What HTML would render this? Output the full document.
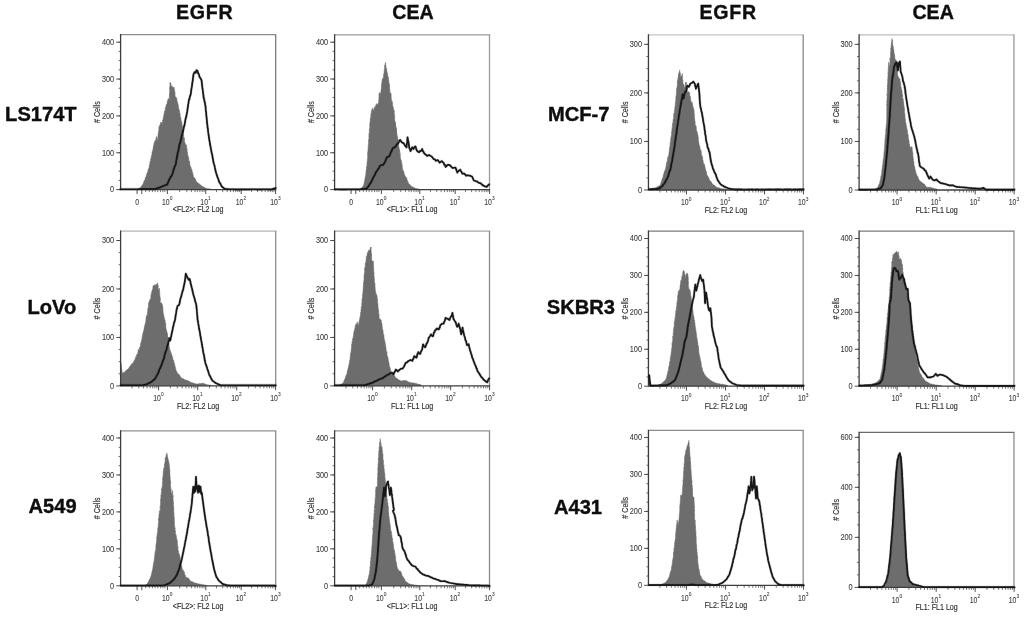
<!DOCTYPE html>
<html lang="en">
<head>
<meta charset="utf-8">
<title>EGFR and CEA expression</title>
<style>
html,body{margin:0;padding:0;background:#fff;}
body{width:1024px;height:617px;overflow:hidden;}
svg{display:block;}
text{font-family:"Liberation Sans",Arial,Helvetica,sans-serif;}
.hd{font-size:19.6px;font-weight:bold;fill:#0d0d0d;stroke:#0d0d0d;stroke-width:0.35px;}
.hw{letter-spacing:0.75px;}
.rw{font-size:20.1px;font-weight:bold;fill:#0a0a0a;stroke:#0a0a0a;stroke-width:0.35px;}
.tk{font-size:8.2px;fill:#3a3a3a;stroke:#3a3a3a;stroke-width:0.08px;}
.sup{font-size:6.2px;fill:#3a3a3a;stroke:#3a3a3a;stroke-width:0.08px;}
.ax{font-size:8.2px;fill:#303030;stroke:#303030;stroke-width:0.16px;}
</style>
</head>
<body>
<svg width="1024" height="617" viewBox="0 0 1024 617">
<defs><filter id="soft" x="-2%" y="-2%" width="104%" height="104%"><feGaussianBlur stdDeviation="0.3"/></filter></defs>
<rect x="0" y="0" width="1024" height="617" fill="#ffffff"/>
<g filter="url(#soft)">
<text x="204.6" y="18.8" text-anchor="middle" class="hd hw">EGFR</text>
<text x="413.0" y="18.8" text-anchor="middle" class="hd">CEA</text>
<text x="728.1" y="18.8" text-anchor="middle" class="hd hw">EGFR</text>
<text x="933.1" y="18.8" text-anchor="middle" class="hd">CEA</text>
<text x="76.6" y="121.0" text-anchor="end" class="rw">LS174T</text>
<text x="76.3" y="314.4" text-anchor="end" class="rw">LoVo</text>
<text x="76.6" y="513.3" text-anchor="end" class="rw">A549</text>
<text x="548.0" y="121.0" text-anchor="start" class="rw">MCF-7</text>
<text x="546.8" y="314.2" text-anchor="start" class="rw">SKBR3</text>
<text x="554.0" y="514.0" text-anchor="start" class="rw">A431</text>
<g>
<path d="M138.9 189.3 L139.6 188.4 L140.2 187.7 L140.9 186.9 L141.5 186.1 L142.2 185.1 L142.8 184.4 L143.2 183.5 L143.5 182.2 L143.9 181.7 L144.3 180.3 L144.6 180.5 L145.0 179.6 L145.3 177.9 L145.7 177.0 L146.0 176.8 L146.4 175.0 L146.7 174.4 L147.0 173.1 L147.3 172.5 L147.5 172.2 L147.8 172.1 L148.1 169.5 L148.3 170.4 L148.6 168.5 L148.9 168.6 L149.1 167.5 L149.4 164.7 L149.7 165.0 L149.9 162.7 L150.0 161.4 L150.2 161.8 L150.4 162.1 L150.6 160.5 L150.8 158.4 L151.0 159.5 L151.1 158.8 L151.3 155.8 L151.5 155.5 L151.7 155.2 L151.9 155.1 L152.1 151.7 L152.2 152.2 L152.4 152.6 L152.6 150.3 L152.8 150.0 L153.0 149.3 L153.2 147.6 L153.4 146.0 L153.6 146.1 L153.8 145.0 L154.0 143.5 L154.2 144.3 L154.4 141.8 L154.6 141.4 L154.9 141.3 L155.3 140.5 L155.7 139.7 L156.1 138.0 L156.5 136.3 L156.8 138.6 L157.2 139.8 L157.5 139.7 L157.6 139.4 L157.7 137.7 L157.9 136.7 L158.0 136.1 L158.1 133.8 L158.3 134.5 L158.4 134.2 L158.5 131.1 L158.7 132.1 L158.8 131.0 L158.9 128.2 L159.0 127.1 L159.2 127.9 L159.3 125.8 L159.4 125.6 L159.8 125.2 L160.1 124.3 L160.5 123.6 L160.8 121.9 L161.2 122.3 L161.6 122.3 L162.0 124.4 L162.1 122.9 L162.3 123.1 L162.5 122.8 L162.6 120.3 L162.8 120.0 L163.0 120.8 L163.1 118.2 L163.3 118.3 L163.4 117.1 L163.6 116.4 L163.8 114.9 L163.9 114.1 L164.2 113.7 L164.5 111.0 L164.8 112.1 L165.0 111.3 L165.3 107.7 L165.6 107.2 L165.9 106.9 L166.2 104.9 L166.6 104.1 L166.9 104.7 L167.2 102.9 L167.4 100.9 L167.6 102.7 L167.8 100.0 L168.0 99.5 L168.2 98.4 L168.7 98.9 L169.2 100.3 L169.3 98.4 L169.3 98.7 L169.3 96.8 L169.4 95.5 L169.4 94.8 L169.5 94.5 L169.5 95.2 L169.6 93.2 L169.6 93.5 L169.7 90.8 L169.7 89.4 L169.8 89.9 L169.8 87.3 L169.9 89.0 L169.9 86.1 L170.0 84.8 L170.0 83.8 L170.1 83.0 L170.1 84.1 L170.2 82.3 L170.4 83.0 L170.6 82.9 L170.8 83.2 L171.0 84.4 L171.2 86.5 L172.1 85.8 L172.6 87.1 L173.1 88.0 L174.1 87.0 L174.2 87.2 L174.3 89.2 L174.4 89.4 L174.5 91.3 L174.6 90.5 L174.7 94.1 L174.8 92.0 L175.0 94.9 L175.1 95.3 L175.5 97.4 L176.0 97.1 L176.4 99.6 L176.7 97.8 L177.0 100.6 L177.2 101.9 L177.4 102.1 L177.6 101.9 L177.8 103.5 L178.0 104.6 L178.2 104.7 L178.4 105.4 L178.6 108.5 L178.8 108.4 L179.0 108.9 L179.1 110.4 L179.3 111.3 L179.5 110.6 L179.7 113.0 L179.9 113.8 L180.0 113.2 L180.2 114.7 L180.4 117.4 L180.6 117.4 L180.7 117.1 L180.9 118.8 L181.1 119.7 L181.2 121.4 L181.4 122.8 L181.5 121.2 L181.7 122.0 L181.8 124.1 L182.0 123.7 L182.1 125.0 L182.3 125.8 L182.4 126.6 L182.6 129.2 L182.7 128.4 L182.9 130.7 L183.0 133.0 L183.2 131.3 L183.3 134.2 L183.5 134.5 L183.6 134.1 L183.8 137.5 L183.9 137.7 L184.1 137.4 L184.2 140.0 L184.4 138.4 L184.5 141.6 L184.7 142.5 L184.8 142.0 L185.5 144.7 L186.2 144.6 L186.3 146.6 L186.5 145.4 L186.6 147.8 L186.7 148.8 L186.8 148.3 L187.0 148.2 L187.1 149.0 L187.2 151.5 L187.4 152.5 L187.5 152.1 L187.6 154.6 L187.8 154.6 L188.0 155.9 L188.2 156.9 L188.4 156.8 L188.7 157.2 L188.9 160.9 L189.1 161.6 L189.3 161.7 L189.6 160.8 L189.8 163.3 L190.0 165.6 L190.2 165.8 L190.5 166.5 L190.7 166.4 L191.0 167.9 L191.2 167.9 L191.5 170.7 L191.8 169.2 L192.0 170.6 L192.3 173.0 L192.6 172.2 L192.8 173.5 L193.1 174.4 L193.3 176.3 L193.6 176.7 L194.1 178.0 L194.6 177.7 L195.1 178.5 L195.6 179.6 L196.1 180.9 L196.5 181.5 L197.3 182.6 L198.0 183.1 L198.7 183.3 L199.5 184.3 L200.3 184.7 L201.0 185.3 L201.8 186.0 L202.6 186.4 L203.4 186.9 L204.4 187.2 L205.3 187.9 L206.3 188.2 L207.3 188.7 L208.3 188.8 L209.2 188.9 L210.2 189.1 L211.2 189.3 L211.2 189.3 L138.9 189.3 Z" fill="#6d6d6d" stroke="#6d6d6d" stroke-width="0.5"/>
<path d="M120.60 34.70 H276.30" fill="none" stroke="#8c8c8c" stroke-width="1.3"/>
<path d="M275.70 34.70 V189.60" fill="none" stroke="#7c7c7c" stroke-width="1.3"/>
<path d="M120.60 34.10 V189.60 H276.30" fill="none" stroke="#3c3c3c" stroke-width="1.3"/>
<line x1="116.20" y1="42.20" x2="120.60" y2="42.20" stroke="#3c3c3c" stroke-width="0.9"/>
<text transform="translate(114.20 44.95) scale(0.900 1)" text-anchor="end" class="tk">400</text>
<line x1="116.20" y1="79.05" x2="120.60" y2="79.05" stroke="#3c3c3c" stroke-width="0.9"/>
<text transform="translate(114.20 81.80) scale(0.900 1)" text-anchor="end" class="tk">300</text>
<line x1="116.20" y1="115.90" x2="120.60" y2="115.90" stroke="#3c3c3c" stroke-width="0.9"/>
<text transform="translate(114.20 118.65) scale(0.900 1)" text-anchor="end" class="tk">200</text>
<line x1="116.20" y1="152.75" x2="120.60" y2="152.75" stroke="#3c3c3c" stroke-width="0.9"/>
<text transform="translate(114.20 155.50) scale(0.900 1)" text-anchor="end" class="tk">100</text>
<line x1="116.20" y1="189.60" x2="120.60" y2="189.60" stroke="#3c3c3c" stroke-width="0.9"/>
<text transform="translate(114.20 192.35) scale(0.900 1)" text-anchor="end" class="tk">0</text>
<line x1="118.60" y1="180.39" x2="120.60" y2="180.39" stroke="#444" stroke-width="0.8"/>
<line x1="118.60" y1="171.17" x2="120.60" y2="171.17" stroke="#444" stroke-width="0.8"/>
<line x1="118.60" y1="161.96" x2="120.60" y2="161.96" stroke="#444" stroke-width="0.8"/>
<line x1="118.60" y1="152.75" x2="120.60" y2="152.75" stroke="#444" stroke-width="0.8"/>
<line x1="118.60" y1="143.54" x2="120.60" y2="143.54" stroke="#444" stroke-width="0.8"/>
<line x1="118.60" y1="134.32" x2="120.60" y2="134.32" stroke="#444" stroke-width="0.8"/>
<line x1="118.60" y1="125.11" x2="120.60" y2="125.11" stroke="#444" stroke-width="0.8"/>
<line x1="118.60" y1="115.90" x2="120.60" y2="115.90" stroke="#444" stroke-width="0.8"/>
<line x1="118.60" y1="106.69" x2="120.60" y2="106.69" stroke="#444" stroke-width="0.8"/>
<line x1="118.60" y1="97.47" x2="120.60" y2="97.47" stroke="#444" stroke-width="0.8"/>
<line x1="118.60" y1="88.26" x2="120.60" y2="88.26" stroke="#444" stroke-width="0.8"/>
<line x1="118.60" y1="79.05" x2="120.60" y2="79.05" stroke="#444" stroke-width="0.8"/>
<line x1="118.60" y1="69.84" x2="120.60" y2="69.84" stroke="#444" stroke-width="0.8"/>
<line x1="118.60" y1="60.62" x2="120.60" y2="60.62" stroke="#444" stroke-width="0.8"/>
<line x1="118.60" y1="51.41" x2="120.60" y2="51.41" stroke="#444" stroke-width="0.8"/>
<line x1="118.60" y1="42.20" x2="120.60" y2="42.20" stroke="#444" stroke-width="0.8"/>
<line x1="145.70" y1="189.60" x2="145.70" y2="192.10" stroke="#4a4a4a" stroke-width="0.75"/>
<line x1="149.30" y1="189.60" x2="149.30" y2="192.10" stroke="#4a4a4a" stroke-width="0.75"/>
<line x1="152.40" y1="189.60" x2="152.40" y2="192.10" stroke="#4a4a4a" stroke-width="0.75"/>
<line x1="155.10" y1="189.60" x2="155.10" y2="192.10" stroke="#4a4a4a" stroke-width="0.75"/>
<line x1="157.80" y1="189.60" x2="157.80" y2="192.10" stroke="#4a4a4a" stroke-width="0.75"/>
<line x1="160.60" y1="189.60" x2="160.60" y2="192.10" stroke="#4a4a4a" stroke-width="0.75"/>
<line x1="162.90" y1="189.60" x2="162.90" y2="192.10" stroke="#4a4a4a" stroke-width="0.75"/>
<line x1="164.90" y1="189.60" x2="164.90" y2="192.10" stroke="#4a4a4a" stroke-width="0.75"/>
<line x1="179.70" y1="189.60" x2="179.70" y2="192.10" stroke="#4a4a4a" stroke-width="0.75"/>
<line x1="186.75" y1="189.60" x2="186.75" y2="192.10" stroke="#4a4a4a" stroke-width="0.75"/>
<line x1="191.40" y1="189.60" x2="191.40" y2="192.10" stroke="#4a4a4a" stroke-width="0.75"/>
<line x1="194.95" y1="189.60" x2="194.95" y2="192.10" stroke="#4a4a4a" stroke-width="0.75"/>
<line x1="197.30" y1="189.60" x2="197.30" y2="192.10" stroke="#4a4a4a" stroke-width="0.75"/>
<line x1="199.85" y1="189.60" x2="199.85" y2="192.10" stroke="#4a4a4a" stroke-width="0.75"/>
<line x1="202.10" y1="189.60" x2="202.10" y2="192.10" stroke="#4a4a4a" stroke-width="0.75"/>
<line x1="204.05" y1="189.60" x2="204.05" y2="192.10" stroke="#4a4a4a" stroke-width="0.75"/>
<line x1="216.46" y1="189.60" x2="216.46" y2="192.10" stroke="#4a4a4a" stroke-width="0.75"/>
<line x1="222.69" y1="189.60" x2="222.69" y2="192.10" stroke="#4a4a4a" stroke-width="0.75"/>
<line x1="227.11" y1="189.60" x2="227.11" y2="192.10" stroke="#4a4a4a" stroke-width="0.75"/>
<line x1="230.54" y1="189.60" x2="230.54" y2="192.10" stroke="#4a4a4a" stroke-width="0.75"/>
<line x1="233.35" y1="189.60" x2="233.35" y2="192.10" stroke="#4a4a4a" stroke-width="0.75"/>
<line x1="235.72" y1="189.60" x2="235.72" y2="192.10" stroke="#4a4a4a" stroke-width="0.75"/>
<line x1="237.77" y1="189.60" x2="237.77" y2="192.10" stroke="#4a4a4a" stroke-width="0.75"/>
<line x1="239.58" y1="189.60" x2="239.58" y2="192.10" stroke="#4a4a4a" stroke-width="0.75"/>
<line x1="251.56" y1="189.60" x2="251.56" y2="192.10" stroke="#4a4a4a" stroke-width="0.75"/>
<line x1="257.61" y1="189.60" x2="257.61" y2="192.10" stroke="#4a4a4a" stroke-width="0.75"/>
<line x1="261.91" y1="189.60" x2="261.91" y2="192.10" stroke="#4a4a4a" stroke-width="0.75"/>
<line x1="265.24" y1="189.60" x2="265.24" y2="192.10" stroke="#4a4a4a" stroke-width="0.75"/>
<line x1="267.97" y1="189.60" x2="267.97" y2="192.10" stroke="#4a4a4a" stroke-width="0.75"/>
<line x1="270.27" y1="189.60" x2="270.27" y2="192.10" stroke="#4a4a4a" stroke-width="0.75"/>
<line x1="272.27" y1="189.60" x2="272.27" y2="192.10" stroke="#4a4a4a" stroke-width="0.75"/>
<line x1="274.03" y1="189.60" x2="274.03" y2="192.10" stroke="#4a4a4a" stroke-width="0.75"/>
<line x1="137.10" y1="189.60" x2="137.10" y2="194.00" stroke="#3c3c3c" stroke-width="0.9"/>
<line x1="141.80" y1="189.60" x2="141.80" y2="194.00" stroke="#3c3c3c" stroke-width="0.9"/>
<line x1="167.40" y1="189.60" x2="167.40" y2="194.00" stroke="#3c3c3c" stroke-width="0.9"/>
<line x1="205.80" y1="189.60" x2="205.80" y2="194.00" stroke="#3c3c3c" stroke-width="0.9"/>
<line x1="241.20" y1="189.60" x2="241.20" y2="194.00" stroke="#3c3c3c" stroke-width="0.9"/>
<line x1="275.60" y1="189.60" x2="275.60" y2="194.00" stroke="#3c3c3c" stroke-width="0.9"/>
<text transform="translate(137.10 204.80) scale(0.840 1)" text-anchor="middle" class="tk">0</text>
<text transform="translate(169.60 204.80) scale(0.840 1)" text-anchor="end" class="tk">10</text>
<text transform="translate(169.70 200.10) scale(0.780 1)" text-anchor="start" class="sup">0</text>
<text transform="translate(208.00 204.80) scale(0.840 1)" text-anchor="end" class="tk">10</text>
<text transform="translate(208.10 200.10) scale(0.780 1)" text-anchor="start" class="sup">1</text>
<text transform="translate(243.40 204.80) scale(0.840 1)" text-anchor="end" class="tk">10</text>
<text transform="translate(243.50 200.10) scale(0.780 1)" text-anchor="start" class="sup">2</text>
<text transform="translate(277.80 204.80) scale(0.840 1)" text-anchor="end" class="tk">10</text>
<text transform="translate(277.90 200.10) scale(0.780 1)" text-anchor="start" class="sup">3</text>
<text transform="translate(198.10 212.30) scale(0.870 1)" text-anchor="middle" class="ax">&lt;FL2&gt;: FL2 Log</text>
<text transform="translate(100.20 112.15) rotate(-90) scale(0.87 1)" text-anchor="middle" class="ax"># Cells</text>
<path d="M120.4 189.3 L121.6 189.2 L122.8 189.2 L124.0 189.2 L125.3 189.2 L126.5 189.2 L127.7 189.2 L128.9 189.2 L130.1 189.2 L131.4 189.2 L132.6 189.2 L133.8 189.2 L135.0 189.2 L136.2 189.2 L137.5 189.2 L138.7 189.1 L139.9 189.1 L141.1 189.1 L142.3 189.1 L143.6 189.1 L144.8 189.1 L146.0 189.1 L147.2 189.1 L148.4 189.1 L149.7 189.1 L150.9 189.1 L152.1 189.1 L153.3 189.1 L154.6 189.1 L155.9 188.7 L157.2 188.3 L158.5 187.9 L159.7 187.4 L160.9 186.9 L162.1 186.4 L163.3 185.9 L164.6 185.4 L165.9 185.0 L167.2 184.4 L167.7 183.2 L168.2 182.0 L168.7 180.9 L169.2 179.5 L169.9 178.6 L170.7 176.9 L171.4 176.1 L172.1 174.5 L172.5 173.5 L172.9 172.4 L173.3 170.8 L173.7 169.2 L174.1 168.5 L174.5 166.9 L175.6 164.9 L175.9 163.3 L176.1 162.3 L176.3 160.2 L176.6 159.7 L176.8 158.1 L177.0 157.1 L177.3 155.1 L177.5 154.5 L177.7 152.8 L178.0 151.9 L178.2 151.6 L178.5 150.1 L178.7 148.7 L179.0 147.2 L179.3 145.4 L179.6 144.0 L179.9 143.4 L180.3 142.7 L180.6 141.1 L180.9 139.3 L181.2 138.9 L181.5 136.7 L181.8 135.3 L182.1 134.8 L182.4 133.5 L182.7 131.8 L183.0 131.8 L183.3 129.8 L183.6 128.7 L183.8 127.5 L184.1 125.8 L184.4 125.9 L184.6 124.7 L184.9 122.9 L185.2 120.9 L185.4 119.8 L185.7 118.5 L186.0 117.1 L186.2 117.0 L186.5 115.2 L186.8 113.9 L187.0 112.5 L187.2 111.5 L187.4 110.3 L187.6 109.0 L187.8 107.2 L188.0 106.8 L188.1 104.6 L188.3 103.8 L188.5 102.9 L188.7 101.2 L189.1 99.3 L189.4 99.4 L189.7 97.5 L190.2 95.5 L190.7 94.6 L190.9 92.7 L191.0 92.5 L191.2 90.2 L191.4 89.1 L191.5 88.1 L191.7 87.4 L191.9 86.6 L192.1 84.5 L192.2 84.0 L192.4 82.3 L192.6 81.2 L192.8 80.3 L192.9 78.4 L193.1 77.9 L193.3 76.2 L193.4 74.7 L193.6 74.0 L194.6 72.0 L195.6 72.8 L196.1 72.2 L196.5 70.2 L197.5 71.0 L197.9 72.6 L198.3 73.8 L198.7 73.9 L199.1 75.1 L199.5 76.9 L200.5 78.3 L201.4 79.9 L201.6 80.6 L201.7 81.7 L201.9 83.3 L202.0 85.3 L202.2 85.2 L202.3 87.7 L202.5 88.4 L202.6 89.2 L202.8 90.1 L202.9 91.8 L203.1 93.0 L203.2 93.6 L203.4 95.4 L203.6 97.3 L203.9 98.5 L204.1 99.4 L204.4 100.3 L204.6 102.1 L204.8 102.1 L205.1 104.3 L205.3 105.3 L205.5 106.0 L205.6 107.5 L205.7 108.8 L205.8 110.5 L205.9 111.5 L206.1 112.2 L206.2 114.2 L206.3 115.0 L206.4 116.6 L206.6 117.2 L206.7 118.4 L206.8 119.6 L206.9 120.6 L207.0 122.7 L207.2 123.8 L207.3 124.7 L207.3 124.8 L207.5 126.3 L207.6 127.9 L207.8 128.0 L207.9 129.1 L208.1 131.4 L208.3 132.7 L208.4 133.7 L208.6 134.6 L208.8 136.4 L208.9 137.5 L209.1 137.7 L209.2 139.5 L209.5 141.1 L209.7 141.5 L209.9 143.5 L210.1 144.8 L210.3 145.4 L210.5 146.5 L210.8 147.9 L211.0 149.4 L211.2 150.3 L211.5 152.2 L211.7 152.8 L212.0 153.8 L212.2 154.9 L212.5 157.0 L212.8 158.1 L213.0 159.5 L213.3 161.3 L213.5 162.1 L213.8 163.5 L214.1 164.5 L214.4 165.2 L214.7 166.7 L214.9 167.7 L215.2 169.0 L215.5 170.8 L215.8 171.5 L216.1 172.7 L216.5 174.0 L216.9 175.1 L217.3 176.7 L217.8 177.8 L218.2 178.8 L218.6 180.1 L219.0 181.5 L219.6 182.6 L220.2 183.4 L220.8 184.5 L221.3 185.7 L221.9 186.7 L222.9 187.4 L223.9 188.2 L224.9 188.9 L226.3 189.0 L227.8 189.1 L229.3 189.2 L230.7 189.3 L231.9 189.2 L233.1 189.2 L234.3 189.3 L235.6 189.3 L236.8 189.3 L238.0 189.3 L239.2 189.3 L240.4 189.3 L241.6 189.3 L242.8 189.3 L244.0 189.3 L245.2 189.3 L246.4 189.3 L247.6 189.3 L248.8 189.3 L250.0 189.3 L251.2 189.2 L252.4 189.2 L253.6 189.3 L254.9 189.2 L256.1 189.3 L257.3 189.3 L258.5 189.3 L259.7 189.3 L260.9 189.3 L262.1 189.3 L263.3 189.2 L264.5 189.3 L265.7 189.2 L266.9 189.2 L268.1 189.3 L269.3 189.3 L270.5 189.3 L271.7 189.3 L273.2 188.8 L274.7 188.3 L275.6 187.9" fill="none" stroke="#000" stroke-opacity="0.22" stroke-width="2.7" stroke-linejoin="round" stroke-linecap="round"/>
<path d="M120.4 189.3 L121.6 189.2 L122.8 189.2 L124.0 189.2 L125.3 189.2 L126.5 189.2 L127.7 189.2 L128.9 189.2 L130.1 189.2 L131.4 189.2 L132.6 189.2 L133.8 189.2 L135.0 189.2 L136.2 189.2 L137.5 189.2 L138.7 189.1 L139.9 189.1 L141.1 189.1 L142.3 189.1 L143.6 189.1 L144.8 189.1 L146.0 189.1 L147.2 189.1 L148.4 189.1 L149.7 189.1 L150.9 189.1 L152.1 189.1 L153.3 189.1 L154.6 189.1 L155.9 188.7 L157.2 188.3 L158.5 187.9 L159.7 187.4 L160.9 186.9 L162.1 186.4 L163.3 185.9 L164.6 185.4 L165.9 185.0 L167.2 184.4 L167.7 183.2 L168.2 182.0 L168.7 180.9 L169.2 179.5 L169.9 178.6 L170.7 176.9 L171.4 176.1 L172.1 174.5 L172.5 173.5 L172.9 172.4 L173.3 170.8 L173.7 169.2 L174.1 168.5 L174.5 166.9 L175.6 164.9 L175.9 163.3 L176.1 162.3 L176.3 160.2 L176.6 159.7 L176.8 158.1 L177.0 157.1 L177.3 155.1 L177.5 154.5 L177.7 152.8 L178.0 151.9 L178.2 151.6 L178.5 150.1 L178.7 148.7 L179.0 147.2 L179.3 145.4 L179.6 144.0 L179.9 143.4 L180.3 142.7 L180.6 141.1 L180.9 139.3 L181.2 138.9 L181.5 136.7 L181.8 135.3 L182.1 134.8 L182.4 133.5 L182.7 131.8 L183.0 131.8 L183.3 129.8 L183.6 128.7 L183.8 127.5 L184.1 125.8 L184.4 125.9 L184.6 124.7 L184.9 122.9 L185.2 120.9 L185.4 119.8 L185.7 118.5 L186.0 117.1 L186.2 117.0 L186.5 115.2 L186.8 113.9 L187.0 112.5 L187.2 111.5 L187.4 110.3 L187.6 109.0 L187.8 107.2 L188.0 106.8 L188.1 104.6 L188.3 103.8 L188.5 102.9 L188.7 101.2 L189.1 99.3 L189.4 99.4 L189.7 97.5 L190.2 95.5 L190.7 94.6 L190.9 92.7 L191.0 92.5 L191.2 90.2 L191.4 89.1 L191.5 88.1 L191.7 87.4 L191.9 86.6 L192.1 84.5 L192.2 84.0 L192.4 82.3 L192.6 81.2 L192.8 80.3 L192.9 78.4 L193.1 77.9 L193.3 76.2 L193.4 74.7 L193.6 74.0 L194.6 72.0 L195.6 72.8 L196.1 72.2 L196.5 70.2 L197.5 71.0 L197.9 72.6 L198.3 73.8 L198.7 73.9 L199.1 75.1 L199.5 76.9 L200.5 78.3 L201.4 79.9 L201.6 80.6 L201.7 81.7 L201.9 83.3 L202.0 85.3 L202.2 85.2 L202.3 87.7 L202.5 88.4 L202.6 89.2 L202.8 90.1 L202.9 91.8 L203.1 93.0 L203.2 93.6 L203.4 95.4 L203.6 97.3 L203.9 98.5 L204.1 99.4 L204.4 100.3 L204.6 102.1 L204.8 102.1 L205.1 104.3 L205.3 105.3 L205.5 106.0 L205.6 107.5 L205.7 108.8 L205.8 110.5 L205.9 111.5 L206.1 112.2 L206.2 114.2 L206.3 115.0 L206.4 116.6 L206.6 117.2 L206.7 118.4 L206.8 119.6 L206.9 120.6 L207.0 122.7 L207.2 123.8 L207.3 124.7 L207.3 124.8 L207.5 126.3 L207.6 127.9 L207.8 128.0 L207.9 129.1 L208.1 131.4 L208.3 132.7 L208.4 133.7 L208.6 134.6 L208.8 136.4 L208.9 137.5 L209.1 137.7 L209.2 139.5 L209.5 141.1 L209.7 141.5 L209.9 143.5 L210.1 144.8 L210.3 145.4 L210.5 146.5 L210.8 147.9 L211.0 149.4 L211.2 150.3 L211.5 152.2 L211.7 152.8 L212.0 153.8 L212.2 154.9 L212.5 157.0 L212.8 158.1 L213.0 159.5 L213.3 161.3 L213.5 162.1 L213.8 163.5 L214.1 164.5 L214.4 165.2 L214.7 166.7 L214.9 167.7 L215.2 169.0 L215.5 170.8 L215.8 171.5 L216.1 172.7 L216.5 174.0 L216.9 175.1 L217.3 176.7 L217.8 177.8 L218.2 178.8 L218.6 180.1 L219.0 181.5 L219.6 182.6 L220.2 183.4 L220.8 184.5 L221.3 185.7 L221.9 186.7 L222.9 187.4 L223.9 188.2 L224.9 188.9 L226.3 189.0 L227.8 189.1 L229.3 189.2 L230.7 189.3 L231.9 189.2 L233.1 189.2 L234.3 189.3 L235.6 189.3 L236.8 189.3 L238.0 189.3 L239.2 189.3 L240.4 189.3 L241.6 189.3 L242.8 189.3 L244.0 189.3 L245.2 189.3 L246.4 189.3 L247.6 189.3 L248.8 189.3 L250.0 189.3 L251.2 189.2 L252.4 189.2 L253.6 189.3 L254.9 189.2 L256.1 189.3 L257.3 189.3 L258.5 189.3 L259.7 189.3 L260.9 189.3 L262.1 189.3 L263.3 189.2 L264.5 189.3 L265.7 189.2 L266.9 189.2 L268.1 189.3 L269.3 189.3 L270.5 189.3 L271.7 189.3 L273.2 188.8 L274.7 188.3 L275.6 187.9" fill="none" stroke="#141414" stroke-width="1.65" stroke-linejoin="round" stroke-linecap="round"/>
</g>
<g>
<path d="M360.6 189.3 L361.2 188.4 L361.8 187.8 L362.4 187.0 L363.0 186.1 L363.6 185.4 L363.8 184.3 L364.0 183.4 L364.2 182.5 L364.4 182.0 L364.6 180.6 L364.7 180.6 L364.9 178.6 L365.1 177.9 L365.3 176.8 L365.5 176.7 L365.6 175.4 L365.7 174.7 L365.8 173.4 L365.9 173.1 L366.0 171.7 L366.1 170.3 L366.2 169.9 L366.4 168.6 L366.5 167.2 L366.6 168.2 L366.7 166.9 L366.8 166.0 L366.9 165.7 L367.0 163.3 L367.1 162.3 L367.2 161.5 L367.3 160.5 L367.4 160.4 L367.5 158.5 L367.5 157.9 L367.6 157.3 L367.7 155.7 L367.7 153.8 L367.8 155.0 L367.8 151.9 L367.9 152.8 L367.9 150.5 L368.0 149.2 L368.1 148.8 L368.1 147.5 L368.2 146.8 L368.2 147.6 L368.3 146.8 L368.3 144.8 L368.4 144.8 L368.5 143.3 L368.5 142.4 L368.6 142.7 L368.7 139.9 L368.7 140.8 L368.8 139.3 L368.9 138.3 L368.9 135.2 L369.0 134.5 L369.1 133.4 L369.1 133.5 L369.2 134.5 L369.3 133.3 L369.3 132.3 L369.4 129.1 L369.5 130.0 L369.5 129.3 L369.6 128.5 L369.7 127.5 L369.8 124.5 L369.8 123.6 L369.9 124.7 L370.0 123.6 L370.0 122.2 L370.2 120.7 L370.3 121.2 L370.4 117.8 L370.6 119.4 L370.7 118.2 L370.8 115.5 L371.0 113.6 L371.1 114.2 L371.3 113.6 L371.4 111.9 L371.7 109.7 L372.1 109.4 L372.4 110.2 L372.8 107.8 L373.3 110.5 L373.9 109.9 L374.3 108.2 L374.6 106.9 L375.0 108.7 L375.3 106.6 L375.9 105.0 L376.6 103.6 L377.2 104.4 L377.9 104.5 L378.6 101.8 L378.7 101.7 L378.7 101.5 L378.8 99.2 L378.9 98.6 L378.9 98.4 L379.0 95.6 L379.0 94.7 L379.1 95.0 L379.1 93.7 L379.2 92.6 L379.7 93.0 L380.2 94.9 L380.4 92.8 L380.6 93.1 L380.8 92.8 L381.0 90.3 L381.2 89.2 L381.3 87.7 L381.4 86.3 L381.4 85.5 L381.5 84.5 L381.6 84.2 L381.7 83.3 L381.8 82.6 L381.9 82.3 L382.0 81.4 L382.1 80.0 L382.6 78.4 L383.0 78.4 L383.5 77.0 L383.6 74.7 L383.7 75.1 L383.9 73.4 L384.0 73.6 L384.1 72.8 L384.2 70.2 L384.4 69.9 L384.5 69.1 L384.6 67.5 L384.8 65.7 L384.9 64.7 L385.0 66.8 L385.2 65.0 L385.3 63.0 L385.5 62.4 L385.6 62.5 L385.7 64.9 L385.9 66.6 L386.0 67.0 L386.1 67.0 L386.3 69.7 L386.4 69.5 L386.6 68.7 L386.8 70.8 L387.0 71.9 L387.2 72.3 L387.4 74.1 L387.6 73.8 L387.8 76.7 L388.0 78.1 L388.2 76.5 L388.4 79.0 L388.6 79.1 L388.8 81.3 L389.0 82.4 L389.2 84.3 L389.4 84.0 L389.4 84.2 L389.5 86.4 L389.6 85.5 L389.6 88.3 L389.7 88.4 L389.7 88.9 L389.8 89.7 L389.9 90.6 L389.9 92.8 L390.9 93.1 L391.0 93.6 L391.1 94.5 L391.2 95.3 L391.2 98.2 L391.3 98.5 L391.6 99.9 L391.8 101.6 L392.0 101.2 L392.3 101.9 L392.5 102.3 L392.6 104.3 L392.8 105.9 L393.0 107.5 L393.1 107.2 L393.3 107.3 L393.5 109.2 L394.2 110.5 L394.3 110.6 L394.3 113.4 L394.4 114.3 L394.5 114.3 L394.5 114.9 L394.6 114.8 L394.6 115.7 L394.7 116.5 L394.7 119.3 L394.8 120.6 L394.8 121.3 L394.9 122.2 L395.1 124.4 L395.2 123.5 L395.3 123.6 L395.4 124.3 L395.6 126.0 L395.7 127.8 L395.8 129.1 L396.0 129.0 L396.1 129.8 L396.3 132.3 L396.5 132.2 L396.6 133.7 L396.8 134.2 L396.9 136.6 L397.0 137.8 L397.1 138.3 L397.3 139.8 L397.4 138.9 L397.5 138.9 L397.6 140.7 L397.8 142.7 L397.6 141.3 L397.5 139.6 L397.4 138.5 L397.3 137.7 L397.1 137.7 L397.0 138.3 L396.9 137.3 L396.8 136.0 L396.7 135.1 L396.5 132.4 L396.4 133.4 L396.3 130.7 L396.2 130.8 L396.0 128.3 L395.9 130.2 L395.8 126.9 L395.7 127.4 L395.6 126.8 L395.4 125.8 L395.3 125.0 L395.2 123.2 L395.1 123.6 L394.9 123.2 L394.8 121.0 L395.0 123.3 L395.1 123.8 L395.2 122.2 L395.3 125.1 L395.5 124.1 L395.6 126.9 L395.7 126.9 L395.9 129.3 L396.0 127.6 L396.1 131.4 L396.3 129.5 L396.4 130.4 L396.5 131.1 L396.6 132.5 L396.8 135.0 L396.9 136.5 L397.1 137.7 L397.3 136.2 L397.4 138.7 L397.6 140.0 L397.8 140.7 L397.9 140.1 L398.1 143.2 L398.2 143.4 L398.4 144.1 L398.6 143.7 L398.7 145.2 L398.9 147.0 L399.0 147.2 L399.1 148.0 L399.3 150.3 L399.4 149.6 L399.5 151.9 L399.6 150.2 L399.8 152.7 L399.9 154.2 L400.0 152.9 L400.2 156.0 L400.3 155.6 L400.4 157.6 L400.6 158.5 L400.7 158.6 L400.9 161.3 L401.0 159.9 L401.2 160.5 L401.4 162.3 L401.6 162.0 L401.8 163.0 L401.9 166.0 L402.1 164.9 L402.3 167.1 L402.5 168.9 L402.6 168.7 L403.0 170.5 L403.3 171.5 L403.6 170.9 L403.9 171.7 L404.3 174.2 L404.6 174.8 L405.2 176.2 L405.9 176.9 L406.5 177.5 L406.9 179.1 L407.2 179.8 L407.5 180.8 L407.8 181.9 L408.2 182.0 L408.5 183.4 L409.2 184.2 L410.0 184.6 L410.7 185.5 L411.4 186.3 L412.4 186.8 L413.4 187.3 L414.4 187.7 L415.3 188.3 L416.3 188.6 L417.3 188.8 L418.3 189.0 L419.2 189.3 L419.2 189.3 L360.6 189.3 Z" fill="#6d6d6d" stroke="#6d6d6d" stroke-width="0.5"/>
<path d="M334.60 34.80 H490.10" fill="none" stroke="#9a9a9a" stroke-width="1.3"/>
<path d="M489.50 34.80 V189.60" fill="none" stroke="#9a9a9a" stroke-width="1.3"/>
<path d="M334.60 34.20 V189.60 H490.10" fill="none" stroke="#3c3c3c" stroke-width="1.3"/>
<line x1="330.20" y1="42.20" x2="334.60" y2="42.20" stroke="#3c3c3c" stroke-width="0.9"/>
<text transform="translate(328.20 44.95) scale(0.900 1)" text-anchor="end" class="tk">400</text>
<line x1="330.20" y1="79.05" x2="334.60" y2="79.05" stroke="#3c3c3c" stroke-width="0.9"/>
<text transform="translate(328.20 81.80) scale(0.900 1)" text-anchor="end" class="tk">300</text>
<line x1="330.20" y1="115.90" x2="334.60" y2="115.90" stroke="#3c3c3c" stroke-width="0.9"/>
<text transform="translate(328.20 118.65) scale(0.900 1)" text-anchor="end" class="tk">200</text>
<line x1="330.20" y1="152.75" x2="334.60" y2="152.75" stroke="#3c3c3c" stroke-width="0.9"/>
<text transform="translate(328.20 155.50) scale(0.900 1)" text-anchor="end" class="tk">100</text>
<line x1="330.20" y1="189.60" x2="334.60" y2="189.60" stroke="#3c3c3c" stroke-width="0.9"/>
<text transform="translate(328.20 192.35) scale(0.900 1)" text-anchor="end" class="tk">0</text>
<line x1="332.60" y1="180.39" x2="334.60" y2="180.39" stroke="#444" stroke-width="0.8"/>
<line x1="332.60" y1="171.17" x2="334.60" y2="171.17" stroke="#444" stroke-width="0.8"/>
<line x1="332.60" y1="161.96" x2="334.60" y2="161.96" stroke="#444" stroke-width="0.8"/>
<line x1="332.60" y1="152.75" x2="334.60" y2="152.75" stroke="#444" stroke-width="0.8"/>
<line x1="332.60" y1="143.54" x2="334.60" y2="143.54" stroke="#444" stroke-width="0.8"/>
<line x1="332.60" y1="134.32" x2="334.60" y2="134.32" stroke="#444" stroke-width="0.8"/>
<line x1="332.60" y1="125.11" x2="334.60" y2="125.11" stroke="#444" stroke-width="0.8"/>
<line x1="332.60" y1="115.90" x2="334.60" y2="115.90" stroke="#444" stroke-width="0.8"/>
<line x1="332.60" y1="106.69" x2="334.60" y2="106.69" stroke="#444" stroke-width="0.8"/>
<line x1="332.60" y1="97.47" x2="334.60" y2="97.47" stroke="#444" stroke-width="0.8"/>
<line x1="332.60" y1="88.26" x2="334.60" y2="88.26" stroke="#444" stroke-width="0.8"/>
<line x1="332.60" y1="79.05" x2="334.60" y2="79.05" stroke="#444" stroke-width="0.8"/>
<line x1="332.60" y1="69.84" x2="334.60" y2="69.84" stroke="#444" stroke-width="0.8"/>
<line x1="332.60" y1="60.62" x2="334.60" y2="60.62" stroke="#444" stroke-width="0.8"/>
<line x1="332.60" y1="51.41" x2="334.60" y2="51.41" stroke="#444" stroke-width="0.8"/>
<line x1="332.60" y1="42.20" x2="334.60" y2="42.20" stroke="#444" stroke-width="0.8"/>
<line x1="359.70" y1="189.60" x2="359.70" y2="192.10" stroke="#4a4a4a" stroke-width="0.75"/>
<line x1="363.30" y1="189.60" x2="363.30" y2="192.10" stroke="#4a4a4a" stroke-width="0.75"/>
<line x1="366.40" y1="189.60" x2="366.40" y2="192.10" stroke="#4a4a4a" stroke-width="0.75"/>
<line x1="369.10" y1="189.60" x2="369.10" y2="192.10" stroke="#4a4a4a" stroke-width="0.75"/>
<line x1="371.80" y1="189.60" x2="371.80" y2="192.10" stroke="#4a4a4a" stroke-width="0.75"/>
<line x1="374.60" y1="189.60" x2="374.60" y2="192.10" stroke="#4a4a4a" stroke-width="0.75"/>
<line x1="376.90" y1="189.60" x2="376.90" y2="192.10" stroke="#4a4a4a" stroke-width="0.75"/>
<line x1="378.90" y1="189.60" x2="378.90" y2="192.10" stroke="#4a4a4a" stroke-width="0.75"/>
<line x1="393.70" y1="189.60" x2="393.70" y2="192.10" stroke="#4a4a4a" stroke-width="0.75"/>
<line x1="400.75" y1="189.60" x2="400.75" y2="192.10" stroke="#4a4a4a" stroke-width="0.75"/>
<line x1="405.40" y1="189.60" x2="405.40" y2="192.10" stroke="#4a4a4a" stroke-width="0.75"/>
<line x1="408.95" y1="189.60" x2="408.95" y2="192.10" stroke="#4a4a4a" stroke-width="0.75"/>
<line x1="411.30" y1="189.60" x2="411.30" y2="192.10" stroke="#4a4a4a" stroke-width="0.75"/>
<line x1="413.85" y1="189.60" x2="413.85" y2="192.10" stroke="#4a4a4a" stroke-width="0.75"/>
<line x1="416.10" y1="189.60" x2="416.10" y2="192.10" stroke="#4a4a4a" stroke-width="0.75"/>
<line x1="418.05" y1="189.60" x2="418.05" y2="192.10" stroke="#4a4a4a" stroke-width="0.75"/>
<line x1="430.46" y1="189.60" x2="430.46" y2="192.10" stroke="#4a4a4a" stroke-width="0.75"/>
<line x1="436.69" y1="189.60" x2="436.69" y2="192.10" stroke="#4a4a4a" stroke-width="0.75"/>
<line x1="441.11" y1="189.60" x2="441.11" y2="192.10" stroke="#4a4a4a" stroke-width="0.75"/>
<line x1="444.54" y1="189.60" x2="444.54" y2="192.10" stroke="#4a4a4a" stroke-width="0.75"/>
<line x1="447.35" y1="189.60" x2="447.35" y2="192.10" stroke="#4a4a4a" stroke-width="0.75"/>
<line x1="449.72" y1="189.60" x2="449.72" y2="192.10" stroke="#4a4a4a" stroke-width="0.75"/>
<line x1="451.77" y1="189.60" x2="451.77" y2="192.10" stroke="#4a4a4a" stroke-width="0.75"/>
<line x1="453.58" y1="189.60" x2="453.58" y2="192.10" stroke="#4a4a4a" stroke-width="0.75"/>
<line x1="465.56" y1="189.60" x2="465.56" y2="192.10" stroke="#4a4a4a" stroke-width="0.75"/>
<line x1="471.61" y1="189.60" x2="471.61" y2="192.10" stroke="#4a4a4a" stroke-width="0.75"/>
<line x1="475.91" y1="189.60" x2="475.91" y2="192.10" stroke="#4a4a4a" stroke-width="0.75"/>
<line x1="479.24" y1="189.60" x2="479.24" y2="192.10" stroke="#4a4a4a" stroke-width="0.75"/>
<line x1="481.97" y1="189.60" x2="481.97" y2="192.10" stroke="#4a4a4a" stroke-width="0.75"/>
<line x1="484.27" y1="189.60" x2="484.27" y2="192.10" stroke="#4a4a4a" stroke-width="0.75"/>
<line x1="486.27" y1="189.60" x2="486.27" y2="192.10" stroke="#4a4a4a" stroke-width="0.75"/>
<line x1="488.03" y1="189.60" x2="488.03" y2="192.10" stroke="#4a4a4a" stroke-width="0.75"/>
<line x1="351.10" y1="189.60" x2="351.10" y2="194.00" stroke="#3c3c3c" stroke-width="0.9"/>
<line x1="355.80" y1="189.60" x2="355.80" y2="194.00" stroke="#3c3c3c" stroke-width="0.9"/>
<line x1="381.40" y1="189.60" x2="381.40" y2="194.00" stroke="#3c3c3c" stroke-width="0.9"/>
<line x1="419.80" y1="189.60" x2="419.80" y2="194.00" stroke="#3c3c3c" stroke-width="0.9"/>
<line x1="455.20" y1="189.60" x2="455.20" y2="194.00" stroke="#3c3c3c" stroke-width="0.9"/>
<line x1="489.60" y1="189.60" x2="489.60" y2="194.00" stroke="#3c3c3c" stroke-width="0.9"/>
<text transform="translate(351.10 204.80) scale(0.840 1)" text-anchor="middle" class="tk">0</text>
<text transform="translate(383.60 204.80) scale(0.840 1)" text-anchor="end" class="tk">10</text>
<text transform="translate(383.70 200.10) scale(0.780 1)" text-anchor="start" class="sup">0</text>
<text transform="translate(422.00 204.80) scale(0.840 1)" text-anchor="end" class="tk">10</text>
<text transform="translate(422.10 200.10) scale(0.780 1)" text-anchor="start" class="sup">1</text>
<text transform="translate(457.40 204.80) scale(0.840 1)" text-anchor="end" class="tk">10</text>
<text transform="translate(457.50 200.10) scale(0.780 1)" text-anchor="start" class="sup">2</text>
<text transform="translate(491.80 204.80) scale(0.840 1)" text-anchor="end" class="tk">10</text>
<text transform="translate(491.90 200.10) scale(0.780 1)" text-anchor="start" class="sup">3</text>
<text transform="translate(412.10 212.30) scale(0.870 1)" text-anchor="middle" class="ax">&lt;FL1&gt;: FL1 Log</text>
<text transform="translate(314.20 112.20) rotate(-90) scale(0.87 1)" text-anchor="middle" class="ax"># Cells</text>
<path d="M334.9 189.3 L336.1 189.3 L337.4 189.2 L338.6 189.3 L339.9 189.3 L341.1 189.3 L342.4 189.3 L343.6 189.3 L344.9 189.3 L346.2 189.3 L347.4 189.3 L348.7 189.2 L349.9 189.3 L351.2 189.3 L352.4 189.3 L353.7 189.2 L354.9 189.3 L356.2 189.2 L357.4 189.3 L358.7 189.3 L360.0 189.2 L361.3 189.1 L362.6 189.0 L363.9 188.9 L365.2 188.7 L366.5 188.7 L367.5 187.4 L368.5 186.3 L369.2 185.1 L369.9 183.9 L370.7 182.8 L371.4 181.5 L371.9 180.4 L372.5 179.1 L373.1 177.8 L373.6 177.0 L374.2 175.9 L374.7 175.1 L375.3 173.7 L376.0 172.1 L376.8 171.1 L377.5 170.2 L378.2 168.7 L379.0 168.3 L379.7 166.2 L380.4 165.7 L381.2 165.0 L383.1 165.0 L384.1 163.4 L385.1 161.8 L385.5 160.8 L386.0 159.2 L386.5 158.5 L387.0 157.0 L389.0 156.5 L389.5 155.6 L389.9 154.8 L390.4 153.3 L390.9 152.2 L391.6 150.9 L392.2 149.6 L392.9 148.0 L394.8 147.2 L395.8 146.3 L396.8 144.3 L397.8 143.7 L398.7 142.6 L399.4 140.5 L400.1 139.9 L400.9 141.1 L401.7 142.2 L403.6 143.2 L404.6 144.8 L405.6 146.3 L406.5 147.4 L406.7 145.8 L406.8 145.2 L406.9 143.5 L407.0 143.0 L407.2 141.8 L407.3 139.5 L407.4 139.2 L407.5 137.3 L407.8 138.5 L408.0 140.5 L408.3 141.1 L408.5 142.2 L408.7 143.1 L409.0 146.0 L409.2 147.3 L409.5 148.4 L410.0 149.5 L410.5 151.1 L411.1 150.1 L411.8 147.9 L412.4 147.3 L413.4 149.1 L414.4 147.3 L415.3 146.4 L415.8 147.1 L416.3 149.4 L416.8 150.2 L417.3 151.2 L419.2 152.2 L420.2 150.8 L421.2 150.8 L422.2 149.0 L422.8 151.1 L423.5 151.9 L424.1 153.2 L425.1 154.2 L426.1 154.9 L427.1 155.9 L429.0 155.0 L431.0 156.1 L431.9 156.8 L432.9 158.1 L433.9 159.2 L434.9 159.3 L435.8 160.8 L437.8 160.1 L438.8 161.5 L439.7 162.7 L440.7 161.9 L441.7 161.0 L442.7 162.2 L443.7 162.9 L444.3 164.8 L445.0 164.8 L445.6 166.9 L446.6 166.1 L447.6 164.8 L449.0 164.8 L450.5 165.7 L451.5 167.0 L452.4 167.8 L453.9 167.8 L455.4 167.6 L455.9 168.5 L456.4 170.2 L456.8 171.0 L457.3 172.6 L458.3 171.2 L459.3 170.4 L460.3 169.7 L460.9 171.3 L461.6 171.9 L462.2 173.6 L464.2 173.6 L465.1 174.4 L466.1 175.6 L467.6 175.2 L469.0 175.5 L470.5 175.9 L472.0 176.6 L472.6 177.7 L473.3 179.3 L473.9 180.5 L475.4 181.0 L476.9 181.4 L478.8 182.8 L480.8 183.4 L481.7 184.3 L482.7 185.3 L484.7 186.3 L486.6 186.9 L488.0 185.4 L489.2 184.4" fill="none" stroke="#000" stroke-opacity="0.22" stroke-width="2.7" stroke-linejoin="round" stroke-linecap="round"/>
<path d="M334.9 189.3 L336.1 189.3 L337.4 189.2 L338.6 189.3 L339.9 189.3 L341.1 189.3 L342.4 189.3 L343.6 189.3 L344.9 189.3 L346.2 189.3 L347.4 189.3 L348.7 189.2 L349.9 189.3 L351.2 189.3 L352.4 189.3 L353.7 189.2 L354.9 189.3 L356.2 189.2 L357.4 189.3 L358.7 189.3 L360.0 189.2 L361.3 189.1 L362.6 189.0 L363.9 188.9 L365.2 188.7 L366.5 188.7 L367.5 187.4 L368.5 186.3 L369.2 185.1 L369.9 183.9 L370.7 182.8 L371.4 181.5 L371.9 180.4 L372.5 179.1 L373.1 177.8 L373.6 177.0 L374.2 175.9 L374.7 175.1 L375.3 173.7 L376.0 172.1 L376.8 171.1 L377.5 170.2 L378.2 168.7 L379.0 168.3 L379.7 166.2 L380.4 165.7 L381.2 165.0 L383.1 165.0 L384.1 163.4 L385.1 161.8 L385.5 160.8 L386.0 159.2 L386.5 158.5 L387.0 157.0 L389.0 156.5 L389.5 155.6 L389.9 154.8 L390.4 153.3 L390.9 152.2 L391.6 150.9 L392.2 149.6 L392.9 148.0 L394.8 147.2 L395.8 146.3 L396.8 144.3 L397.8 143.7 L398.7 142.6 L399.4 140.5 L400.1 139.9 L400.9 141.1 L401.7 142.2 L403.6 143.2 L404.6 144.8 L405.6 146.3 L406.5 147.4 L406.7 145.8 L406.8 145.2 L406.9 143.5 L407.0 143.0 L407.2 141.8 L407.3 139.5 L407.4 139.2 L407.5 137.3 L407.8 138.5 L408.0 140.5 L408.3 141.1 L408.5 142.2 L408.7 143.1 L409.0 146.0 L409.2 147.3 L409.5 148.4 L410.0 149.5 L410.5 151.1 L411.1 150.1 L411.8 147.9 L412.4 147.3 L413.4 149.1 L414.4 147.3 L415.3 146.4 L415.8 147.1 L416.3 149.4 L416.8 150.2 L417.3 151.2 L419.2 152.2 L420.2 150.8 L421.2 150.8 L422.2 149.0 L422.8 151.1 L423.5 151.9 L424.1 153.2 L425.1 154.2 L426.1 154.9 L427.1 155.9 L429.0 155.0 L431.0 156.1 L431.9 156.8 L432.9 158.1 L433.9 159.2 L434.9 159.3 L435.8 160.8 L437.8 160.1 L438.8 161.5 L439.7 162.7 L440.7 161.9 L441.7 161.0 L442.7 162.2 L443.7 162.9 L444.3 164.8 L445.0 164.8 L445.6 166.9 L446.6 166.1 L447.6 164.8 L449.0 164.8 L450.5 165.7 L451.5 167.0 L452.4 167.8 L453.9 167.8 L455.4 167.6 L455.9 168.5 L456.4 170.2 L456.8 171.0 L457.3 172.6 L458.3 171.2 L459.3 170.4 L460.3 169.7 L460.9 171.3 L461.6 171.9 L462.2 173.6 L464.2 173.6 L465.1 174.4 L466.1 175.6 L467.6 175.2 L469.0 175.5 L470.5 175.9 L472.0 176.6 L472.6 177.7 L473.3 179.3 L473.9 180.5 L475.4 181.0 L476.9 181.4 L478.8 182.8 L480.8 183.4 L481.7 184.3 L482.7 185.3 L484.7 186.3 L486.6 186.9 L488.0 185.4 L489.2 184.4" fill="none" stroke="#141414" stroke-width="1.65" stroke-linejoin="round" stroke-linecap="round"/>
</g>
<g>
<path d="M120.8 385.6 L120.8 384.7 L120.8 383.7 L120.8 383.0 L120.8 382.0 L120.8 381.0 L120.8 380.2 L120.8 379.3 L120.8 377.9 L120.8 377.4 L120.8 376.6 L120.8 375.6 L120.9 375.2 L120.9 374.1 L120.9 372.6 L120.9 371.4 L120.9 370.3 L120.9 370.7 L120.9 369.6 L120.9 368.5 L120.9 367.2 L120.9 366.4 L120.9 364.8 L120.9 364.7 L121.0 362.7 L121.0 362.9 L121.1 364.0 L121.2 365.0 L121.3 364.8 L121.4 365.3 L121.5 366.8 L121.6 368.6 L121.8 369.1 L121.9 370.4 L122.0 370.7 L122.1 371.5 L122.2 373.3 L122.3 373.4 L123.1 372.4 L123.9 372.5 L124.7 372.0 L125.5 371.0 L126.2 370.6 L126.9 369.6 L127.5 369.3 L128.2 369.0 L128.8 368.1 L129.5 366.9 L130.1 365.7 L130.8 366.1 L131.4 363.9 L132.1 363.6 L132.7 363.5 L133.4 362.2 L134.0 360.7 L134.4 360.7 L134.8 359.4 L135.1 359.6 L135.5 357.8 L135.9 356.6 L136.2 357.2 L136.6 354.9 L137.0 353.9 L137.3 354.5 L137.7 353.7 L138.1 350.4 L138.4 349.2 L138.8 350.9 L139.2 350.1 L139.5 347.6 L139.9 346.9 L140.1 346.8 L140.4 346.6 L140.6 343.3 L140.9 343.1 L141.1 342.8 L141.4 340.4 L141.6 340.0 L141.9 339.0 L142.1 338.4 L142.2 336.7 L142.4 335.4 L142.6 335.5 L142.8 333.8 L143.0 332.8 L143.2 332.1 L143.4 332.0 L143.6 330.8 L143.8 330.8 L144.0 329.4 L144.2 327.9 L144.3 326.9 L144.5 326.3 L144.7 326.9 L144.9 324.3 L145.1 324.2 L145.2 324.4 L145.4 323.6 L145.6 321.5 L145.8 321.1 L145.9 320.3 L146.1 318.1 L146.3 316.8 L146.5 316.2 L146.7 317.3 L146.8 315.1 L147.0 315.6 L147.2 315.2 L147.4 314.1 L147.5 311.8 L147.7 310.5 L147.8 309.3 L147.9 308.2 L148.0 308.6 L148.2 307.8 L148.3 307.5 L148.4 305.8 L148.5 305.7 L148.6 303.6 L148.7 302.2 L149.2 302.3 L149.7 299.6 L150.2 300.2 L150.6 298.5 L150.8 298.5 L151.0 295.0 L151.2 294.4 L151.3 295.9 L151.5 292.3 L151.7 292.3 L151.9 291.8 L152.0 290.5 L152.2 289.9 L152.6 290.0 L152.9 287.1 L153.2 285.4 L153.6 286.0 L154.9 284.6 L155.4 284.8 L155.9 286.3 L156.3 284.1 L156.7 284.9 L157.1 283.0 L157.5 282.8 L157.6 285.0 L157.8 284.6 L157.9 287.1 L158.0 285.2 L158.2 288.4 L158.3 289.4 L158.5 290.0 L159.4 288.1 L159.5 289.5 L159.6 290.6 L159.6 291.6 L159.7 292.1 L159.7 292.4 L159.8 295.3 L159.9 296.2 L159.9 296.5 L160.0 298.3 L160.0 297.9 L160.1 297.3 L160.2 300.2 L160.2 299.2 L160.3 302.2 L160.4 302.8 L160.4 302.9 L161.1 302.7 L161.7 303.1 L162.4 304.8 L162.5 307.7 L162.6 306.2 L162.7 309.3 L162.8 307.9 L162.9 309.5 L163.0 310.9 L163.1 311.5 L163.2 314.5 L163.3 313.7 L163.5 314.8 L163.7 314.8 L163.9 315.3 L164.1 318.1 L164.3 317.8 L164.5 319.2 L164.7 320.7 L164.9 319.7 L165.1 320.4 L165.3 322.9 L165.4 325.3 L165.6 323.1 L165.8 325.5 L165.9 328.2 L166.1 328.7 L166.2 330.2 L166.4 329.7 L166.5 332.1 L166.7 331.1 L166.8 332.4 L167.0 334.6 L167.1 334.1 L167.2 335.2 L167.4 336.2 L167.5 337.0 L167.7 339.4 L167.8 339.8 L167.7 337.5 L167.5 336.8 L167.4 337.4 L167.2 336.2 L167.1 335.5 L167.0 334.1 L166.8 333.8 L166.7 331.8 L166.8 332.9 L167.0 332.8 L167.2 333.1 L167.4 336.6 L167.5 337.5 L167.7 338.6 L167.9 337.6 L168.1 340.1 L168.2 340.7 L168.4 340.3 L168.6 340.6 L168.8 341.9 L168.9 343.0 L169.1 345.3 L169.3 346.7 L169.5 347.5 L169.6 348.0 L169.8 349.8 L170.0 350.7 L170.2 350.0 L170.5 352.4 L170.7 352.7 L171.0 352.2 L171.3 354.3 L171.6 353.9 L171.9 355.6 L172.1 357.2 L172.5 356.3 L172.8 359.0 L173.1 359.6 L173.4 360.1 L173.8 360.5 L174.1 362.8 L174.3 363.3 L174.6 363.6 L174.8 365.4 L175.1 367.1 L175.3 366.7 L175.5 369.2 L175.8 368.7 L176.0 370.6 L176.6 371.1 L177.2 372.8 L177.8 373.6 L178.4 374.1 L179.0 374.4 L179.6 375.0 L180.1 376.4 L180.7 376.8 L181.3 377.8 L181.9 378.5 L182.9 378.5 L183.8 379.1 L184.8 379.9 L185.8 379.8 L186.8 380.4 L187.6 380.5 L188.4 380.8 L189.2 381.5 L190.0 381.8 L190.8 382.3 L191.7 382.7 L192.6 382.8 L193.6 383.2 L194.6 383.4 L195.6 383.7 L196.5 383.9 L197.5 383.9 L198.5 383.8 L199.5 383.6 L200.5 383.6 L201.4 383.5 L202.4 383.3 L203.4 383.3 L204.4 383.7 L205.3 384.1 L206.3 384.4 L207.3 384.8 L208.3 384.9 L209.2 385.0 L210.2 385.1 L211.2 385.2 L211.2 385.6 L120.8 385.6 Z" fill="#6d6d6d" stroke="#6d6d6d" stroke-width="0.5"/>
<path d="M120.60 231.10 H276.30" fill="none" stroke="#b4b4b4" stroke-width="1.3"/>
<path d="M275.70 231.10 V385.90" fill="none" stroke="#8c8c8c" stroke-width="1.3"/>
<path d="M120.60 230.50 V385.90 H276.30" fill="none" stroke="#3c3c3c" stroke-width="1.3"/>
<line x1="116.20" y1="240.50" x2="120.60" y2="240.50" stroke="#3c3c3c" stroke-width="0.9"/>
<text transform="translate(114.20 243.25) scale(0.900 1)" text-anchor="end" class="tk">300</text>
<line x1="116.20" y1="288.97" x2="120.60" y2="288.97" stroke="#3c3c3c" stroke-width="0.9"/>
<text transform="translate(114.20 291.72) scale(0.900 1)" text-anchor="end" class="tk">200</text>
<line x1="116.20" y1="337.43" x2="120.60" y2="337.43" stroke="#3c3c3c" stroke-width="0.9"/>
<text transform="translate(114.20 340.18) scale(0.900 1)" text-anchor="end" class="tk">100</text>
<line x1="116.20" y1="385.90" x2="120.60" y2="385.90" stroke="#3c3c3c" stroke-width="0.9"/>
<text transform="translate(114.20 388.65) scale(0.900 1)" text-anchor="end" class="tk">0</text>
<line x1="118.60" y1="373.78" x2="120.60" y2="373.78" stroke="#444" stroke-width="0.8"/>
<line x1="118.60" y1="361.67" x2="120.60" y2="361.67" stroke="#444" stroke-width="0.8"/>
<line x1="118.60" y1="349.55" x2="120.60" y2="349.55" stroke="#444" stroke-width="0.8"/>
<line x1="118.60" y1="337.43" x2="120.60" y2="337.43" stroke="#444" stroke-width="0.8"/>
<line x1="118.60" y1="325.32" x2="120.60" y2="325.32" stroke="#444" stroke-width="0.8"/>
<line x1="118.60" y1="313.20" x2="120.60" y2="313.20" stroke="#444" stroke-width="0.8"/>
<line x1="118.60" y1="301.08" x2="120.60" y2="301.08" stroke="#444" stroke-width="0.8"/>
<line x1="118.60" y1="288.97" x2="120.60" y2="288.97" stroke="#444" stroke-width="0.8"/>
<line x1="118.60" y1="276.85" x2="120.60" y2="276.85" stroke="#444" stroke-width="0.8"/>
<line x1="118.60" y1="264.73" x2="120.60" y2="264.73" stroke="#444" stroke-width="0.8"/>
<line x1="118.60" y1="252.62" x2="120.60" y2="252.62" stroke="#444" stroke-width="0.8"/>
<line x1="118.60" y1="240.50" x2="120.60" y2="240.50" stroke="#444" stroke-width="0.8"/>
<line x1="132.04" y1="385.90" x2="132.04" y2="388.40" stroke="#4a4a4a" stroke-width="0.75"/>
<line x1="138.73" y1="385.90" x2="138.73" y2="388.40" stroke="#4a4a4a" stroke-width="0.75"/>
<line x1="143.48" y1="385.90" x2="143.48" y2="388.40" stroke="#4a4a4a" stroke-width="0.75"/>
<line x1="147.16" y1="385.90" x2="147.16" y2="388.40" stroke="#4a4a4a" stroke-width="0.75"/>
<line x1="150.17" y1="385.90" x2="150.17" y2="388.40" stroke="#4a4a4a" stroke-width="0.75"/>
<line x1="152.71" y1="385.90" x2="152.71" y2="388.40" stroke="#4a4a4a" stroke-width="0.75"/>
<line x1="154.92" y1="385.90" x2="154.92" y2="388.40" stroke="#4a4a4a" stroke-width="0.75"/>
<line x1="156.86" y1="385.90" x2="156.86" y2="388.40" stroke="#4a4a4a" stroke-width="0.75"/>
<line x1="170.37" y1="385.90" x2="170.37" y2="388.40" stroke="#4a4a4a" stroke-width="0.75"/>
<line x1="177.26" y1="385.90" x2="177.26" y2="388.40" stroke="#4a4a4a" stroke-width="0.75"/>
<line x1="182.14" y1="385.90" x2="182.14" y2="388.40" stroke="#4a4a4a" stroke-width="0.75"/>
<line x1="185.93" y1="385.90" x2="185.93" y2="388.40" stroke="#4a4a4a" stroke-width="0.75"/>
<line x1="189.03" y1="385.90" x2="189.03" y2="388.40" stroke="#4a4a4a" stroke-width="0.75"/>
<line x1="191.64" y1="385.90" x2="191.64" y2="388.40" stroke="#4a4a4a" stroke-width="0.75"/>
<line x1="193.91" y1="385.90" x2="193.91" y2="388.40" stroke="#4a4a4a" stroke-width="0.75"/>
<line x1="195.91" y1="385.90" x2="195.91" y2="388.40" stroke="#4a4a4a" stroke-width="0.75"/>
<line x1="209.44" y1="385.90" x2="209.44" y2="388.40" stroke="#4a4a4a" stroke-width="0.75"/>
<line x1="216.31" y1="385.90" x2="216.31" y2="388.40" stroke="#4a4a4a" stroke-width="0.75"/>
<line x1="221.18" y1="385.90" x2="221.18" y2="388.40" stroke="#4a4a4a" stroke-width="0.75"/>
<line x1="224.96" y1="385.90" x2="224.96" y2="388.40" stroke="#4a4a4a" stroke-width="0.75"/>
<line x1="228.05" y1="385.90" x2="228.05" y2="388.40" stroke="#4a4a4a" stroke-width="0.75"/>
<line x1="230.66" y1="385.90" x2="230.66" y2="388.40" stroke="#4a4a4a" stroke-width="0.75"/>
<line x1="232.92" y1="385.90" x2="232.92" y2="388.40" stroke="#4a4a4a" stroke-width="0.75"/>
<line x1="234.92" y1="385.90" x2="234.92" y2="388.40" stroke="#4a4a4a" stroke-width="0.75"/>
<line x1="248.41" y1="385.90" x2="248.41" y2="388.40" stroke="#4a4a4a" stroke-width="0.75"/>
<line x1="255.26" y1="385.90" x2="255.26" y2="388.40" stroke="#4a4a4a" stroke-width="0.75"/>
<line x1="260.12" y1="385.90" x2="260.12" y2="388.40" stroke="#4a4a4a" stroke-width="0.75"/>
<line x1="263.89" y1="385.90" x2="263.89" y2="388.40" stroke="#4a4a4a" stroke-width="0.75"/>
<line x1="266.97" y1="385.90" x2="266.97" y2="388.40" stroke="#4a4a4a" stroke-width="0.75"/>
<line x1="269.57" y1="385.90" x2="269.57" y2="388.40" stroke="#4a4a4a" stroke-width="0.75"/>
<line x1="271.83" y1="385.90" x2="271.83" y2="388.40" stroke="#4a4a4a" stroke-width="0.75"/>
<line x1="273.82" y1="385.90" x2="273.82" y2="388.40" stroke="#4a4a4a" stroke-width="0.75"/>
<line x1="158.60" y1="385.90" x2="158.60" y2="390.30" stroke="#3c3c3c" stroke-width="0.9"/>
<line x1="197.70" y1="385.90" x2="197.70" y2="390.30" stroke="#3c3c3c" stroke-width="0.9"/>
<line x1="236.70" y1="385.90" x2="236.70" y2="390.30" stroke="#3c3c3c" stroke-width="0.9"/>
<line x1="275.60" y1="385.90" x2="275.60" y2="390.30" stroke="#3c3c3c" stroke-width="0.9"/>
<text transform="translate(160.80 401.10) scale(0.840 1)" text-anchor="end" class="tk">10</text>
<text transform="translate(160.90 396.40) scale(0.780 1)" text-anchor="start" class="sup">0</text>
<text transform="translate(199.90 401.10) scale(0.840 1)" text-anchor="end" class="tk">10</text>
<text transform="translate(200.00 396.40) scale(0.780 1)" text-anchor="start" class="sup">1</text>
<text transform="translate(238.90 401.10) scale(0.840 1)" text-anchor="end" class="tk">10</text>
<text transform="translate(239.00 396.40) scale(0.780 1)" text-anchor="start" class="sup">2</text>
<text transform="translate(277.80 401.10) scale(0.840 1)" text-anchor="end" class="tk">10</text>
<text transform="translate(277.90 396.40) scale(0.780 1)" text-anchor="start" class="sup">3</text>
<text transform="translate(198.10 408.60) scale(0.870 1)" text-anchor="middle" class="ax">FL2: FL2 Log</text>
<text transform="translate(100.20 308.50) rotate(-90) scale(0.87 1)" text-anchor="middle" class="ax"># Cells</text>
<path d="M120.8 385.2 L122.0 385.2 L123.2 385.2 L124.4 385.2 L125.7 385.2 L126.9 385.2 L128.1 385.2 L129.3 385.2 L130.6 385.2 L131.8 385.2 L133.0 385.2 L134.3 385.2 L135.5 385.2 L136.7 385.2 L137.9 385.2 L139.2 385.2 L140.4 385.2 L141.6 385.2 L142.8 385.2 L144.1 384.9 L145.4 384.6 L146.7 384.2 L148.0 383.6 L149.3 382.9 L150.6 382.3 L151.6 381.6 L152.6 380.8 L153.6 380.0 L154.6 379.4 L155.3 378.3 L156.0 377.1 L156.8 375.4 L157.5 374.4 L158.0 373.1 L158.5 372.5 L158.9 370.8 L159.4 369.6 L159.9 368.5 L160.4 367.7 L160.9 366.0 L161.4 365.6 L161.9 363.5 L162.4 362.6 L162.9 360.7 L163.3 359.8 L163.7 359.1 L164.1 358.1 L164.4 355.8 L164.8 354.7 L165.2 353.1 L165.5 352.1 L165.9 351.1 L166.3 350.1 L166.7 348.8 L167.1 347.1 L167.4 345.5 L167.8 344.7 L168.2 343.2 L168.5 341.8 L168.7 341.5 L169.0 339.7 L169.2 338.1 L170.2 340.5 L170.5 339.7 L170.8 337.5 L171.2 336.6 L171.4 334.6 L171.6 334.5 L171.9 332.3 L172.1 332.0 L172.4 330.5 L172.6 329.7 L172.9 327.6 L173.1 326.7 L173.5 325.9 L173.9 323.4 L174.3 322.1 L174.7 321.2 L175.1 319.6 L175.3 317.9 L175.5 316.6 L175.6 315.8 L175.8 315.0 L176.0 313.5 L176.2 312.4 L176.4 310.8 L176.7 309.2 L177.0 308.7 L177.3 306.9 L177.6 305.9 L179.0 305.0 L179.3 304.1 L179.6 303.2 L179.9 301.2 L180.3 299.3 L180.6 298.2 L180.9 297.4 L181.3 296.4 L181.7 294.2 L182.1 293.2 L182.5 291.2 L182.9 290.5 L183.2 289.6 L183.4 288.0 L183.7 287.1 L184.0 285.1 L184.3 284.5 L184.5 282.9 L184.8 281.8 L185.0 279.8 L185.2 279.1 L185.3 278.0 L185.5 276.1 L185.6 275.3 L185.8 273.7 L186.5 275.3 L187.2 277.0 L188.0 278.5 L188.7 279.8 L189.7 278.9 L190.0 280.3 L190.3 281.3 L190.5 282.4 L190.8 284.3 L191.1 285.2 L191.4 286.3 L191.7 287.5 L192.0 288.4 L192.3 289.8 L192.6 291.6 L193.0 292.8 L193.3 294.5 L193.6 295.4 L194.0 296.6 L194.4 298.2 L194.8 299.1 L195.2 301.5 L195.6 302.3 L195.9 303.3 L196.2 304.8 L196.5 306.3 L196.5 307.3 L196.7 308.7 L196.8 310.2 L196.9 311.4 L197.0 312.1 L197.1 313.5 L197.2 314.9 L197.3 315.6 L197.4 317.6 L197.5 318.8 L197.7 320.5 L198.0 321.2 L198.2 323.4 L198.4 324.4 L198.6 325.4 L198.8 326.3 L199.0 328.5 L199.3 329.5 L199.5 330.6 L199.7 331.3 L199.9 332.5 L200.1 333.7 L200.3 335.9 L200.6 336.4 L200.8 338.0 L201.0 339.2 L201.2 340.5 L201.4 341.2 L201.6 342.2 L201.9 344.5 L202.1 344.7 L202.3 347.2 L202.5 347.6 L202.7 348.4 L202.9 350.1 L203.2 352.1 L203.4 353.0 L203.6 353.7 L203.9 354.9 L204.1 356.0 L204.4 358.0 L204.6 358.9 L204.8 360.6 L205.1 361.0 L205.3 362.7 L205.7 364.0 L206.1 364.9 L206.5 366.5 L206.9 367.2 L207.3 368.7 L207.7 369.9 L208.1 370.9 L208.5 372.3 L208.8 373.2 L209.2 374.6 L209.8 375.8 L210.4 376.7 L211.0 378.2 L211.6 379.2 L212.2 380.4 L213.1 381.1 L214.1 381.9 L215.1 382.6 L216.1 383.3 L217.3 383.8 L218.5 384.3 L219.7 384.7 L221.0 385.2 L222.2 385.2 L223.4 385.2 L224.6 385.2 L225.8 385.2 L227.0 385.2 L228.3 385.2 L229.5 385.2 L230.7 385.2 L231.9 385.2 L233.1 385.2 L234.3 385.2 L235.5 385.2 L236.8 385.2 L238.0 385.2 L239.2 385.2 L240.4 385.2 L241.6 385.2 L242.8 385.2 L244.0 385.2 L245.3 385.2 L246.5 385.2 L247.7 385.2 L248.9 385.2 L250.1 385.2 L251.3 385.2 L252.6 385.2 L253.8 385.2 L255.0 385.2 L256.2 385.2 L257.4 385.2 L258.6 385.2 L259.8 385.2 L261.1 385.2 L262.3 385.2 L263.5 385.2 L264.7 385.2 L265.9 385.2 L267.1 385.2 L268.4 385.2 L269.6 385.2 L270.8 385.2 L272.0 385.2 L273.2 385.2 L274.4 385.2 L275.6 385.2" fill="none" stroke="#000" stroke-opacity="0.22" stroke-width="2.7" stroke-linejoin="round" stroke-linecap="round"/>
<path d="M120.8 385.2 L122.0 385.2 L123.2 385.2 L124.4 385.2 L125.7 385.2 L126.9 385.2 L128.1 385.2 L129.3 385.2 L130.6 385.2 L131.8 385.2 L133.0 385.2 L134.3 385.2 L135.5 385.2 L136.7 385.2 L137.9 385.2 L139.2 385.2 L140.4 385.2 L141.6 385.2 L142.8 385.2 L144.1 384.9 L145.4 384.6 L146.7 384.2 L148.0 383.6 L149.3 382.9 L150.6 382.3 L151.6 381.6 L152.6 380.8 L153.6 380.0 L154.6 379.4 L155.3 378.3 L156.0 377.1 L156.8 375.4 L157.5 374.4 L158.0 373.1 L158.5 372.5 L158.9 370.8 L159.4 369.6 L159.9 368.5 L160.4 367.7 L160.9 366.0 L161.4 365.6 L161.9 363.5 L162.4 362.6 L162.9 360.7 L163.3 359.8 L163.7 359.1 L164.1 358.1 L164.4 355.8 L164.8 354.7 L165.2 353.1 L165.5 352.1 L165.9 351.1 L166.3 350.1 L166.7 348.8 L167.1 347.1 L167.4 345.5 L167.8 344.7 L168.2 343.2 L168.5 341.8 L168.7 341.5 L169.0 339.7 L169.2 338.1 L170.2 340.5 L170.5 339.7 L170.8 337.5 L171.2 336.6 L171.4 334.6 L171.6 334.5 L171.9 332.3 L172.1 332.0 L172.4 330.5 L172.6 329.7 L172.9 327.6 L173.1 326.7 L173.5 325.9 L173.9 323.4 L174.3 322.1 L174.7 321.2 L175.1 319.6 L175.3 317.9 L175.5 316.6 L175.6 315.8 L175.8 315.0 L176.0 313.5 L176.2 312.4 L176.4 310.8 L176.7 309.2 L177.0 308.7 L177.3 306.9 L177.6 305.9 L179.0 305.0 L179.3 304.1 L179.6 303.2 L179.9 301.2 L180.3 299.3 L180.6 298.2 L180.9 297.4 L181.3 296.4 L181.7 294.2 L182.1 293.2 L182.5 291.2 L182.9 290.5 L183.2 289.6 L183.4 288.0 L183.7 287.1 L184.0 285.1 L184.3 284.5 L184.5 282.9 L184.8 281.8 L185.0 279.8 L185.2 279.1 L185.3 278.0 L185.5 276.1 L185.6 275.3 L185.8 273.7 L186.5 275.3 L187.2 277.0 L188.0 278.5 L188.7 279.8 L189.7 278.9 L190.0 280.3 L190.3 281.3 L190.5 282.4 L190.8 284.3 L191.1 285.2 L191.4 286.3 L191.7 287.5 L192.0 288.4 L192.3 289.8 L192.6 291.6 L193.0 292.8 L193.3 294.5 L193.6 295.4 L194.0 296.6 L194.4 298.2 L194.8 299.1 L195.2 301.5 L195.6 302.3 L195.9 303.3 L196.2 304.8 L196.5 306.3 L196.5 307.3 L196.7 308.7 L196.8 310.2 L196.9 311.4 L197.0 312.1 L197.1 313.5 L197.2 314.9 L197.3 315.6 L197.4 317.6 L197.5 318.8 L197.7 320.5 L198.0 321.2 L198.2 323.4 L198.4 324.4 L198.6 325.4 L198.8 326.3 L199.0 328.5 L199.3 329.5 L199.5 330.6 L199.7 331.3 L199.9 332.5 L200.1 333.7 L200.3 335.9 L200.6 336.4 L200.8 338.0 L201.0 339.2 L201.2 340.5 L201.4 341.2 L201.6 342.2 L201.9 344.5 L202.1 344.7 L202.3 347.2 L202.5 347.6 L202.7 348.4 L202.9 350.1 L203.2 352.1 L203.4 353.0 L203.6 353.7 L203.9 354.9 L204.1 356.0 L204.4 358.0 L204.6 358.9 L204.8 360.6 L205.1 361.0 L205.3 362.7 L205.7 364.0 L206.1 364.9 L206.5 366.5 L206.9 367.2 L207.3 368.7 L207.7 369.9 L208.1 370.9 L208.5 372.3 L208.8 373.2 L209.2 374.6 L209.8 375.8 L210.4 376.7 L211.0 378.2 L211.6 379.2 L212.2 380.4 L213.1 381.1 L214.1 381.9 L215.1 382.6 L216.1 383.3 L217.3 383.8 L218.5 384.3 L219.7 384.7 L221.0 385.2 L222.2 385.2 L223.4 385.2 L224.6 385.2 L225.8 385.2 L227.0 385.2 L228.3 385.2 L229.5 385.2 L230.7 385.2 L231.9 385.2 L233.1 385.2 L234.3 385.2 L235.5 385.2 L236.8 385.2 L238.0 385.2 L239.2 385.2 L240.4 385.2 L241.6 385.2 L242.8 385.2 L244.0 385.2 L245.3 385.2 L246.5 385.2 L247.7 385.2 L248.9 385.2 L250.1 385.2 L251.3 385.2 L252.6 385.2 L253.8 385.2 L255.0 385.2 L256.2 385.2 L257.4 385.2 L258.6 385.2 L259.8 385.2 L261.1 385.2 L262.3 385.2 L263.5 385.2 L264.7 385.2 L265.9 385.2 L267.1 385.2 L268.4 385.2 L269.6 385.2 L270.8 385.2 L272.0 385.2 L273.2 385.2 L274.4 385.2 L275.6 385.2" fill="none" stroke="#141414" stroke-width="1.65" stroke-linejoin="round" stroke-linecap="round"/>
</g>
<g>
<path d="M339.2 385.2 L340.1 384.7 L341.1 384.3 L342.1 383.8 L343.1 383.2 L343.4 382.2 L343.8 381.6 L344.1 380.4 L344.5 379.6 L344.8 379.2 L345.2 378.3 L345.6 376.6 L345.9 375.7 L346.3 374.9 L346.6 374.9 L347.0 373.3 L347.2 372.1 L347.4 371.0 L347.6 370.1 L347.8 369.9 L348.0 368.3 L348.1 367.8 L348.3 367.7 L348.5 366.8 L348.7 365.1 L348.9 365.2 L349.1 363.7 L349.3 363.5 L349.5 360.9 L349.7 360.3 L349.9 359.9 L350.0 360.3 L350.1 358.4 L350.2 357.0 L350.4 355.4 L350.5 354.5 L350.6 353.4 L350.7 355.0 L350.8 353.7 L350.9 352.8 L351.1 350.7 L351.2 350.4 L351.3 348.2 L351.4 347.8 L351.5 345.8 L351.6 345.8 L351.7 344.3 L351.9 343.8 L352.0 344.7 L352.2 341.1 L352.3 342.5 L352.5 341.2 L352.6 338.4 L352.8 338.8 L352.9 339.5 L353.1 338.6 L353.2 336.3 L353.4 336.1 L353.5 335.0 L353.7 332.7 L353.8 332.5 L354.1 331.8 L354.3 330.2 L354.5 330.6 L354.8 328.4 L355.0 328.4 L355.3 325.2 L355.5 325.5 L355.8 324.2 L356.2 324.2 L356.7 323.9 L357.1 321.8 L357.4 322.9 L357.7 324.1 L358.0 323.8 L358.3 325.5 L358.5 324.9 L358.7 324.2 L358.9 322.3 L359.1 321.7 L359.3 320.2 L359.5 320.0 L359.7 319.0 L359.8 317.3 L360.0 317.5 L360.2 317.0 L360.4 315.0 L360.5 315.5 L360.7 312.4 L360.9 313.3 L361.0 310.7 L361.1 309.7 L361.2 310.2 L361.3 306.8 L361.4 307.7 L361.5 307.6 L361.6 306.9 L361.7 305.2 L361.8 303.2 L361.9 302.2 L362.0 302.3 L362.1 299.6 L362.2 298.5 L362.3 300.3 L362.4 298.6 L362.5 296.2 L362.6 296.3 L362.7 294.8 L362.7 295.7 L362.8 293.0 L362.9 293.5 L362.9 292.6 L363.0 290.3 L363.1 289.2 L363.2 289.2 L363.2 287.9 L363.3 287.6 L363.4 285.8 L363.4 286.4 L363.5 284.3 L363.6 282.5 L363.6 283.6 L363.7 283.1 L363.8 281.5 L363.9 280.2 L363.9 280.3 L364.0 279.6 L364.1 275.8 L364.1 276.4 L364.2 274.0 L364.3 274.1 L364.3 272.9 L364.4 272.7 L364.5 272.5 L364.6 271.3 L364.7 269.3 L364.8 267.6 L364.9 269.8 L365.0 268.2 L365.2 266.6 L365.3 264.2 L365.4 263.1 L365.5 265.0 L365.7 262.8 L365.8 263.0 L365.9 261.8 L366.0 260.8 L366.1 260.1 L366.3 257.4 L366.4 256.4 L366.5 256.3 L366.8 256.2 L367.0 255.3 L367.2 254.2 L367.5 252.5 L368.1 251.7 L368.8 250.1 L369.4 250.6 L369.8 250.0 L370.1 248.6 L370.5 248.3 L370.8 247.0 L370.9 248.9 L370.9 247.1 L371.0 248.6 L371.1 250.6 L371.1 251.7 L371.2 251.3 L371.3 254.3 L371.3 253.7 L371.4 255.6 L371.5 254.2 L371.5 255.9 L371.6 256.0 L371.6 259.3 L371.7 259.4 L371.8 260.7 L372.6 261.1 L373.3 261.0 L373.4 261.7 L373.4 262.6 L373.5 263.0 L373.5 263.6 L373.5 266.2 L373.6 266.1 L373.6 267.4 L373.7 269.2 L373.7 268.7 L373.7 270.1 L373.8 270.7 L373.8 271.6 L373.9 273.6 L373.9 272.7 L373.9 274.8 L374.0 274.6 L374.1 277.3 L374.2 277.0 L374.3 280.0 L374.4 279.4 L374.4 280.9 L374.5 281.4 L374.6 283.2 L374.7 283.8 L374.8 284.5 L374.9 283.5 L375.0 284.7 L375.0 287.6 L375.1 287.4 L375.2 290.1 L375.3 289.7 L375.5 291.4 L375.7 292.1 L375.9 293.7 L376.1 293.6 L376.3 295.3 L376.5 294.6 L376.7 294.9 L376.9 295.3 L377.1 296.7 L377.2 298.7 L377.3 299.8 L377.4 298.8 L377.5 299.7 L377.6 302.1 L377.7 303.3 L377.8 303.7 L377.9 303.6 L378.0 305.4 L378.1 308.3 L378.2 308.3 L378.3 310.1 L378.4 309.3 L378.5 311.6 L378.6 311.0 L378.7 312.3 L378.8 315.4 L378.9 314.0 L379.0 315.2 L379.1 316.0 L379.2 318.2 L379.9 319.1 L380.5 319.4 L381.2 320.1 L381.3 320.7 L381.5 323.1 L381.6 323.6 L381.8 323.1 L382.0 323.8 L382.1 325.7 L382.3 326.4 L382.4 328.4 L382.6 328.9 L382.7 330.0 L382.9 330.5 L383.0 330.3 L383.2 332.8 L383.3 334.4 L383.5 334.2 L383.6 335.4 L383.8 334.7 L383.9 335.3 L384.1 337.3 L384.2 338.7 L384.4 340.1 L384.6 340.2 L384.7 341.4 L384.9 340.9 L385.1 342.8 L385.2 342.9 L385.4 344.4 L385.5 345.1 L385.7 345.7 L385.9 347.2 L386.0 348.1 L386.2 350.5 L386.4 351.8 L386.5 352.9 L386.7 352.9 L386.9 351.5 L387.0 353.7 L387.2 356.5 L387.4 356.4 L387.5 357.8 L387.7 356.6 L387.9 357.6 L388.1 358.0 L388.3 360.3 L388.4 360.7 L388.6 361.9 L388.8 361.8 L389.0 363.3 L389.2 364.4 L389.5 366.8 L389.7 367.0 L389.9 367.8 L390.2 367.7 L390.4 369.5 L390.7 370.3 L390.9 371.6 L391.5 372.2 L392.1 373.6 L392.7 373.6 L393.3 375.0 L393.9 375.3 L394.6 375.8 L395.3 377.3 L396.0 378.0 L396.8 378.3 L397.6 378.6 L398.3 379.8 L399.1 380.0 L399.9 380.1 L400.7 381.0 L401.7 380.9 L402.6 380.6 L403.6 380.6 L404.6 380.4 L405.6 380.4 L406.5 380.8 L407.5 381.3 L408.5 381.9 L409.5 382.3 L410.5 382.6 L411.4 382.7 L412.4 382.9 L413.4 382.8 L414.4 383.2 L415.3 383.3 L416.3 383.4 L417.3 383.9 L418.3 384.1 L419.2 384.3 L420.2 384.5 L421.2 384.8 L421.2 385.6 L339.2 385.6 Z" fill="#6d6d6d" stroke="#6d6d6d" stroke-width="0.5"/>
<path d="M334.60 231.10 H490.10" fill="none" stroke="#a8a8a8" stroke-width="1.3"/>
<path d="M489.50 231.10 V385.90" fill="none" stroke="#8c8c8c" stroke-width="1.3"/>
<path d="M334.60 230.50 V385.90 H490.10" fill="none" stroke="#3c3c3c" stroke-width="1.3"/>
<line x1="330.20" y1="240.50" x2="334.60" y2="240.50" stroke="#3c3c3c" stroke-width="0.9"/>
<text transform="translate(328.20 243.25) scale(0.900 1)" text-anchor="end" class="tk">300</text>
<line x1="330.20" y1="288.97" x2="334.60" y2="288.97" stroke="#3c3c3c" stroke-width="0.9"/>
<text transform="translate(328.20 291.72) scale(0.900 1)" text-anchor="end" class="tk">200</text>
<line x1="330.20" y1="337.43" x2="334.60" y2="337.43" stroke="#3c3c3c" stroke-width="0.9"/>
<text transform="translate(328.20 340.18) scale(0.900 1)" text-anchor="end" class="tk">100</text>
<line x1="330.20" y1="385.90" x2="334.60" y2="385.90" stroke="#3c3c3c" stroke-width="0.9"/>
<text transform="translate(328.20 388.65) scale(0.900 1)" text-anchor="end" class="tk">0</text>
<line x1="332.60" y1="373.78" x2="334.60" y2="373.78" stroke="#444" stroke-width="0.8"/>
<line x1="332.60" y1="361.67" x2="334.60" y2="361.67" stroke="#444" stroke-width="0.8"/>
<line x1="332.60" y1="349.55" x2="334.60" y2="349.55" stroke="#444" stroke-width="0.8"/>
<line x1="332.60" y1="337.43" x2="334.60" y2="337.43" stroke="#444" stroke-width="0.8"/>
<line x1="332.60" y1="325.32" x2="334.60" y2="325.32" stroke="#444" stroke-width="0.8"/>
<line x1="332.60" y1="313.20" x2="334.60" y2="313.20" stroke="#444" stroke-width="0.8"/>
<line x1="332.60" y1="301.08" x2="334.60" y2="301.08" stroke="#444" stroke-width="0.8"/>
<line x1="332.60" y1="288.97" x2="334.60" y2="288.97" stroke="#444" stroke-width="0.8"/>
<line x1="332.60" y1="276.85" x2="334.60" y2="276.85" stroke="#444" stroke-width="0.8"/>
<line x1="332.60" y1="264.73" x2="334.60" y2="264.73" stroke="#444" stroke-width="0.8"/>
<line x1="332.60" y1="252.62" x2="334.60" y2="252.62" stroke="#444" stroke-width="0.8"/>
<line x1="332.60" y1="240.50" x2="334.60" y2="240.50" stroke="#444" stroke-width="0.8"/>
<line x1="346.04" y1="385.90" x2="346.04" y2="388.40" stroke="#4a4a4a" stroke-width="0.75"/>
<line x1="352.73" y1="385.90" x2="352.73" y2="388.40" stroke="#4a4a4a" stroke-width="0.75"/>
<line x1="357.48" y1="385.90" x2="357.48" y2="388.40" stroke="#4a4a4a" stroke-width="0.75"/>
<line x1="361.16" y1="385.90" x2="361.16" y2="388.40" stroke="#4a4a4a" stroke-width="0.75"/>
<line x1="364.17" y1="385.90" x2="364.17" y2="388.40" stroke="#4a4a4a" stroke-width="0.75"/>
<line x1="366.71" y1="385.90" x2="366.71" y2="388.40" stroke="#4a4a4a" stroke-width="0.75"/>
<line x1="368.92" y1="385.90" x2="368.92" y2="388.40" stroke="#4a4a4a" stroke-width="0.75"/>
<line x1="370.86" y1="385.90" x2="370.86" y2="388.40" stroke="#4a4a4a" stroke-width="0.75"/>
<line x1="384.37" y1="385.90" x2="384.37" y2="388.40" stroke="#4a4a4a" stroke-width="0.75"/>
<line x1="391.26" y1="385.90" x2="391.26" y2="388.40" stroke="#4a4a4a" stroke-width="0.75"/>
<line x1="396.14" y1="385.90" x2="396.14" y2="388.40" stroke="#4a4a4a" stroke-width="0.75"/>
<line x1="399.93" y1="385.90" x2="399.93" y2="388.40" stroke="#4a4a4a" stroke-width="0.75"/>
<line x1="403.03" y1="385.90" x2="403.03" y2="388.40" stroke="#4a4a4a" stroke-width="0.75"/>
<line x1="405.64" y1="385.90" x2="405.64" y2="388.40" stroke="#4a4a4a" stroke-width="0.75"/>
<line x1="407.91" y1="385.90" x2="407.91" y2="388.40" stroke="#4a4a4a" stroke-width="0.75"/>
<line x1="409.91" y1="385.90" x2="409.91" y2="388.40" stroke="#4a4a4a" stroke-width="0.75"/>
<line x1="423.44" y1="385.90" x2="423.44" y2="388.40" stroke="#4a4a4a" stroke-width="0.75"/>
<line x1="430.31" y1="385.90" x2="430.31" y2="388.40" stroke="#4a4a4a" stroke-width="0.75"/>
<line x1="435.18" y1="385.90" x2="435.18" y2="388.40" stroke="#4a4a4a" stroke-width="0.75"/>
<line x1="438.96" y1="385.90" x2="438.96" y2="388.40" stroke="#4a4a4a" stroke-width="0.75"/>
<line x1="442.05" y1="385.90" x2="442.05" y2="388.40" stroke="#4a4a4a" stroke-width="0.75"/>
<line x1="444.66" y1="385.90" x2="444.66" y2="388.40" stroke="#4a4a4a" stroke-width="0.75"/>
<line x1="446.92" y1="385.90" x2="446.92" y2="388.40" stroke="#4a4a4a" stroke-width="0.75"/>
<line x1="448.92" y1="385.90" x2="448.92" y2="388.40" stroke="#4a4a4a" stroke-width="0.75"/>
<line x1="462.41" y1="385.90" x2="462.41" y2="388.40" stroke="#4a4a4a" stroke-width="0.75"/>
<line x1="469.26" y1="385.90" x2="469.26" y2="388.40" stroke="#4a4a4a" stroke-width="0.75"/>
<line x1="474.12" y1="385.90" x2="474.12" y2="388.40" stroke="#4a4a4a" stroke-width="0.75"/>
<line x1="477.89" y1="385.90" x2="477.89" y2="388.40" stroke="#4a4a4a" stroke-width="0.75"/>
<line x1="480.97" y1="385.90" x2="480.97" y2="388.40" stroke="#4a4a4a" stroke-width="0.75"/>
<line x1="483.57" y1="385.90" x2="483.57" y2="388.40" stroke="#4a4a4a" stroke-width="0.75"/>
<line x1="485.83" y1="385.90" x2="485.83" y2="388.40" stroke="#4a4a4a" stroke-width="0.75"/>
<line x1="487.82" y1="385.90" x2="487.82" y2="388.40" stroke="#4a4a4a" stroke-width="0.75"/>
<line x1="372.60" y1="385.90" x2="372.60" y2="390.30" stroke="#3c3c3c" stroke-width="0.9"/>
<line x1="411.70" y1="385.90" x2="411.70" y2="390.30" stroke="#3c3c3c" stroke-width="0.9"/>
<line x1="450.70" y1="385.90" x2="450.70" y2="390.30" stroke="#3c3c3c" stroke-width="0.9"/>
<line x1="489.60" y1="385.90" x2="489.60" y2="390.30" stroke="#3c3c3c" stroke-width="0.9"/>
<text transform="translate(374.80 401.10) scale(0.840 1)" text-anchor="end" class="tk">10</text>
<text transform="translate(374.90 396.40) scale(0.780 1)" text-anchor="start" class="sup">0</text>
<text transform="translate(413.90 401.10) scale(0.840 1)" text-anchor="end" class="tk">10</text>
<text transform="translate(414.00 396.40) scale(0.780 1)" text-anchor="start" class="sup">1</text>
<text transform="translate(452.90 401.10) scale(0.840 1)" text-anchor="end" class="tk">10</text>
<text transform="translate(453.00 396.40) scale(0.780 1)" text-anchor="start" class="sup">2</text>
<text transform="translate(491.80 401.10) scale(0.840 1)" text-anchor="end" class="tk">10</text>
<text transform="translate(491.90 396.40) scale(0.780 1)" text-anchor="start" class="sup">3</text>
<text transform="translate(412.10 408.60) scale(0.870 1)" text-anchor="middle" class="ax">FL1: FL1 Log</text>
<text transform="translate(314.20 308.50) rotate(-90) scale(0.87 1)" text-anchor="middle" class="ax"># Cells</text>
<path d="M334.9 385.2 L336.1 385.2 L337.3 385.2 L338.6 385.2 L339.8 385.2 L341.1 385.2 L342.3 385.2 L343.5 385.2 L344.8 385.2 L346.0 385.2 L347.2 385.2 L348.5 385.2 L349.7 385.2 L350.9 385.2 L352.2 385.2 L353.4 385.2 L354.7 385.2 L355.9 385.2 L357.1 385.2 L358.4 385.2 L359.6 385.2 L360.8 385.2 L362.1 385.2 L363.3 385.2 L364.6 385.2 L366.0 384.7 L367.5 384.2 L368.7 383.9 L369.9 383.5 L371.1 383.1 L372.4 382.7 L373.6 382.2 L374.8 381.4 L376.0 381.0 L377.2 380.4 L378.5 379.8 L379.7 379.3 L380.9 378.8 L382.1 378.4 L383.4 377.7 L384.7 376.6 L386.0 375.9 L387.3 374.8 L388.6 374.5 L389.9 373.4 L391.9 372.6 L392.7 373.2 L393.5 374.4 L394.0 373.1 L394.6 371.9 L395.2 371.1 L395.8 369.6 L396.8 370.2 L397.8 371.5 L398.7 370.5 L399.7 369.8 L400.7 368.7 L402.6 368.6 L403.2 367.8 L403.8 366.8 L404.4 365.6 L405.0 364.5 L405.6 362.9 L407.0 362.4 L408.5 360.9 L410.5 359.9 L412.4 360.8 L412.9 359.4 L413.4 358.8 L413.9 357.0 L414.4 356.1 L415.3 356.8 L416.3 357.7 L416.7 357.2 L417.1 355.5 L417.5 353.7 L417.9 353.6 L418.3 352.1 L419.2 353.5 L420.2 354.0 L420.7 352.3 L421.2 351.1 L421.7 350.4 L422.2 349.2 L422.4 348.0 L422.7 346.3 L422.9 344.9 L423.1 344.4 L424.1 346.4 L425.1 347.3 L425.8 345.9 L426.4 343.9 L427.1 343.1 L427.4 342.1 L427.8 341.4 L428.2 340.0 L428.6 338.0 L429.0 337.6 L430.0 336.1 L431.0 334.4 L431.9 335.8 L432.9 336.4 L433.3 335.3 L433.7 333.4 L434.1 332.3 L434.5 332.3 L434.9 330.5 L435.8 330.0 L436.8 328.5 L438.8 329.5 L439.3 327.8 L439.7 327.7 L440.2 325.6 L440.7 324.8 L442.2 323.7 L443.7 323.6 L444.0 322.0 L444.4 321.6 L444.8 320.8 L445.2 319.2 L445.6 317.9 L447.6 318.7 L449.5 320.0 L450.2 318.0 L450.8 316.8 L451.5 315.9 L452.0 314.6 L452.4 312.9 L452.7 314.6 L452.9 315.4 L453.2 316.7 L453.4 318.8 L454.4 320.4 L455.4 321.9 L455.9 322.9 L456.4 324.8 L456.8 325.8 L457.3 326.8 L458.0 325.5 L458.7 323.7 L459.0 325.1 L459.3 326.3 L459.6 326.9 L459.9 327.9 L460.3 329.5 L460.5 330.8 L460.7 331.4 L461.0 333.0 L461.2 334.3 L461.5 333.7 L461.8 331.6 L462.1 330.4 L462.3 328.5 L462.6 327.6 L462.9 329.7 L463.2 331.0 L463.5 332.6 L463.8 333.3 L464.1 335.2 L464.5 336.3 L464.8 337.0 L465.1 338.3 L465.5 340.3 L465.9 340.8 L466.3 342.1 L466.7 344.0 L467.1 345.2 L468.7 344.2 L468.9 345.3 L469.2 346.9 L469.5 348.0 L469.7 348.8 L470.0 350.3 L470.4 351.1 L470.8 352.5 L471.2 354.0 L471.6 354.8 L472.0 356.9 L472.5 358.1 L473.0 359.0 L473.4 360.5 L473.9 361.8 L474.4 363.1 L474.9 364.3 L475.4 365.3 L475.9 366.6 L476.4 368.3 L476.9 368.7 L477.3 370.7 L477.8 371.5 L478.8 372.8 L479.8 374.5 L480.8 376.2 L481.7 377.4 L482.7 378.4 L483.7 379.8 L484.7 380.5 L485.6 381.3 L487.2 382.3 L487.9 380.7 L488.6 379.0 L489.2 378.4" fill="none" stroke="#000" stroke-opacity="0.22" stroke-width="2.7" stroke-linejoin="round" stroke-linecap="round"/>
<path d="M334.9 385.2 L336.1 385.2 L337.3 385.2 L338.6 385.2 L339.8 385.2 L341.1 385.2 L342.3 385.2 L343.5 385.2 L344.8 385.2 L346.0 385.2 L347.2 385.2 L348.5 385.2 L349.7 385.2 L350.9 385.2 L352.2 385.2 L353.4 385.2 L354.7 385.2 L355.9 385.2 L357.1 385.2 L358.4 385.2 L359.6 385.2 L360.8 385.2 L362.1 385.2 L363.3 385.2 L364.6 385.2 L366.0 384.7 L367.5 384.2 L368.7 383.9 L369.9 383.5 L371.1 383.1 L372.4 382.7 L373.6 382.2 L374.8 381.4 L376.0 381.0 L377.2 380.4 L378.5 379.8 L379.7 379.3 L380.9 378.8 L382.1 378.4 L383.4 377.7 L384.7 376.6 L386.0 375.9 L387.3 374.8 L388.6 374.5 L389.9 373.4 L391.9 372.6 L392.7 373.2 L393.5 374.4 L394.0 373.1 L394.6 371.9 L395.2 371.1 L395.8 369.6 L396.8 370.2 L397.8 371.5 L398.7 370.5 L399.7 369.8 L400.7 368.7 L402.6 368.6 L403.2 367.8 L403.8 366.8 L404.4 365.6 L405.0 364.5 L405.6 362.9 L407.0 362.4 L408.5 360.9 L410.5 359.9 L412.4 360.8 L412.9 359.4 L413.4 358.8 L413.9 357.0 L414.4 356.1 L415.3 356.8 L416.3 357.7 L416.7 357.2 L417.1 355.5 L417.5 353.7 L417.9 353.6 L418.3 352.1 L419.2 353.5 L420.2 354.0 L420.7 352.3 L421.2 351.1 L421.7 350.4 L422.2 349.2 L422.4 348.0 L422.7 346.3 L422.9 344.9 L423.1 344.4 L424.1 346.4 L425.1 347.3 L425.8 345.9 L426.4 343.9 L427.1 343.1 L427.4 342.1 L427.8 341.4 L428.2 340.0 L428.6 338.0 L429.0 337.6 L430.0 336.1 L431.0 334.4 L431.9 335.8 L432.9 336.4 L433.3 335.3 L433.7 333.4 L434.1 332.3 L434.5 332.3 L434.9 330.5 L435.8 330.0 L436.8 328.5 L438.8 329.5 L439.3 327.8 L439.7 327.7 L440.2 325.6 L440.7 324.8 L442.2 323.7 L443.7 323.6 L444.0 322.0 L444.4 321.6 L444.8 320.8 L445.2 319.2 L445.6 317.9 L447.6 318.7 L449.5 320.0 L450.2 318.0 L450.8 316.8 L451.5 315.9 L452.0 314.6 L452.4 312.9 L452.7 314.6 L452.9 315.4 L453.2 316.7 L453.4 318.8 L454.4 320.4 L455.4 321.9 L455.9 322.9 L456.4 324.8 L456.8 325.8 L457.3 326.8 L458.0 325.5 L458.7 323.7 L459.0 325.1 L459.3 326.3 L459.6 326.9 L459.9 327.9 L460.3 329.5 L460.5 330.8 L460.7 331.4 L461.0 333.0 L461.2 334.3 L461.5 333.7 L461.8 331.6 L462.1 330.4 L462.3 328.5 L462.6 327.6 L462.9 329.7 L463.2 331.0 L463.5 332.6 L463.8 333.3 L464.1 335.2 L464.5 336.3 L464.8 337.0 L465.1 338.3 L465.5 340.3 L465.9 340.8 L466.3 342.1 L466.7 344.0 L467.1 345.2 L468.7 344.2 L468.9 345.3 L469.2 346.9 L469.5 348.0 L469.7 348.8 L470.0 350.3 L470.4 351.1 L470.8 352.5 L471.2 354.0 L471.6 354.8 L472.0 356.9 L472.5 358.1 L473.0 359.0 L473.4 360.5 L473.9 361.8 L474.4 363.1 L474.9 364.3 L475.4 365.3 L475.9 366.6 L476.4 368.3 L476.9 368.7 L477.3 370.7 L477.8 371.5 L478.8 372.8 L479.8 374.5 L480.8 376.2 L481.7 377.4 L482.7 378.4 L483.7 379.8 L484.7 380.5 L485.6 381.3 L487.2 382.3 L487.9 380.7 L488.6 379.0 L489.2 378.4" fill="none" stroke="#141414" stroke-width="1.65" stroke-linejoin="round" stroke-linecap="round"/>
</g>
<g>
<path d="M144.8 585.5 L145.5 585.0 L146.3 584.4 L147.0 583.7 L147.7 583.1 L148.1 582.3 L148.6 581.6 L149.0 580.3 L149.4 579.5 L149.8 579.2 L150.2 577.7 L150.6 577.3 L150.9 576.0 L151.1 575.5 L151.4 574.8 L151.6 573.4 L151.9 572.2 L152.1 571.0 L152.4 570.6 L152.6 569.5 L152.8 568.3 L152.9 567.5 L153.1 566.8 L153.2 565.2 L153.4 564.1 L153.5 564.2 L153.7 562.0 L153.8 562.5 L154.0 562.2 L154.1 561.5 L154.3 558.7 L154.4 558.3 L154.6 558.1 L154.7 556.3 L154.8 557.4 L154.9 554.0 L155.0 555.1 L155.1 551.6 L155.2 552.7 L155.4 552.2 L155.5 550.5 L155.6 549.8 L155.7 549.8 L155.8 549.2 L155.9 545.6 L156.0 545.8 L156.2 543.4 L156.3 543.5 L156.4 541.9 L156.5 541.7 L156.6 541.6 L156.7 538.9 L156.8 538.2 L156.9 536.8 L157.0 538.5 L157.1 535.7 L157.1 534.3 L157.2 535.1 L157.3 534.5 L157.4 533.3 L157.5 532.1 L157.6 531.2 L157.7 530.8 L157.8 528.6 L157.9 529.4 L158.0 528.0 L158.1 526.8 L158.1 526.8 L158.2 525.7 L158.3 523.8 L158.4 522.8 L158.5 522.6 L158.6 521.2 L158.6 518.5 L158.7 520.4 L158.8 517.2 L158.9 517.2 L159.0 516.2 L159.0 514.1 L159.1 514.7 L159.2 513.9 L159.3 513.7 L159.4 512.1 L159.4 510.6 L160.0 512.0 L160.1 512.5 L160.1 510.6 L160.2 510.3 L160.2 506.7 L160.3 508.0 L160.3 505.6 L160.4 504.5 L160.4 504.1 L160.5 502.7 L160.5 501.5 L160.6 501.0 L160.6 500.1 L160.7 499.3 L160.8 500.1 L160.8 497.9 L160.9 496.4 L161.0 495.0 L161.1 495.6 L161.2 493.8 L161.3 493.8 L161.4 492.0 L161.5 490.9 L161.6 490.9 L161.7 488.7 L161.8 490.4 L161.9 488.4 L162.1 487.0 L162.2 486.6 L162.3 486.9 L162.4 484.6 L162.4 483.4 L162.5 481.9 L162.6 481.5 L162.6 481.9 L162.7 480.4 L162.8 478.4 L162.9 479.5 L162.9 476.2 L163.0 476.0 L163.1 476.4 L163.1 476.0 L163.2 473.6 L163.3 471.3 L163.3 472.0 L163.5 470.7 L163.7 468.4 L163.9 468.5 L164.1 469.2 L164.3 466.6 L164.4 465.0 L164.6 464.0 L164.7 465.0 L164.8 462.5 L164.9 462.7 L165.1 461.7 L165.2 458.6 L165.3 459.2 L165.5 457.0 L165.8 458.2 L166.0 456.2 L166.2 454.9 L166.4 455.3 L166.7 453.7 L166.9 452.9 L167.1 454.0 L167.4 455.7 L167.6 456.7 L167.8 458.2 L168.2 459.0 L168.5 461.7 L168.8 461.3 L168.9 463.6 L169.0 463.5 L169.1 463.2 L169.2 465.3 L169.3 465.0 L169.4 467.3 L169.5 466.9 L169.6 470.4 L169.7 469.3 L169.8 471.3 L169.8 471.0 L169.9 471.8 L169.9 472.9 L170.0 475.6 L170.0 476.6 L170.1 477.2 L170.1 477.6 L170.2 477.2 L170.2 478.4 L170.2 478.6 L170.3 482.4 L170.3 480.8 L170.4 483.6 L170.4 482.2 L170.5 484.0 L170.5 486.0 L170.6 486.3 L170.7 486.2 L170.8 489.8 L170.9 488.8 L171.0 488.9 L171.1 492.1 L171.2 494.0 L171.3 493.5 L171.3 493.9 L171.6 493.1 L171.9 492.8 L172.2 490.6 L172.5 490.4 L172.6 492.2 L172.6 492.8 L172.7 494.3 L172.8 495.6 L172.8 495.1 L172.9 497.6 L173.0 495.7 L173.0 497.9 L173.1 499.4 L173.1 501.1 L173.2 500.5 L173.3 501.4 L173.3 503.7 L173.4 503.3 L173.4 502.9 L173.5 505.1 L173.6 505.5 L173.6 507.6 L173.7 508.3 L173.7 507.5 L173.8 509.3 L173.8 512.1 L173.9 512.7 L173.9 513.5 L174.0 513.2 L174.0 515.9 L174.1 516.5 L174.1 517.3 L174.2 517.4 L174.2 518.6 L174.2 517.9 L174.3 518.5 L174.3 519.4 L174.4 520.4 L174.4 522.8 L174.5 524.1 L174.6 524.9 L174.7 526.5 L174.8 527.4 L174.9 528.9 L175.0 527.8 L175.1 529.4 L175.2 531.8 L175.3 530.8 L175.4 533.0 L175.5 533.0 L175.6 533.9 L175.9 534.3 L176.1 535.8 L176.3 535.7 L176.6 539.4 L176.8 538.7 L177.0 539.9 L177.1 542.1 L177.2 540.5 L177.3 543.9 L177.4 543.9 L177.5 543.7 L177.6 545.7 L177.7 548.5 L177.8 546.5 L177.9 548.2 L178.0 549.6 L178.2 551.2 L178.5 550.9 L178.7 553.9 L179.0 553.4 L179.2 556.2 L179.5 554.5 L179.7 555.9 L179.9 557.2 L180.1 557.1 L180.3 558.5 L180.5 560.6 L180.7 561.4 L180.8 562.8 L181.0 562.3 L181.2 564.2 L181.4 566.1 L181.5 565.2 L181.7 565.9 L181.9 567.2 L182.4 569.5 L182.9 569.7 L183.4 570.4 L183.8 571.4 L184.2 571.6 L184.5 572.9 L184.8 574.6 L185.2 574.9 L185.5 576.3 L185.8 577.4 L186.8 577.2 L187.8 577.9 L188.7 578.3 L189.4 579.4 L190.0 580.4 L190.7 581.2 L191.7 581.6 L192.6 581.8 L193.6 582.3 L194.6 582.9 L195.6 583.1 L196.5 583.3 L197.5 583.5 L198.5 583.9 L199.5 584.0 L200.5 584.2 L201.4 584.4 L202.4 584.6 L203.4 584.7 L204.4 584.9 L205.3 585.0 L206.3 585.3 L207.3 585.6 L207.3 585.5 L144.8 585.5 Z" fill="#6d6d6d" stroke="#6d6d6d" stroke-width="0.5"/>
<path d="M120.60 430.90 H276.30" fill="none" stroke="#909090" stroke-width="1.3"/>
<path d="M275.70 430.90 V585.80" fill="none" stroke="#8c8c8c" stroke-width="1.3"/>
<path d="M120.60 430.30 V585.80 H276.30" fill="none" stroke="#3c3c3c" stroke-width="1.3"/>
<line x1="116.20" y1="438.00" x2="120.60" y2="438.00" stroke="#3c3c3c" stroke-width="0.9"/>
<text transform="translate(114.20 440.75) scale(0.900 1)" text-anchor="end" class="tk">400</text>
<line x1="116.20" y1="474.95" x2="120.60" y2="474.95" stroke="#3c3c3c" stroke-width="0.9"/>
<text transform="translate(114.20 477.70) scale(0.900 1)" text-anchor="end" class="tk">300</text>
<line x1="116.20" y1="511.90" x2="120.60" y2="511.90" stroke="#3c3c3c" stroke-width="0.9"/>
<text transform="translate(114.20 514.65) scale(0.900 1)" text-anchor="end" class="tk">200</text>
<line x1="116.20" y1="548.85" x2="120.60" y2="548.85" stroke="#3c3c3c" stroke-width="0.9"/>
<text transform="translate(114.20 551.60) scale(0.900 1)" text-anchor="end" class="tk">100</text>
<line x1="116.20" y1="585.80" x2="120.60" y2="585.80" stroke="#3c3c3c" stroke-width="0.9"/>
<text transform="translate(114.20 588.55) scale(0.900 1)" text-anchor="end" class="tk">0</text>
<line x1="118.60" y1="576.56" x2="120.60" y2="576.56" stroke="#444" stroke-width="0.8"/>
<line x1="118.60" y1="567.33" x2="120.60" y2="567.33" stroke="#444" stroke-width="0.8"/>
<line x1="118.60" y1="558.09" x2="120.60" y2="558.09" stroke="#444" stroke-width="0.8"/>
<line x1="118.60" y1="548.85" x2="120.60" y2="548.85" stroke="#444" stroke-width="0.8"/>
<line x1="118.60" y1="539.61" x2="120.60" y2="539.61" stroke="#444" stroke-width="0.8"/>
<line x1="118.60" y1="530.38" x2="120.60" y2="530.38" stroke="#444" stroke-width="0.8"/>
<line x1="118.60" y1="521.14" x2="120.60" y2="521.14" stroke="#444" stroke-width="0.8"/>
<line x1="118.60" y1="511.90" x2="120.60" y2="511.90" stroke="#444" stroke-width="0.8"/>
<line x1="118.60" y1="502.66" x2="120.60" y2="502.66" stroke="#444" stroke-width="0.8"/>
<line x1="118.60" y1="493.43" x2="120.60" y2="493.43" stroke="#444" stroke-width="0.8"/>
<line x1="118.60" y1="484.19" x2="120.60" y2="484.19" stroke="#444" stroke-width="0.8"/>
<line x1="118.60" y1="474.95" x2="120.60" y2="474.95" stroke="#444" stroke-width="0.8"/>
<line x1="118.60" y1="465.71" x2="120.60" y2="465.71" stroke="#444" stroke-width="0.8"/>
<line x1="118.60" y1="456.48" x2="120.60" y2="456.48" stroke="#444" stroke-width="0.8"/>
<line x1="118.60" y1="447.24" x2="120.60" y2="447.24" stroke="#444" stroke-width="0.8"/>
<line x1="118.60" y1="438.00" x2="120.60" y2="438.00" stroke="#444" stroke-width="0.8"/>
<line x1="145.70" y1="585.80" x2="145.70" y2="588.30" stroke="#4a4a4a" stroke-width="0.75"/>
<line x1="149.30" y1="585.80" x2="149.30" y2="588.30" stroke="#4a4a4a" stroke-width="0.75"/>
<line x1="152.40" y1="585.80" x2="152.40" y2="588.30" stroke="#4a4a4a" stroke-width="0.75"/>
<line x1="155.10" y1="585.80" x2="155.10" y2="588.30" stroke="#4a4a4a" stroke-width="0.75"/>
<line x1="157.80" y1="585.80" x2="157.80" y2="588.30" stroke="#4a4a4a" stroke-width="0.75"/>
<line x1="160.60" y1="585.80" x2="160.60" y2="588.30" stroke="#4a4a4a" stroke-width="0.75"/>
<line x1="162.90" y1="585.80" x2="162.90" y2="588.30" stroke="#4a4a4a" stroke-width="0.75"/>
<line x1="164.90" y1="585.80" x2="164.90" y2="588.30" stroke="#4a4a4a" stroke-width="0.75"/>
<line x1="179.70" y1="585.80" x2="179.70" y2="588.30" stroke="#4a4a4a" stroke-width="0.75"/>
<line x1="186.75" y1="585.80" x2="186.75" y2="588.30" stroke="#4a4a4a" stroke-width="0.75"/>
<line x1="191.40" y1="585.80" x2="191.40" y2="588.30" stroke="#4a4a4a" stroke-width="0.75"/>
<line x1="194.95" y1="585.80" x2="194.95" y2="588.30" stroke="#4a4a4a" stroke-width="0.75"/>
<line x1="197.30" y1="585.80" x2="197.30" y2="588.30" stroke="#4a4a4a" stroke-width="0.75"/>
<line x1="199.85" y1="585.80" x2="199.85" y2="588.30" stroke="#4a4a4a" stroke-width="0.75"/>
<line x1="202.10" y1="585.80" x2="202.10" y2="588.30" stroke="#4a4a4a" stroke-width="0.75"/>
<line x1="204.05" y1="585.80" x2="204.05" y2="588.30" stroke="#4a4a4a" stroke-width="0.75"/>
<line x1="216.46" y1="585.80" x2="216.46" y2="588.30" stroke="#4a4a4a" stroke-width="0.75"/>
<line x1="222.69" y1="585.80" x2="222.69" y2="588.30" stroke="#4a4a4a" stroke-width="0.75"/>
<line x1="227.11" y1="585.80" x2="227.11" y2="588.30" stroke="#4a4a4a" stroke-width="0.75"/>
<line x1="230.54" y1="585.80" x2="230.54" y2="588.30" stroke="#4a4a4a" stroke-width="0.75"/>
<line x1="233.35" y1="585.80" x2="233.35" y2="588.30" stroke="#4a4a4a" stroke-width="0.75"/>
<line x1="235.72" y1="585.80" x2="235.72" y2="588.30" stroke="#4a4a4a" stroke-width="0.75"/>
<line x1="237.77" y1="585.80" x2="237.77" y2="588.30" stroke="#4a4a4a" stroke-width="0.75"/>
<line x1="239.58" y1="585.80" x2="239.58" y2="588.30" stroke="#4a4a4a" stroke-width="0.75"/>
<line x1="251.56" y1="585.80" x2="251.56" y2="588.30" stroke="#4a4a4a" stroke-width="0.75"/>
<line x1="257.61" y1="585.80" x2="257.61" y2="588.30" stroke="#4a4a4a" stroke-width="0.75"/>
<line x1="261.91" y1="585.80" x2="261.91" y2="588.30" stroke="#4a4a4a" stroke-width="0.75"/>
<line x1="265.24" y1="585.80" x2="265.24" y2="588.30" stroke="#4a4a4a" stroke-width="0.75"/>
<line x1="267.97" y1="585.80" x2="267.97" y2="588.30" stroke="#4a4a4a" stroke-width="0.75"/>
<line x1="270.27" y1="585.80" x2="270.27" y2="588.30" stroke="#4a4a4a" stroke-width="0.75"/>
<line x1="272.27" y1="585.80" x2="272.27" y2="588.30" stroke="#4a4a4a" stroke-width="0.75"/>
<line x1="274.03" y1="585.80" x2="274.03" y2="588.30" stroke="#4a4a4a" stroke-width="0.75"/>
<line x1="137.10" y1="585.80" x2="137.10" y2="590.20" stroke="#3c3c3c" stroke-width="0.9"/>
<line x1="141.80" y1="585.80" x2="141.80" y2="590.20" stroke="#3c3c3c" stroke-width="0.9"/>
<line x1="167.40" y1="585.80" x2="167.40" y2="590.20" stroke="#3c3c3c" stroke-width="0.9"/>
<line x1="205.80" y1="585.80" x2="205.80" y2="590.20" stroke="#3c3c3c" stroke-width="0.9"/>
<line x1="241.20" y1="585.80" x2="241.20" y2="590.20" stroke="#3c3c3c" stroke-width="0.9"/>
<line x1="275.60" y1="585.80" x2="275.60" y2="590.20" stroke="#3c3c3c" stroke-width="0.9"/>
<text transform="translate(137.10 601.00) scale(0.840 1)" text-anchor="middle" class="tk">0</text>
<text transform="translate(169.60 601.00) scale(0.840 1)" text-anchor="end" class="tk">10</text>
<text transform="translate(169.70 596.30) scale(0.780 1)" text-anchor="start" class="sup">0</text>
<text transform="translate(208.00 601.00) scale(0.840 1)" text-anchor="end" class="tk">10</text>
<text transform="translate(208.10 596.30) scale(0.780 1)" text-anchor="start" class="sup">1</text>
<text transform="translate(243.40 601.00) scale(0.840 1)" text-anchor="end" class="tk">10</text>
<text transform="translate(243.50 596.30) scale(0.780 1)" text-anchor="start" class="sup">2</text>
<text transform="translate(277.80 601.00) scale(0.840 1)" text-anchor="end" class="tk">10</text>
<text transform="translate(277.90 596.30) scale(0.780 1)" text-anchor="start" class="sup">3</text>
<text transform="translate(198.10 608.50) scale(0.870 1)" text-anchor="middle" class="ax">&lt;FL2&gt;: FL2 Log</text>
<text transform="translate(100.20 508.35) rotate(-90) scale(0.87 1)" text-anchor="middle" class="ax"># Cells</text>
<path d="M120.8 585.5 L122.0 585.5 L123.2 585.5 L124.4 585.5 L125.7 585.5 L126.9 585.5 L128.1 585.5 L129.3 585.5 L130.6 585.5 L131.8 585.5 L133.0 585.5 L134.2 585.5 L135.4 585.5 L136.7 585.5 L137.9 585.5 L139.1 585.5 L140.3 585.5 L141.6 585.5 L142.8 585.5 L144.0 585.5 L145.2 585.5 L146.5 585.5 L147.7 585.5 L148.9 585.5 L150.1 585.5 L151.4 585.5 L152.6 585.5 L153.8 585.5 L155.0 585.5 L156.2 585.5 L157.5 585.5 L158.7 585.5 L159.9 585.5 L161.1 585.5 L162.4 585.5 L163.7 585.3 L165.0 585.0 L166.3 584.6 L167.6 584.0 L168.9 583.4 L170.2 582.7 L171.2 581.9 L172.1 581.0 L173.1 580.0 L174.1 579.2 L174.8 578.0 L175.5 577.0 L176.3 575.8 L177.0 574.3 L177.5 573.3 L178.0 571.8 L178.5 570.6 L179.0 569.5 L179.4 568.4 L179.7 567.0 L180.1 565.0 L180.5 563.4 L180.9 562.8 L181.2 561.4 L181.5 560.2 L181.8 559.1 L182.0 558.2 L182.3 556.6 L182.6 555.2 L182.9 553.8 L183.1 552.8 L183.4 551.7 L183.6 550.2 L183.8 549.6 L184.1 547.5 L184.3 547.0 L184.6 545.9 L184.8 544.1 L185.1 542.7 L185.3 541.6 L185.6 540.2 L185.8 539.6 L186.0 538.3 L186.3 536.3 L186.5 535.3 L186.8 534.4 L187.0 532.5 L187.2 532.0 L187.4 530.4 L187.6 528.6 L187.9 527.6 L188.1 527.0 L188.3 524.6 L188.5 523.8 L188.7 522.7 L188.9 520.9 L189.2 520.3 L189.4 518.5 L189.6 517.9 L189.8 516.6 L190.0 515.1 L190.3 513.0 L190.5 512.7 L190.7 510.8 L190.9 509.9 L191.1 508.4 L191.3 507.0 L191.5 505.3 L191.7 504.2 L191.8 503.5 L191.9 502.0 L192.0 500.6 L192.2 498.4 L192.3 497.1 L192.4 496.4 L192.5 494.7 L192.6 493.6 L192.8 492.1 L192.9 491.5 L193.0 488.8 L193.1 488.8 L193.2 486.9 L193.4 488.8 L193.6 490.0 L193.8 491.5 L194.0 492.8 L194.2 491.9 L194.3 490.8 L194.5 488.9 L194.6 488.1 L194.8 486.6 L194.9 488.1 L195.1 489.1 L195.2 490.6 L195.4 491.5 L195.4 490.3 L195.5 489.7 L195.5 487.5 L195.6 487.0 L195.6 485.4 L195.7 484.2 L195.7 482.6 L195.8 482.1 L195.8 480.0 L195.9 479.1 L195.9 477.5 L196.0 476.8 L196.0 477.4 L196.1 479.3 L196.2 480.4 L196.3 481.1 L196.3 482.3 L196.4 483.9 L196.5 485.9 L196.6 486.5 L196.7 487.8 L196.7 488.8 L197.0 487.9 L197.3 486.0 L197.5 488.2 L197.6 489.0 L197.8 490.0 L198.0 492.0 L198.1 492.7 L198.3 491.2 L198.4 490.4 L198.6 489.1 L198.7 486.9 L198.9 485.6 L199.1 487.5 L199.3 488.7 L199.5 490.7 L199.7 491.8 L199.9 491.1 L200.1 489.3 L200.3 488.5 L200.5 486.7 L200.6 487.4 L200.7 489.7 L200.8 489.6 L201.0 491.6 L201.1 492.4 L201.2 494.0 L201.8 492.8 L202.0 494.3 L202.2 495.9 L202.3 496.7 L202.5 498.2 L202.7 500.1 L202.8 500.7 L203.0 502.1 L203.2 503.4 L203.3 504.6 L203.5 505.9 L203.7 507.1 L203.8 508.1 L204.0 509.4 L204.2 511.3 L204.4 512.0 L204.4 512.9 L204.6 513.5 L204.8 515.5 L205.0 516.2 L205.2 517.6 L205.4 519.5 L205.7 520.9 L205.9 522.1 L206.1 523.0 L206.3 524.4 L206.5 526.3 L206.7 527.3 L207.0 527.8 L207.2 530.3 L207.4 530.4 L207.6 531.7 L207.8 533.5 L208.0 535.5 L208.3 536.1 L208.5 537.1 L208.7 539.0 L208.8 540.3 L209.0 542.0 L209.2 542.5 L209.4 543.7 L209.6 545.2 L209.8 545.8 L210.0 547.3 L210.2 549.0 L210.4 549.7 L210.7 551.8 L210.9 552.3 L211.1 553.3 L211.3 554.6 L211.5 555.7 L211.7 557.2 L212.0 558.7 L212.2 559.9 L212.4 560.7 L212.7 562.0 L212.9 563.6 L213.1 564.3 L213.4 565.5 L213.6 567.2 L213.9 567.8 L214.1 569.5 L214.5 570.5 L214.9 572.0 L215.3 573.5 L215.7 574.7 L216.1 576.2 L216.8 577.6 L217.5 578.5 L218.3 579.7 L219.0 580.8 L220.0 581.6 L221.0 582.4 L221.9 583.3 L222.9 584.1 L224.1 584.4 L225.4 584.7 L226.6 585.1 L227.8 585.4 L229.0 585.4 L230.2 585.5 L231.5 585.5 L232.7 585.5 L233.9 585.5 L235.2 585.5 L236.4 585.5 L237.6 585.5 L238.8 585.5 L240.1 585.5 L241.3 585.5 L242.5 585.5 L243.7 585.5 L245.0 585.5 L246.2 585.5 L247.4 585.5 L248.7 585.5 L249.9 585.5 L251.1 585.5 L252.3 585.5 L253.6 585.5 L254.8 585.5 L256.0 585.5 L257.2 585.5 L258.5 585.5 L259.7 585.5 L260.9 585.5 L262.2 585.5 L263.4 585.5 L264.6 585.5 L265.8 585.5 L267.1 585.5 L268.3 585.5 L269.5 585.5 L270.7 585.5 L272.0 585.5 L273.2 585.5 L274.4 585.5 L275.6 586.0" fill="none" stroke="#000" stroke-opacity="0.22" stroke-width="2.7" stroke-linejoin="round" stroke-linecap="round"/>
<path d="M120.8 585.5 L122.0 585.5 L123.2 585.5 L124.4 585.5 L125.7 585.5 L126.9 585.5 L128.1 585.5 L129.3 585.5 L130.6 585.5 L131.8 585.5 L133.0 585.5 L134.2 585.5 L135.4 585.5 L136.7 585.5 L137.9 585.5 L139.1 585.5 L140.3 585.5 L141.6 585.5 L142.8 585.5 L144.0 585.5 L145.2 585.5 L146.5 585.5 L147.7 585.5 L148.9 585.5 L150.1 585.5 L151.4 585.5 L152.6 585.5 L153.8 585.5 L155.0 585.5 L156.2 585.5 L157.5 585.5 L158.7 585.5 L159.9 585.5 L161.1 585.5 L162.4 585.5 L163.7 585.3 L165.0 585.0 L166.3 584.6 L167.6 584.0 L168.9 583.4 L170.2 582.7 L171.2 581.9 L172.1 581.0 L173.1 580.0 L174.1 579.2 L174.8 578.0 L175.5 577.0 L176.3 575.8 L177.0 574.3 L177.5 573.3 L178.0 571.8 L178.5 570.6 L179.0 569.5 L179.4 568.4 L179.7 567.0 L180.1 565.0 L180.5 563.4 L180.9 562.8 L181.2 561.4 L181.5 560.2 L181.8 559.1 L182.0 558.2 L182.3 556.6 L182.6 555.2 L182.9 553.8 L183.1 552.8 L183.4 551.7 L183.6 550.2 L183.8 549.6 L184.1 547.5 L184.3 547.0 L184.6 545.9 L184.8 544.1 L185.1 542.7 L185.3 541.6 L185.6 540.2 L185.8 539.6 L186.0 538.3 L186.3 536.3 L186.5 535.3 L186.8 534.4 L187.0 532.5 L187.2 532.0 L187.4 530.4 L187.6 528.6 L187.9 527.6 L188.1 527.0 L188.3 524.6 L188.5 523.8 L188.7 522.7 L188.9 520.9 L189.2 520.3 L189.4 518.5 L189.6 517.9 L189.8 516.6 L190.0 515.1 L190.3 513.0 L190.5 512.7 L190.7 510.8 L190.9 509.9 L191.1 508.4 L191.3 507.0 L191.5 505.3 L191.7 504.2 L191.8 503.5 L191.9 502.0 L192.0 500.6 L192.2 498.4 L192.3 497.1 L192.4 496.4 L192.5 494.7 L192.6 493.6 L192.8 492.1 L192.9 491.5 L193.0 488.8 L193.1 488.8 L193.2 486.9 L193.4 488.8 L193.6 490.0 L193.8 491.5 L194.0 492.8 L194.2 491.9 L194.3 490.8 L194.5 488.9 L194.6 488.1 L194.8 486.6 L194.9 488.1 L195.1 489.1 L195.2 490.6 L195.4 491.5 L195.4 490.3 L195.5 489.7 L195.5 487.5 L195.6 487.0 L195.6 485.4 L195.7 484.2 L195.7 482.6 L195.8 482.1 L195.8 480.0 L195.9 479.1 L195.9 477.5 L196.0 476.8 L196.0 477.4 L196.1 479.3 L196.2 480.4 L196.3 481.1 L196.3 482.3 L196.4 483.9 L196.5 485.9 L196.6 486.5 L196.7 487.8 L196.7 488.8 L197.0 487.9 L197.3 486.0 L197.5 488.2 L197.6 489.0 L197.8 490.0 L198.0 492.0 L198.1 492.7 L198.3 491.2 L198.4 490.4 L198.6 489.1 L198.7 486.9 L198.9 485.6 L199.1 487.5 L199.3 488.7 L199.5 490.7 L199.7 491.8 L199.9 491.1 L200.1 489.3 L200.3 488.5 L200.5 486.7 L200.6 487.4 L200.7 489.7 L200.8 489.6 L201.0 491.6 L201.1 492.4 L201.2 494.0 L201.8 492.8 L202.0 494.3 L202.2 495.9 L202.3 496.7 L202.5 498.2 L202.7 500.1 L202.8 500.7 L203.0 502.1 L203.2 503.4 L203.3 504.6 L203.5 505.9 L203.7 507.1 L203.8 508.1 L204.0 509.4 L204.2 511.3 L204.4 512.0 L204.4 512.9 L204.6 513.5 L204.8 515.5 L205.0 516.2 L205.2 517.6 L205.4 519.5 L205.7 520.9 L205.9 522.1 L206.1 523.0 L206.3 524.4 L206.5 526.3 L206.7 527.3 L207.0 527.8 L207.2 530.3 L207.4 530.4 L207.6 531.7 L207.8 533.5 L208.0 535.5 L208.3 536.1 L208.5 537.1 L208.7 539.0 L208.8 540.3 L209.0 542.0 L209.2 542.5 L209.4 543.7 L209.6 545.2 L209.8 545.8 L210.0 547.3 L210.2 549.0 L210.4 549.7 L210.7 551.8 L210.9 552.3 L211.1 553.3 L211.3 554.6 L211.5 555.7 L211.7 557.2 L212.0 558.7 L212.2 559.9 L212.4 560.7 L212.7 562.0 L212.9 563.6 L213.1 564.3 L213.4 565.5 L213.6 567.2 L213.9 567.8 L214.1 569.5 L214.5 570.5 L214.9 572.0 L215.3 573.5 L215.7 574.7 L216.1 576.2 L216.8 577.6 L217.5 578.5 L218.3 579.7 L219.0 580.8 L220.0 581.6 L221.0 582.4 L221.9 583.3 L222.9 584.1 L224.1 584.4 L225.4 584.7 L226.6 585.1 L227.8 585.4 L229.0 585.4 L230.2 585.5 L231.5 585.5 L232.7 585.5 L233.9 585.5 L235.2 585.5 L236.4 585.5 L237.6 585.5 L238.8 585.5 L240.1 585.5 L241.3 585.5 L242.5 585.5 L243.7 585.5 L245.0 585.5 L246.2 585.5 L247.4 585.5 L248.7 585.5 L249.9 585.5 L251.1 585.5 L252.3 585.5 L253.6 585.5 L254.8 585.5 L256.0 585.5 L257.2 585.5 L258.5 585.5 L259.7 585.5 L260.9 585.5 L262.2 585.5 L263.4 585.5 L264.6 585.5 L265.8 585.5 L267.1 585.5 L268.3 585.5 L269.5 585.5 L270.7 585.5 L272.0 585.5 L273.2 585.5 L274.4 585.5 L275.6 586.0" fill="none" stroke="#141414" stroke-width="1.65" stroke-linejoin="round" stroke-linecap="round"/>
</g>
<g>
<path d="M365.5 585.5 L365.9 584.7 L366.3 583.9 L366.7 583.1 L367.1 581.9 L367.5 581.2 L367.7 580.0 L368.0 578.9 L368.2 578.1 L368.5 577.5 L368.7 575.8 L368.9 575.5 L369.2 574.1 L369.4 573.2 L369.5 572.3 L369.6 571.3 L369.7 570.5 L369.8 570.5 L369.9 569.7 L370.0 567.2 L370.1 568.1 L370.2 566.3 L370.3 566.3 L370.3 565.1 L370.4 563.4 L370.5 561.6 L370.6 562.8 L370.7 562.2 L370.8 559.8 L370.9 557.5 L371.0 558.8 L371.0 557.7 L371.1 557.1 L371.2 556.5 L371.2 555.6 L371.3 553.9 L371.4 551.9 L371.5 551.4 L371.5 550.4 L371.6 550.3 L371.7 548.9 L371.8 548.6 L371.8 546.7 L371.9 546.0 L372.0 546.3 L372.1 544.8 L372.1 544.3 L372.2 542.6 L372.3 539.8 L372.4 540.0 L372.4 538.5 L372.5 537.6 L372.5 536.2 L372.6 535.3 L372.7 535.6 L372.7 535.6 L372.8 535.0 L372.8 534.4 L372.9 532.3 L373.0 529.6 L373.0 529.2 L373.1 527.9 L373.1 529.6 L373.2 526.9 L373.3 527.3 L373.3 525.5 L373.4 525.1 L373.4 525.0 L373.5 523.5 L373.6 520.7 L373.6 521.6 L373.7 519.8 L373.7 520.9 L373.8 517.7 L373.9 516.8 L373.9 517.1 L374.0 515.5 L374.1 513.5 L374.1 514.9 L374.2 514.3 L374.3 512.1 L374.3 510.1 L374.4 511.4 L374.5 508.8 L374.5 507.6 L374.6 506.0 L374.7 507.8 L374.7 504.8 L374.8 503.5 L374.9 503.4 L375.0 503.5 L375.0 503.5 L375.1 500.1 L375.2 500.5 L375.2 498.5 L375.3 498.6 L375.3 497.3 L375.4 496.9 L375.5 496.4 L375.5 494.5 L375.6 493.3 L375.6 490.8 L375.7 490.4 L375.7 491.1 L375.8 490.3 L375.8 488.8 L375.9 487.1 L377.2 486.8 L377.3 486.8 L377.3 485.9 L377.4 484.7 L377.4 483.5 L377.4 481.6 L377.5 480.7 L377.5 479.3 L377.5 479.8 L377.6 477.9 L377.6 478.5 L377.7 475.8 L377.7 475.0 L377.7 473.5 L377.8 473.2 L377.8 473.9 L377.8 473.2 L377.9 472.6 L377.9 468.8 L378.0 470.0 L378.0 468.7 L378.0 467.1 L378.1 468.1 L378.1 466.4 L378.1 464.3 L378.2 465.1 L378.2 463.1 L378.3 462.1 L378.3 461.2 L378.4 460.3 L378.5 457.9 L378.5 459.5 L378.6 457.0 L378.6 456.5 L378.7 454.7 L378.7 455.1 L378.8 452.6 L378.9 451.5 L378.9 451.2 L379.0 452.4 L379.0 450.8 L379.1 450.0 L379.1 447.1 L379.2 447.4 L379.3 447.3 L379.4 446.3 L379.5 444.4 L379.6 442.2 L379.7 442.2 L379.9 443.1 L380.0 441.9 L380.1 440.0 L380.2 438.6 L380.3 440.0 L380.5 440.9 L380.6 441.5 L380.7 443.7 L380.9 443.8 L381.0 443.3 L381.2 445.8 L381.6 447.2 L382.1 447.1 L382.2 448.5 L382.3 450.8 L382.4 450.7 L382.4 451.7 L382.5 451.9 L382.6 452.7 L382.7 455.4 L382.7 454.0 L382.8 455.5 L382.9 455.2 L383.0 457.5 L383.0 458.8 L383.1 459.4 L383.2 461.7 L383.3 460.4 L383.4 461.2 L383.5 462.7 L383.6 463.6 L383.7 466.4 L383.8 465.1 L383.9 466.9 L384.0 469.6 L384.1 468.9 L384.2 469.8 L384.3 470.7 L384.4 471.3 L384.5 472.3 L384.6 474.9 L384.7 473.3 L384.8 474.4 L385.0 477.8 L385.1 478.0 L385.2 478.5 L385.3 479.7 L385.4 480.6 L385.5 480.9 L385.6 482.4 L385.7 483.2 L385.8 484.9 L385.9 485.1 L386.0 486.6 L386.1 486.0 L386.2 489.9 L386.3 487.7 L386.3 490.1 L386.4 490.7 L386.5 490.8 L386.6 494.4 L386.6 493.6 L386.7 493.7 L386.8 495.0 L386.9 495.5 L386.9 497.5 L387.0 498.8 L387.1 500.7 L387.3 499.4 L387.4 501.9 L387.5 502.4 L387.6 504.0 L387.7 503.0 L387.9 503.7 L388.0 505.7 L388.1 508.4 L388.2 506.6 L388.3 507.5 L388.3 509.8 L388.4 509.5 L388.5 510.8 L388.6 514.3 L388.7 512.8 L388.8 515.6 L388.9 516.8 L389.0 516.6 L389.1 517.4 L389.2 517.6 L389.4 518.9 L389.5 520.4 L389.6 521.5 L389.7 522.3 L389.9 522.6 L390.0 525.2 L390.1 524.8 L390.3 525.4 L390.4 526.6 L390.5 528.7 L390.7 528.9 L390.8 530.2 L390.9 530.7 L391.1 530.8 L391.2 532.9 L391.4 531.8 L391.5 533.9 L391.7 534.7 L391.8 535.4 L392.0 535.6 L392.1 538.5 L392.3 538.0 L392.4 539.0 L392.6 539.0 L392.7 542.3 L392.9 542.4 L393.0 542.0 L393.2 543.5 L393.3 544.1 L393.5 544.7 L393.6 547.6 L393.8 547.8 L393.9 549.7 L394.1 549.9 L394.2 549.6 L394.4 552.0 L394.5 550.7 L394.7 553.2 L394.8 553.8 L395.0 553.3 L395.1 554.9 L395.3 556.6 L395.4 556.2 L395.6 557.0 L395.7 559.6 L395.9 561.6 L396.0 561.3 L396.2 563.4 L396.3 562.8 L396.5 562.6 L396.6 563.7 L396.8 565.5 L397.2 567.4 L397.6 568.2 L398.0 569.5 L398.3 569.6 L398.7 570.5 L399.7 571.0 L400.7 571.2 L401.1 572.4 L401.5 573.0 L401.9 574.7 L402.2 575.7 L402.6 576.2 L403.1 576.7 L403.6 577.7 L404.1 578.3 L404.6 579.3 L405.1 580.6 L405.6 581.2 L406.4 581.7 L407.1 582.5 L407.9 582.8 L408.7 583.6 L409.5 584.1 L410.5 584.2 L411.4 584.4 L412.4 584.5 L413.4 584.7 L414.4 584.9 L415.3 585.0 L416.3 585.2 L417.3 585.3 L418.3 585.5 L419.2 585.6 L419.2 585.5 L365.5 585.5 Z" fill="#6d6d6d" stroke="#6d6d6d" stroke-width="0.5"/>
<path d="M334.60 430.90 H490.10" fill="none" stroke="#909090" stroke-width="1.3"/>
<path d="M489.50 430.90 V585.80" fill="none" stroke="#8c8c8c" stroke-width="1.3"/>
<path d="M334.60 430.30 V585.80 H490.10" fill="none" stroke="#3c3c3c" stroke-width="1.3"/>
<line x1="330.20" y1="438.00" x2="334.60" y2="438.00" stroke="#3c3c3c" stroke-width="0.9"/>
<text transform="translate(328.20 440.75) scale(0.900 1)" text-anchor="end" class="tk">400</text>
<line x1="330.20" y1="474.95" x2="334.60" y2="474.95" stroke="#3c3c3c" stroke-width="0.9"/>
<text transform="translate(328.20 477.70) scale(0.900 1)" text-anchor="end" class="tk">300</text>
<line x1="330.20" y1="511.90" x2="334.60" y2="511.90" stroke="#3c3c3c" stroke-width="0.9"/>
<text transform="translate(328.20 514.65) scale(0.900 1)" text-anchor="end" class="tk">200</text>
<line x1="330.20" y1="548.85" x2="334.60" y2="548.85" stroke="#3c3c3c" stroke-width="0.9"/>
<text transform="translate(328.20 551.60) scale(0.900 1)" text-anchor="end" class="tk">100</text>
<line x1="330.20" y1="585.80" x2="334.60" y2="585.80" stroke="#3c3c3c" stroke-width="0.9"/>
<text transform="translate(328.20 588.55) scale(0.900 1)" text-anchor="end" class="tk">0</text>
<line x1="332.60" y1="576.56" x2="334.60" y2="576.56" stroke="#444" stroke-width="0.8"/>
<line x1="332.60" y1="567.33" x2="334.60" y2="567.33" stroke="#444" stroke-width="0.8"/>
<line x1="332.60" y1="558.09" x2="334.60" y2="558.09" stroke="#444" stroke-width="0.8"/>
<line x1="332.60" y1="548.85" x2="334.60" y2="548.85" stroke="#444" stroke-width="0.8"/>
<line x1="332.60" y1="539.61" x2="334.60" y2="539.61" stroke="#444" stroke-width="0.8"/>
<line x1="332.60" y1="530.38" x2="334.60" y2="530.38" stroke="#444" stroke-width="0.8"/>
<line x1="332.60" y1="521.14" x2="334.60" y2="521.14" stroke="#444" stroke-width="0.8"/>
<line x1="332.60" y1="511.90" x2="334.60" y2="511.90" stroke="#444" stroke-width="0.8"/>
<line x1="332.60" y1="502.66" x2="334.60" y2="502.66" stroke="#444" stroke-width="0.8"/>
<line x1="332.60" y1="493.43" x2="334.60" y2="493.43" stroke="#444" stroke-width="0.8"/>
<line x1="332.60" y1="484.19" x2="334.60" y2="484.19" stroke="#444" stroke-width="0.8"/>
<line x1="332.60" y1="474.95" x2="334.60" y2="474.95" stroke="#444" stroke-width="0.8"/>
<line x1="332.60" y1="465.71" x2="334.60" y2="465.71" stroke="#444" stroke-width="0.8"/>
<line x1="332.60" y1="456.48" x2="334.60" y2="456.48" stroke="#444" stroke-width="0.8"/>
<line x1="332.60" y1="447.24" x2="334.60" y2="447.24" stroke="#444" stroke-width="0.8"/>
<line x1="332.60" y1="438.00" x2="334.60" y2="438.00" stroke="#444" stroke-width="0.8"/>
<line x1="359.70" y1="585.80" x2="359.70" y2="588.30" stroke="#4a4a4a" stroke-width="0.75"/>
<line x1="363.30" y1="585.80" x2="363.30" y2="588.30" stroke="#4a4a4a" stroke-width="0.75"/>
<line x1="366.40" y1="585.80" x2="366.40" y2="588.30" stroke="#4a4a4a" stroke-width="0.75"/>
<line x1="369.10" y1="585.80" x2="369.10" y2="588.30" stroke="#4a4a4a" stroke-width="0.75"/>
<line x1="371.80" y1="585.80" x2="371.80" y2="588.30" stroke="#4a4a4a" stroke-width="0.75"/>
<line x1="374.60" y1="585.80" x2="374.60" y2="588.30" stroke="#4a4a4a" stroke-width="0.75"/>
<line x1="376.90" y1="585.80" x2="376.90" y2="588.30" stroke="#4a4a4a" stroke-width="0.75"/>
<line x1="378.90" y1="585.80" x2="378.90" y2="588.30" stroke="#4a4a4a" stroke-width="0.75"/>
<line x1="393.70" y1="585.80" x2="393.70" y2="588.30" stroke="#4a4a4a" stroke-width="0.75"/>
<line x1="400.75" y1="585.80" x2="400.75" y2="588.30" stroke="#4a4a4a" stroke-width="0.75"/>
<line x1="405.40" y1="585.80" x2="405.40" y2="588.30" stroke="#4a4a4a" stroke-width="0.75"/>
<line x1="408.95" y1="585.80" x2="408.95" y2="588.30" stroke="#4a4a4a" stroke-width="0.75"/>
<line x1="411.30" y1="585.80" x2="411.30" y2="588.30" stroke="#4a4a4a" stroke-width="0.75"/>
<line x1="413.85" y1="585.80" x2="413.85" y2="588.30" stroke="#4a4a4a" stroke-width="0.75"/>
<line x1="416.10" y1="585.80" x2="416.10" y2="588.30" stroke="#4a4a4a" stroke-width="0.75"/>
<line x1="418.05" y1="585.80" x2="418.05" y2="588.30" stroke="#4a4a4a" stroke-width="0.75"/>
<line x1="430.46" y1="585.80" x2="430.46" y2="588.30" stroke="#4a4a4a" stroke-width="0.75"/>
<line x1="436.69" y1="585.80" x2="436.69" y2="588.30" stroke="#4a4a4a" stroke-width="0.75"/>
<line x1="441.11" y1="585.80" x2="441.11" y2="588.30" stroke="#4a4a4a" stroke-width="0.75"/>
<line x1="444.54" y1="585.80" x2="444.54" y2="588.30" stroke="#4a4a4a" stroke-width="0.75"/>
<line x1="447.35" y1="585.80" x2="447.35" y2="588.30" stroke="#4a4a4a" stroke-width="0.75"/>
<line x1="449.72" y1="585.80" x2="449.72" y2="588.30" stroke="#4a4a4a" stroke-width="0.75"/>
<line x1="451.77" y1="585.80" x2="451.77" y2="588.30" stroke="#4a4a4a" stroke-width="0.75"/>
<line x1="453.58" y1="585.80" x2="453.58" y2="588.30" stroke="#4a4a4a" stroke-width="0.75"/>
<line x1="465.56" y1="585.80" x2="465.56" y2="588.30" stroke="#4a4a4a" stroke-width="0.75"/>
<line x1="471.61" y1="585.80" x2="471.61" y2="588.30" stroke="#4a4a4a" stroke-width="0.75"/>
<line x1="475.91" y1="585.80" x2="475.91" y2="588.30" stroke="#4a4a4a" stroke-width="0.75"/>
<line x1="479.24" y1="585.80" x2="479.24" y2="588.30" stroke="#4a4a4a" stroke-width="0.75"/>
<line x1="481.97" y1="585.80" x2="481.97" y2="588.30" stroke="#4a4a4a" stroke-width="0.75"/>
<line x1="484.27" y1="585.80" x2="484.27" y2="588.30" stroke="#4a4a4a" stroke-width="0.75"/>
<line x1="486.27" y1="585.80" x2="486.27" y2="588.30" stroke="#4a4a4a" stroke-width="0.75"/>
<line x1="488.03" y1="585.80" x2="488.03" y2="588.30" stroke="#4a4a4a" stroke-width="0.75"/>
<line x1="351.10" y1="585.80" x2="351.10" y2="590.20" stroke="#3c3c3c" stroke-width="0.9"/>
<line x1="355.80" y1="585.80" x2="355.80" y2="590.20" stroke="#3c3c3c" stroke-width="0.9"/>
<line x1="381.40" y1="585.80" x2="381.40" y2="590.20" stroke="#3c3c3c" stroke-width="0.9"/>
<line x1="419.80" y1="585.80" x2="419.80" y2="590.20" stroke="#3c3c3c" stroke-width="0.9"/>
<line x1="455.20" y1="585.80" x2="455.20" y2="590.20" stroke="#3c3c3c" stroke-width="0.9"/>
<line x1="489.60" y1="585.80" x2="489.60" y2="590.20" stroke="#3c3c3c" stroke-width="0.9"/>
<text transform="translate(351.10 601.00) scale(0.840 1)" text-anchor="middle" class="tk">0</text>
<text transform="translate(383.60 601.00) scale(0.840 1)" text-anchor="end" class="tk">10</text>
<text transform="translate(383.70 596.30) scale(0.780 1)" text-anchor="start" class="sup">0</text>
<text transform="translate(422.00 601.00) scale(0.840 1)" text-anchor="end" class="tk">10</text>
<text transform="translate(422.10 596.30) scale(0.780 1)" text-anchor="start" class="sup">1</text>
<text transform="translate(457.40 601.00) scale(0.840 1)" text-anchor="end" class="tk">10</text>
<text transform="translate(457.50 596.30) scale(0.780 1)" text-anchor="start" class="sup">2</text>
<text transform="translate(491.80 601.00) scale(0.840 1)" text-anchor="end" class="tk">10</text>
<text transform="translate(491.90 596.30) scale(0.780 1)" text-anchor="start" class="sup">3</text>
<text transform="translate(412.10 608.50) scale(0.870 1)" text-anchor="middle" class="ax">&lt;FL1&gt;: FL1 Log</text>
<text transform="translate(314.20 508.35) rotate(-90) scale(0.87 1)" text-anchor="middle" class="ax"># Cells</text>
<path d="M334.9 585.5 L336.1 585.5 L337.3 585.5 L338.6 585.5 L339.8 585.5 L341.0 585.5 L342.3 585.5 L343.5 585.5 L344.7 585.5 L346.0 585.5 L347.2 585.5 L348.4 585.5 L349.7 585.5 L350.9 585.5 L352.2 585.5 L353.4 585.5 L354.6 585.5 L355.9 585.5 L357.1 585.5 L358.3 585.5 L359.6 585.5 L360.8 585.5 L362.0 585.5 L363.3 585.5 L364.5 585.5 L365.7 585.5 L367.0 585.5 L368.2 585.5 L369.4 585.5 L370.9 584.9 L372.4 584.1 L372.9 582.8 L373.3 581.6 L373.8 580.5 L374.3 579.2 L374.6 578.1 L374.8 576.5 L375.1 575.0 L375.4 574.3 L375.6 572.5 L375.9 571.4 L376.0 569.8 L376.2 568.8 L376.3 567.7 L376.5 566.7 L376.6 564.7 L376.8 563.5 L376.9 562.7 L377.1 561.0 L377.2 559.5 L377.3 558.2 L377.4 556.8 L377.5 556.3 L377.6 554.9 L377.7 552.9 L377.8 552.2 L377.9 551.3 L378.0 550.2 L378.0 548.8 L378.1 547.3 L378.2 546.0 L378.3 545.4 L378.4 543.4 L378.5 541.9 L378.6 540.7 L378.7 539.6 L378.8 538.4 L378.8 537.0 L378.9 535.9 L379.0 535.3 L379.1 533.1 L379.2 532.2 L379.3 530.7 L379.4 529.4 L379.5 529.4 L379.6 528.0 L379.7 526.8 L379.8 524.4 L379.9 524.1 L380.0 523.0 L380.1 521.1 L380.3 520.0 L380.4 519.1 L380.5 517.7 L380.6 516.6 L380.7 515.4 L380.9 514.5 L381.1 513.2 L381.3 512.0 L381.4 510.6 L381.6 508.4 L381.8 507.7 L382.0 505.9 L382.1 505.0 L382.3 503.5 L382.4 503.1 L382.5 501.2 L382.7 500.0 L382.8 498.5 L383.0 497.6 L383.1 496.4 L383.2 494.5 L383.4 494.4 L383.5 492.6 L383.7 490.9 L383.8 490.5 L383.9 488.2 L384.1 487.6 L384.2 488.6 L384.4 490.7 L384.5 490.7 L384.6 493.1 L384.8 494.0 L384.9 495.4 L385.1 496.3 L385.2 494.9 L385.3 494.0 L385.4 492.4 L385.5 492.0 L385.7 490.3 L385.8 489.4 L385.9 488.1 L386.0 486.4 L386.5 485.3 L387.0 483.5 L387.5 482.3 L388.0 481.5 L388.2 483.7 L388.4 484.4 L388.6 485.6 L388.8 487.4 L389.0 488.4 L389.2 489.3 L389.4 490.6 L389.6 492.1 L389.7 493.7 L389.9 495.2 L390.1 494.0 L390.3 492.5 L390.4 492.0 L390.6 490.2 L390.8 489.4 L390.9 487.6 L391.1 488.8 L391.2 490.6 L391.4 490.5 L391.5 492.9 L391.7 494.0 L391.8 494.1 L392.0 495.2 L392.1 496.9 L392.3 498.2 L392.5 499.8 L392.6 500.6 L392.8 502.5 L393.0 503.5 L393.2 504.6 L393.3 505.7 L393.5 507.6 L393.7 508.3 L393.9 510.0 L392.9 510.7 L393.4 512.3 L393.9 513.5 L394.3 514.4 L394.8 515.8 L395.0 517.2 L395.3 517.5 L395.5 519.4 L395.7 520.5 L395.9 521.8 L396.1 522.8 L396.3 524.6 L396.6 525.6 L396.8 526.6 L397.1 527.1 L397.3 528.8 L397.6 529.8 L397.9 532.1 L398.2 532.8 L398.5 533.4 L398.7 535.3 L399.7 535.5 L400.7 537.2 L400.9 537.9 L401.1 539.1 L401.3 541.1 L401.6 542.6 L401.8 542.8 L402.0 544.0 L402.2 546.2 L402.4 547.3 L402.6 548.1 L403.3 549.6 L403.9 550.1 L404.6 551.7 L405.0 552.5 L405.4 554.3 L405.8 554.7 L406.2 556.8 L406.5 557.5 L407.5 559.8 L408.5 560.7 L409.5 562.4 L410.5 563.5 L411.4 564.8 L412.4 565.6 L413.9 566.2 L415.3 566.5 L416.1 567.6 L416.8 568.7 L417.5 569.0 L418.3 570.4 L419.2 571.1 L420.2 572.4 L421.2 573.2 L422.5 574.2 L423.8 574.6 L425.1 575.3 L426.4 575.7 L427.7 575.9 L429.0 576.2 L430.3 577.1 L431.6 577.5 L432.9 578.2 L434.1 578.6 L435.4 578.9 L436.6 579.5 L437.8 579.8 L439.3 580.6 L440.7 581.1 L442.0 581.2 L443.3 581.2 L444.6 581.1 L445.9 581.6 L447.1 581.9 L448.3 582.4 L449.5 582.7 L450.9 583.0 L452.2 583.2 L453.6 583.5 L455.0 583.8 L456.4 584.1 L457.7 584.1 L459.0 584.3 L460.3 584.3 L461.6 584.5 L462.9 584.5 L464.2 584.7 L465.5 584.8 L466.8 584.9 L468.1 585.0 L469.4 585.2 L470.7 585.3 L472.0 585.4 L473.3 585.4 L474.6 585.4 L475.9 585.4 L477.2 585.4 L478.5 585.4 L479.8 585.4 L481.0 585.5 L482.2 585.5 L483.4 585.5 L484.7 585.5 L485.9 585.5 L487.1 585.5 L488.3 585.5 L489.6 586.0" fill="none" stroke="#000" stroke-opacity="0.22" stroke-width="2.7" stroke-linejoin="round" stroke-linecap="round"/>
<path d="M334.9 585.5 L336.1 585.5 L337.3 585.5 L338.6 585.5 L339.8 585.5 L341.0 585.5 L342.3 585.5 L343.5 585.5 L344.7 585.5 L346.0 585.5 L347.2 585.5 L348.4 585.5 L349.7 585.5 L350.9 585.5 L352.2 585.5 L353.4 585.5 L354.6 585.5 L355.9 585.5 L357.1 585.5 L358.3 585.5 L359.6 585.5 L360.8 585.5 L362.0 585.5 L363.3 585.5 L364.5 585.5 L365.7 585.5 L367.0 585.5 L368.2 585.5 L369.4 585.5 L370.9 584.9 L372.4 584.1 L372.9 582.8 L373.3 581.6 L373.8 580.5 L374.3 579.2 L374.6 578.1 L374.8 576.5 L375.1 575.0 L375.4 574.3 L375.6 572.5 L375.9 571.4 L376.0 569.8 L376.2 568.8 L376.3 567.7 L376.5 566.7 L376.6 564.7 L376.8 563.5 L376.9 562.7 L377.1 561.0 L377.2 559.5 L377.3 558.2 L377.4 556.8 L377.5 556.3 L377.6 554.9 L377.7 552.9 L377.8 552.2 L377.9 551.3 L378.0 550.2 L378.0 548.8 L378.1 547.3 L378.2 546.0 L378.3 545.4 L378.4 543.4 L378.5 541.9 L378.6 540.7 L378.7 539.6 L378.8 538.4 L378.8 537.0 L378.9 535.9 L379.0 535.3 L379.1 533.1 L379.2 532.2 L379.3 530.7 L379.4 529.4 L379.5 529.4 L379.6 528.0 L379.7 526.8 L379.8 524.4 L379.9 524.1 L380.0 523.0 L380.1 521.1 L380.3 520.0 L380.4 519.1 L380.5 517.7 L380.6 516.6 L380.7 515.4 L380.9 514.5 L381.1 513.2 L381.3 512.0 L381.4 510.6 L381.6 508.4 L381.8 507.7 L382.0 505.9 L382.1 505.0 L382.3 503.5 L382.4 503.1 L382.5 501.2 L382.7 500.0 L382.8 498.5 L383.0 497.6 L383.1 496.4 L383.2 494.5 L383.4 494.4 L383.5 492.6 L383.7 490.9 L383.8 490.5 L383.9 488.2 L384.1 487.6 L384.2 488.6 L384.4 490.7 L384.5 490.7 L384.6 493.1 L384.8 494.0 L384.9 495.4 L385.1 496.3 L385.2 494.9 L385.3 494.0 L385.4 492.4 L385.5 492.0 L385.7 490.3 L385.8 489.4 L385.9 488.1 L386.0 486.4 L386.5 485.3 L387.0 483.5 L387.5 482.3 L388.0 481.5 L388.2 483.7 L388.4 484.4 L388.6 485.6 L388.8 487.4 L389.0 488.4 L389.2 489.3 L389.4 490.6 L389.6 492.1 L389.7 493.7 L389.9 495.2 L390.1 494.0 L390.3 492.5 L390.4 492.0 L390.6 490.2 L390.8 489.4 L390.9 487.6 L391.1 488.8 L391.2 490.6 L391.4 490.5 L391.5 492.9 L391.7 494.0 L391.8 494.1 L392.0 495.2 L392.1 496.9 L392.3 498.2 L392.5 499.8 L392.6 500.6 L392.8 502.5 L393.0 503.5 L393.2 504.6 L393.3 505.7 L393.5 507.6 L393.7 508.3 L393.9 510.0 L392.9 510.7 L393.4 512.3 L393.9 513.5 L394.3 514.4 L394.8 515.8 L395.0 517.2 L395.3 517.5 L395.5 519.4 L395.7 520.5 L395.9 521.8 L396.1 522.8 L396.3 524.6 L396.6 525.6 L396.8 526.6 L397.1 527.1 L397.3 528.8 L397.6 529.8 L397.9 532.1 L398.2 532.8 L398.5 533.4 L398.7 535.3 L399.7 535.5 L400.7 537.2 L400.9 537.9 L401.1 539.1 L401.3 541.1 L401.6 542.6 L401.8 542.8 L402.0 544.0 L402.2 546.2 L402.4 547.3 L402.6 548.1 L403.3 549.6 L403.9 550.1 L404.6 551.7 L405.0 552.5 L405.4 554.3 L405.8 554.7 L406.2 556.8 L406.5 557.5 L407.5 559.8 L408.5 560.7 L409.5 562.4 L410.5 563.5 L411.4 564.8 L412.4 565.6 L413.9 566.2 L415.3 566.5 L416.1 567.6 L416.8 568.7 L417.5 569.0 L418.3 570.4 L419.2 571.1 L420.2 572.4 L421.2 573.2 L422.5 574.2 L423.8 574.6 L425.1 575.3 L426.4 575.7 L427.7 575.9 L429.0 576.2 L430.3 577.1 L431.6 577.5 L432.9 578.2 L434.1 578.6 L435.4 578.9 L436.6 579.5 L437.8 579.8 L439.3 580.6 L440.7 581.1 L442.0 581.2 L443.3 581.2 L444.6 581.1 L445.9 581.6 L447.1 581.9 L448.3 582.4 L449.5 582.7 L450.9 583.0 L452.2 583.2 L453.6 583.5 L455.0 583.8 L456.4 584.1 L457.7 584.1 L459.0 584.3 L460.3 584.3 L461.6 584.5 L462.9 584.5 L464.2 584.7 L465.5 584.8 L466.8 584.9 L468.1 585.0 L469.4 585.2 L470.7 585.3 L472.0 585.4 L473.3 585.4 L474.6 585.4 L475.9 585.4 L477.2 585.4 L478.5 585.4 L479.8 585.4 L481.0 585.5 L482.2 585.5 L483.4 585.5 L484.7 585.5 L485.9 585.5 L487.1 585.5 L488.3 585.5 L489.6 586.0" fill="none" stroke="#141414" stroke-width="1.65" stroke-linejoin="round" stroke-linecap="round"/>
</g>
<g>
<path d="M649.0 189.3 L649.9 189.1 L650.8 188.8 L651.7 188.7 L652.6 188.5 L653.5 188.2 L654.4 188.1 L655.3 187.9 L656.1 187.4 L656.9 187.2 L657.7 186.6 L658.5 186.2 L659.3 185.8 L660.1 185.4 L660.4 184.6 L660.7 183.4 L661.0 182.7 L661.3 181.5 L661.6 180.7 L661.9 180.1 L662.2 178.6 L662.5 178.1 L662.8 177.9 L663.1 176.4 L663.3 175.5 L663.6 173.9 L663.9 174.4 L664.1 172.1 L664.4 171.4 L664.7 171.8 L664.9 170.2 L665.2 169.6 L665.5 168.9 L665.7 167.7 L666.0 166.7 L666.2 164.8 L666.4 163.8 L666.6 163.1 L666.8 162.3 L667.0 161.7 L667.2 162.6 L667.4 159.5 L667.6 158.3 L667.8 157.8 L668.0 156.5 L668.1 157.8 L668.3 157.3 L668.5 155.8 L668.7 155.5 L668.9 153.2 L669.1 152.0 L669.2 150.9 L669.3 150.8 L669.4 148.6 L669.5 148.6 L669.7 147.2 L669.8 147.2 L669.9 146.9 L670.0 145.3 L670.2 142.7 L670.3 143.2 L670.4 142.8 L670.5 141.2 L670.7 138.8 L670.8 137.9 L670.9 138.4 L671.0 138.1 L671.1 136.4 L671.3 135.8 L671.4 134.8 L671.5 134.7 L671.6 131.9 L671.7 132.9 L671.8 131.7 L672.0 128.8 L672.1 128.2 L672.2 127.5 L672.3 128.2 L672.4 126.8 L672.5 124.0 L672.7 125.3 L672.8 123.0 L672.9 123.8 L673.0 121.0 L673.1 119.6 L673.2 119.8 L673.4 118.9 L673.5 117.9 L673.6 117.3 L673.7 115.1 L673.9 114.7 L674.0 113.1 L674.1 115.2 L674.3 112.7 L674.4 111.1 L674.5 109.9 L674.7 110.4 L674.8 108.7 L674.9 107.1 L675.0 107.8 L675.1 106.5 L675.2 106.1 L675.2 105.7 L675.3 103.1 L675.4 103.5 L675.5 102.8 L675.6 101.9 L675.7 100.1 L675.8 99.9 L675.9 96.6 L676.0 96.2 L676.1 96.5 L676.2 95.5 L676.3 94.8 L676.4 93.4 L676.4 91.2 L676.5 91.1 L676.6 89.8 L676.7 90.4 L676.8 88.1 L676.9 88.9 L677.0 87.2 L677.1 85.9 L677.2 85.7 L677.3 85.6 L677.4 82.9 L677.4 81.2 L677.5 82.8 L677.6 80.1 L677.7 80.2 L677.9 78.8 L678.1 77.6 L678.2 78.0 L678.4 74.7 L678.6 76.1 L678.7 73.3 L678.9 73.9 L679.1 72.5 L679.4 72.1 L679.7 69.9 L679.8 72.5 L679.9 72.1 L680.1 72.4 L680.2 73.5 L680.4 73.6 L680.5 76.3 L680.6 76.9 L681.2 76.1 L681.7 76.2 L682.2 73.9 L682.3 73.4 L682.4 76.2 L682.4 75.6 L682.5 78.2 L682.6 79.0 L682.7 79.7 L682.8 81.3 L682.8 80.5 L682.9 82.3 L683.0 83.5 L683.4 83.8 L683.8 84.5 L684.2 85.8 L684.6 88.0 L684.8 88.2 L685.1 86.1 L685.3 85.6 L685.6 82.2 L685.9 82.3 L686.1 82.0 L686.2 84.0 L686.3 82.2 L686.5 86.0 L686.6 86.9 L686.7 85.0 L686.8 86.9 L686.9 89.4 L687.0 88.5 L687.1 88.8 L687.3 91.0 L687.4 92.0 L687.5 92.8 L688.5 91.6 L689.4 92.5 L689.6 92.5 L689.8 95.9 L689.9 96.8 L690.1 97.9 L690.3 96.3 L690.5 97.4 L690.6 100.4 L690.8 100.3 L691.2 102.4 L691.6 102.8 L692.0 101.8 L692.4 103.9 L692.6 106.0 L692.8 105.5 L693.0 106.9 L693.3 108.5 L693.5 107.7 L693.7 108.8 L693.9 111.1 L694.0 110.5 L694.1 112.4 L694.2 113.5 L694.3 113.5 L694.4 114.3 L694.5 117.4 L694.6 118.1 L694.7 118.4 L694.7 119.2 L694.8 121.6 L694.9 121.0 L695.0 121.0 L695.1 123.0 L695.2 123.9 L695.3 124.8 L695.6 125.3 L695.9 126.8 L696.1 126.3 L696.4 129.3 L696.7 130.9 L697.0 131.4 L697.2 132.0 L697.4 134.1 L697.5 133.4 L697.6 134.1 L697.8 136.1 L697.9 135.3 L698.0 136.5 L698.2 138.3 L698.3 137.4 L698.4 141.4 L698.6 142.1 L698.7 141.7 L698.8 143.0 L698.9 143.0 L699.1 144.3 L699.2 144.9 L699.5 145.8 L699.8 146.3 L700.0 147.9 L700.3 149.7 L700.6 151.3 L700.9 149.8 L701.2 151.8 L701.4 153.4 L701.5 155.3 L701.7 155.0 L701.9 155.7 L702.1 157.7 L702.3 156.5 L702.5 156.7 L702.7 159.2 L702.9 160.3 L703.1 160.6 L703.4 162.5 L703.7 163.2 L703.9 164.9 L704.2 164.3 L704.5 164.5 L704.8 166.0 L705.1 167.5 L705.3 168.3 L705.6 170.1 L705.9 170.1 L706.2 172.8 L706.5 171.9 L706.7 174.4 L707.0 174.5 L707.4 176.2 L707.9 175.8 L708.3 177.2 L708.7 177.6 L709.1 179.1 L709.5 179.8 L709.9 180.5 L710.5 181.1 L711.1 181.7 L711.7 182.6 L712.3 183.9 L712.9 184.4 L713.7 184.8 L714.4 185.3 L715.2 186.1 L716.0 186.8 L716.8 187.3 L717.8 187.7 L718.7 187.7 L719.7 188.1 L720.7 188.4 L721.7 188.7 L722.6 188.8 L723.6 188.9 L724.6 189.0 L725.6 189.2 L726.5 189.3 L726.5 189.8 L649.0 189.8 Z" fill="#6d6d6d" stroke="#6d6d6d" stroke-width="0.5"/>
<path d="M648.45 34.80 H803.80" fill="none" stroke="#c4c4c4" stroke-width="1.3"/>
<path d="M803.20 34.80 V190.00" fill="none" stroke="#888888" stroke-width="1.3"/>
<path d="M648.45 34.20 V190.00 H803.80" fill="none" stroke="#3c3c3c" stroke-width="1.3"/>
<line x1="644.05" y1="44.35" x2="648.45" y2="44.35" stroke="#3c3c3c" stroke-width="0.9"/>
<text transform="translate(642.05 47.10) scale(0.900 1)" text-anchor="end" class="tk">300</text>
<line x1="644.05" y1="92.90" x2="648.45" y2="92.90" stroke="#3c3c3c" stroke-width="0.9"/>
<text transform="translate(642.05 95.65) scale(0.900 1)" text-anchor="end" class="tk">200</text>
<line x1="644.05" y1="141.45" x2="648.45" y2="141.45" stroke="#3c3c3c" stroke-width="0.9"/>
<text transform="translate(642.05 144.20) scale(0.900 1)" text-anchor="end" class="tk">100</text>
<line x1="644.05" y1="190.00" x2="648.45" y2="190.00" stroke="#3c3c3c" stroke-width="0.9"/>
<text transform="translate(642.05 192.75) scale(0.900 1)" text-anchor="end" class="tk">0</text>
<line x1="646.45" y1="177.86" x2="648.45" y2="177.86" stroke="#444" stroke-width="0.8"/>
<line x1="646.45" y1="165.73" x2="648.45" y2="165.73" stroke="#444" stroke-width="0.8"/>
<line x1="646.45" y1="153.59" x2="648.45" y2="153.59" stroke="#444" stroke-width="0.8"/>
<line x1="646.45" y1="141.45" x2="648.45" y2="141.45" stroke="#444" stroke-width="0.8"/>
<line x1="646.45" y1="129.31" x2="648.45" y2="129.31" stroke="#444" stroke-width="0.8"/>
<line x1="646.45" y1="117.18" x2="648.45" y2="117.18" stroke="#444" stroke-width="0.8"/>
<line x1="646.45" y1="105.04" x2="648.45" y2="105.04" stroke="#444" stroke-width="0.8"/>
<line x1="646.45" y1="92.90" x2="648.45" y2="92.90" stroke="#444" stroke-width="0.8"/>
<line x1="646.45" y1="80.76" x2="648.45" y2="80.76" stroke="#444" stroke-width="0.8"/>
<line x1="646.45" y1="68.63" x2="648.45" y2="68.63" stroke="#444" stroke-width="0.8"/>
<line x1="646.45" y1="56.49" x2="648.45" y2="56.49" stroke="#444" stroke-width="0.8"/>
<line x1="646.45" y1="44.35" x2="648.45" y2="44.35" stroke="#444" stroke-width="0.8"/>
<line x1="659.89" y1="190.00" x2="659.89" y2="192.50" stroke="#4a4a4a" stroke-width="0.75"/>
<line x1="666.58" y1="190.00" x2="666.58" y2="192.50" stroke="#4a4a4a" stroke-width="0.75"/>
<line x1="671.33" y1="190.00" x2="671.33" y2="192.50" stroke="#4a4a4a" stroke-width="0.75"/>
<line x1="675.01" y1="190.00" x2="675.01" y2="192.50" stroke="#4a4a4a" stroke-width="0.75"/>
<line x1="678.02" y1="190.00" x2="678.02" y2="192.50" stroke="#4a4a4a" stroke-width="0.75"/>
<line x1="680.56" y1="190.00" x2="680.56" y2="192.50" stroke="#4a4a4a" stroke-width="0.75"/>
<line x1="682.77" y1="190.00" x2="682.77" y2="192.50" stroke="#4a4a4a" stroke-width="0.75"/>
<line x1="684.71" y1="190.00" x2="684.71" y2="192.50" stroke="#4a4a4a" stroke-width="0.75"/>
<line x1="698.22" y1="190.00" x2="698.22" y2="192.50" stroke="#4a4a4a" stroke-width="0.75"/>
<line x1="705.11" y1="190.00" x2="705.11" y2="192.50" stroke="#4a4a4a" stroke-width="0.75"/>
<line x1="709.99" y1="190.00" x2="709.99" y2="192.50" stroke="#4a4a4a" stroke-width="0.75"/>
<line x1="713.78" y1="190.00" x2="713.78" y2="192.50" stroke="#4a4a4a" stroke-width="0.75"/>
<line x1="716.88" y1="190.00" x2="716.88" y2="192.50" stroke="#4a4a4a" stroke-width="0.75"/>
<line x1="719.49" y1="190.00" x2="719.49" y2="192.50" stroke="#4a4a4a" stroke-width="0.75"/>
<line x1="721.76" y1="190.00" x2="721.76" y2="192.50" stroke="#4a4a4a" stroke-width="0.75"/>
<line x1="723.76" y1="190.00" x2="723.76" y2="192.50" stroke="#4a4a4a" stroke-width="0.75"/>
<line x1="737.29" y1="190.00" x2="737.29" y2="192.50" stroke="#4a4a4a" stroke-width="0.75"/>
<line x1="744.16" y1="190.00" x2="744.16" y2="192.50" stroke="#4a4a4a" stroke-width="0.75"/>
<line x1="749.03" y1="190.00" x2="749.03" y2="192.50" stroke="#4a4a4a" stroke-width="0.75"/>
<line x1="752.81" y1="190.00" x2="752.81" y2="192.50" stroke="#4a4a4a" stroke-width="0.75"/>
<line x1="755.90" y1="190.00" x2="755.90" y2="192.50" stroke="#4a4a4a" stroke-width="0.75"/>
<line x1="758.51" y1="190.00" x2="758.51" y2="192.50" stroke="#4a4a4a" stroke-width="0.75"/>
<line x1="760.77" y1="190.00" x2="760.77" y2="192.50" stroke="#4a4a4a" stroke-width="0.75"/>
<line x1="762.77" y1="190.00" x2="762.77" y2="192.50" stroke="#4a4a4a" stroke-width="0.75"/>
<line x1="776.26" y1="190.00" x2="776.26" y2="192.50" stroke="#4a4a4a" stroke-width="0.75"/>
<line x1="783.11" y1="190.00" x2="783.11" y2="192.50" stroke="#4a4a4a" stroke-width="0.75"/>
<line x1="787.97" y1="190.00" x2="787.97" y2="192.50" stroke="#4a4a4a" stroke-width="0.75"/>
<line x1="791.74" y1="190.00" x2="791.74" y2="192.50" stroke="#4a4a4a" stroke-width="0.75"/>
<line x1="794.82" y1="190.00" x2="794.82" y2="192.50" stroke="#4a4a4a" stroke-width="0.75"/>
<line x1="797.42" y1="190.00" x2="797.42" y2="192.50" stroke="#4a4a4a" stroke-width="0.75"/>
<line x1="799.68" y1="190.00" x2="799.68" y2="192.50" stroke="#4a4a4a" stroke-width="0.75"/>
<line x1="801.67" y1="190.00" x2="801.67" y2="192.50" stroke="#4a4a4a" stroke-width="0.75"/>
<line x1="686.45" y1="190.00" x2="686.45" y2="194.40" stroke="#3c3c3c" stroke-width="0.9"/>
<line x1="725.55" y1="190.00" x2="725.55" y2="194.40" stroke="#3c3c3c" stroke-width="0.9"/>
<line x1="764.55" y1="190.00" x2="764.55" y2="194.40" stroke="#3c3c3c" stroke-width="0.9"/>
<line x1="803.45" y1="190.00" x2="803.45" y2="194.40" stroke="#3c3c3c" stroke-width="0.9"/>
<text transform="translate(688.65 205.20) scale(0.840 1)" text-anchor="end" class="tk">10</text>
<text transform="translate(688.75 200.50) scale(0.780 1)" text-anchor="start" class="sup">0</text>
<text transform="translate(727.75 205.20) scale(0.840 1)" text-anchor="end" class="tk">10</text>
<text transform="translate(727.85 200.50) scale(0.780 1)" text-anchor="start" class="sup">1</text>
<text transform="translate(766.75 205.20) scale(0.840 1)" text-anchor="end" class="tk">10</text>
<text transform="translate(766.85 200.50) scale(0.780 1)" text-anchor="start" class="sup">2</text>
<text transform="translate(805.65 205.20) scale(0.840 1)" text-anchor="end" class="tk">10</text>
<text transform="translate(805.75 200.50) scale(0.780 1)" text-anchor="start" class="sup">3</text>
<text transform="translate(725.95 212.70) scale(0.870 1)" text-anchor="middle" class="ax">FL2: FL2 Log</text>
<text transform="translate(628.05 112.40) rotate(-90) scale(0.87 1)" text-anchor="middle" class="ax"># Cells</text>
<path d="M649.0 189.2 L650.3 189.2 L651.6 189.1 L652.9 189.1 L654.3 189.0 L655.6 189.0 L656.9 188.9 L658.2 188.9 L659.5 188.0 L660.8 187.2 L662.1 186.3 L662.8 185.4 L663.6 184.3 L664.3 183.5 L665.0 182.4 L665.6 181.2 L666.2 180.0 L666.8 179.0 L667.4 177.8 L668.0 176.5 L668.4 175.6 L668.8 173.8 L669.2 172.5 L669.6 170.9 L670.1 170.5 L670.5 168.8 L670.7 167.7 L671.0 166.3 L671.2 164.7 L671.5 163.2 L671.7 162.7 L672.0 161.9 L672.2 160.9 L672.4 158.8 L672.7 157.1 L672.9 155.8 L673.1 154.6 L673.3 154.1 L673.5 152.7 L673.7 151.6 L674.0 149.7 L674.2 148.1 L674.4 147.4 L674.6 146.7 L674.8 144.2 L674.9 142.9 L675.1 141.7 L675.3 140.8 L675.5 140.0 L675.6 138.8 L675.8 136.9 L676.0 135.6 L676.2 134.9 L676.4 133.8 L676.5 133.0 L676.7 130.5 L676.9 129.3 L677.1 128.0 L677.2 127.4 L677.4 126.1 L677.6 125.2 L677.8 123.4 L677.9 122.9 L678.1 121.5 L678.3 119.8 L678.5 119.3 L678.7 117.5 L678.9 115.4 L679.1 115.2 L679.3 113.8 L679.5 112.7 L679.7 111.1 L679.9 109.6 L680.1 108.8 L680.4 107.4 L680.6 105.2 L680.8 104.5 L681.0 103.3 L681.3 101.7 L681.5 101.0 L681.7 99.2 L681.9 98.9 L682.2 97.2 L682.4 95.3 L682.6 94.4 L682.9 95.3 L683.3 97.1 L683.6 98.4 L683.8 96.8 L684.1 95.6 L684.3 94.5 L684.6 93.7 L685.2 91.7 L685.9 91.6 L686.5 89.5 L686.8 88.1 L687.2 86.4 L687.5 85.7 L688.9 86.8 L689.6 85.4 L690.4 83.5 L692.4 82.8 L693.3 81.6 L694.7 83.6 L695.0 84.5 L695.3 86.4 L695.6 87.0 L695.9 88.8 L696.6 87.1 L697.2 85.6 L698.2 83.6 L698.4 85.5 L698.6 86.4 L698.7 88.1 L698.9 88.5 L699.0 90.5 L699.2 91.7 L699.3 92.8 L699.4 94.7 L699.5 95.5 L699.6 96.3 L699.6 98.3 L699.7 99.2 L699.8 100.5 L699.9 102.1 L700.0 103.3 L700.1 104.0 L700.2 105.3 L700.5 107.1 L700.7 108.2 L701.0 108.6 L701.3 110.9 L701.6 111.9 L701.9 112.7 L702.1 113.9 L702.3 115.8 L702.6 116.9 L702.8 118.1 L703.0 119.2 L703.2 121.1 L703.4 121.9 L703.7 123.5 L703.9 124.3 L704.1 125.6 L704.3 126.6 L704.4 127.6 L704.6 129.8 L704.8 130.3 L705.0 131.4 L705.1 133.8 L705.3 134.7 L705.5 135.1 L705.7 136.3 L705.9 138.5 L706.0 139.6 L706.3 141.1 L706.6 142.3 L706.9 143.3 L707.2 144.1 L707.4 146.4 L707.7 147.6 L708.0 148.3 L708.5 148.9 L709.0 151.4 L709.6 152.2 L709.7 153.8 L709.9 154.4 L710.1 155.2 L710.3 157.8 L710.5 158.0 L710.7 160.2 L710.9 161.0 L711.2 162.5 L711.6 163.9 L711.9 165.3 L712.2 165.5 L712.5 166.9 L712.9 168.8 L713.5 169.6 L714.1 171.3 L714.8 172.8 L715.4 173.7 L715.8 174.5 L716.2 176.1 L716.6 177.3 L717.0 178.1 L717.4 179.2 L717.8 180.5 L718.5 181.3 L719.2 182.4 L720.0 183.4 L720.7 184.3 L722.0 185.3 L723.3 186.0 L724.6 186.9 L725.8 187.3 L727.0 187.8 L728.3 188.3 L729.5 188.7 L730.9 188.9 L732.4 189.0 L733.9 189.3 L735.3 189.4 L736.6 189.4 L737.8 189.4 L739.0 189.4 L740.2 189.4 L741.4 189.4 L742.7 189.5 L743.9 189.5 L745.1 189.5 L746.3 189.5 L747.5 189.5 L748.8 189.4 L750.0 189.5 L751.2 189.4 L752.4 189.4 L753.6 189.5 L754.9 189.5 L756.1 189.4 L757.3 189.4 L758.5 189.5 L759.7 189.5 L761.0 189.5 L762.2 189.4 L763.4 189.5 L764.6 189.5 L765.9 189.4 L767.1 189.5 L768.3 189.4 L769.5 189.4 L770.7 189.4 L772.0 189.5 L773.2 189.4 L774.4 189.5 L775.6 189.4 L776.8 189.4 L778.1 189.4 L779.3 189.4 L780.5 189.4 L781.7 189.5 L782.9 189.5 L784.2 189.4 L785.4 189.4 L786.6 189.4 L787.8 189.4 L789.0 189.4 L790.3 189.4 L791.5 189.5 L792.7 189.5 L793.9 189.4 L795.1 189.4 L796.4 189.5 L797.6 189.4 L798.8 189.4 L800.0 189.4 L801.3 189.4 L802.5 189.4 L803.7 189.4" fill="none" stroke="#000" stroke-opacity="0.22" stroke-width="2.7" stroke-linejoin="round" stroke-linecap="round"/>
<path d="M649.0 189.2 L650.3 189.2 L651.6 189.1 L652.9 189.1 L654.3 189.0 L655.6 189.0 L656.9 188.9 L658.2 188.9 L659.5 188.0 L660.8 187.2 L662.1 186.3 L662.8 185.4 L663.6 184.3 L664.3 183.5 L665.0 182.4 L665.6 181.2 L666.2 180.0 L666.8 179.0 L667.4 177.8 L668.0 176.5 L668.4 175.6 L668.8 173.8 L669.2 172.5 L669.6 170.9 L670.1 170.5 L670.5 168.8 L670.7 167.7 L671.0 166.3 L671.2 164.7 L671.5 163.2 L671.7 162.7 L672.0 161.9 L672.2 160.9 L672.4 158.8 L672.7 157.1 L672.9 155.8 L673.1 154.6 L673.3 154.1 L673.5 152.7 L673.7 151.6 L674.0 149.7 L674.2 148.1 L674.4 147.4 L674.6 146.7 L674.8 144.2 L674.9 142.9 L675.1 141.7 L675.3 140.8 L675.5 140.0 L675.6 138.8 L675.8 136.9 L676.0 135.6 L676.2 134.9 L676.4 133.8 L676.5 133.0 L676.7 130.5 L676.9 129.3 L677.1 128.0 L677.2 127.4 L677.4 126.1 L677.6 125.2 L677.8 123.4 L677.9 122.9 L678.1 121.5 L678.3 119.8 L678.5 119.3 L678.7 117.5 L678.9 115.4 L679.1 115.2 L679.3 113.8 L679.5 112.7 L679.7 111.1 L679.9 109.6 L680.1 108.8 L680.4 107.4 L680.6 105.2 L680.8 104.5 L681.0 103.3 L681.3 101.7 L681.5 101.0 L681.7 99.2 L681.9 98.9 L682.2 97.2 L682.4 95.3 L682.6 94.4 L682.9 95.3 L683.3 97.1 L683.6 98.4 L683.8 96.8 L684.1 95.6 L684.3 94.5 L684.6 93.7 L685.2 91.7 L685.9 91.6 L686.5 89.5 L686.8 88.1 L687.2 86.4 L687.5 85.7 L688.9 86.8 L689.6 85.4 L690.4 83.5 L692.4 82.8 L693.3 81.6 L694.7 83.6 L695.0 84.5 L695.3 86.4 L695.6 87.0 L695.9 88.8 L696.6 87.1 L697.2 85.6 L698.2 83.6 L698.4 85.5 L698.6 86.4 L698.7 88.1 L698.9 88.5 L699.0 90.5 L699.2 91.7 L699.3 92.8 L699.4 94.7 L699.5 95.5 L699.6 96.3 L699.6 98.3 L699.7 99.2 L699.8 100.5 L699.9 102.1 L700.0 103.3 L700.1 104.0 L700.2 105.3 L700.5 107.1 L700.7 108.2 L701.0 108.6 L701.3 110.9 L701.6 111.9 L701.9 112.7 L702.1 113.9 L702.3 115.8 L702.6 116.9 L702.8 118.1 L703.0 119.2 L703.2 121.1 L703.4 121.9 L703.7 123.5 L703.9 124.3 L704.1 125.6 L704.3 126.6 L704.4 127.6 L704.6 129.8 L704.8 130.3 L705.0 131.4 L705.1 133.8 L705.3 134.7 L705.5 135.1 L705.7 136.3 L705.9 138.5 L706.0 139.6 L706.3 141.1 L706.6 142.3 L706.9 143.3 L707.2 144.1 L707.4 146.4 L707.7 147.6 L708.0 148.3 L708.5 148.9 L709.0 151.4 L709.6 152.2 L709.7 153.8 L709.9 154.4 L710.1 155.2 L710.3 157.8 L710.5 158.0 L710.7 160.2 L710.9 161.0 L711.2 162.5 L711.6 163.9 L711.9 165.3 L712.2 165.5 L712.5 166.9 L712.9 168.8 L713.5 169.6 L714.1 171.3 L714.8 172.8 L715.4 173.7 L715.8 174.5 L716.2 176.1 L716.6 177.3 L717.0 178.1 L717.4 179.2 L717.8 180.5 L718.5 181.3 L719.2 182.4 L720.0 183.4 L720.7 184.3 L722.0 185.3 L723.3 186.0 L724.6 186.9 L725.8 187.3 L727.0 187.8 L728.3 188.3 L729.5 188.7 L730.9 188.9 L732.4 189.0 L733.9 189.3 L735.3 189.4 L736.6 189.4 L737.8 189.4 L739.0 189.4 L740.2 189.4 L741.4 189.4 L742.7 189.5 L743.9 189.5 L745.1 189.5 L746.3 189.5 L747.5 189.5 L748.8 189.4 L750.0 189.5 L751.2 189.4 L752.4 189.4 L753.6 189.5 L754.9 189.5 L756.1 189.4 L757.3 189.4 L758.5 189.5 L759.7 189.5 L761.0 189.5 L762.2 189.4 L763.4 189.5 L764.6 189.5 L765.9 189.4 L767.1 189.5 L768.3 189.4 L769.5 189.4 L770.7 189.4 L772.0 189.5 L773.2 189.4 L774.4 189.5 L775.6 189.4 L776.8 189.4 L778.1 189.4 L779.3 189.4 L780.5 189.4 L781.7 189.5 L782.9 189.5 L784.2 189.4 L785.4 189.4 L786.6 189.4 L787.8 189.4 L789.0 189.4 L790.3 189.4 L791.5 189.5 L792.7 189.5 L793.9 189.4 L795.1 189.4 L796.4 189.5 L797.6 189.4 L798.8 189.4 L800.0 189.4 L801.3 189.4 L802.5 189.4 L803.7 189.4" fill="none" stroke="#141414" stroke-width="1.65" stroke-linejoin="round" stroke-linecap="round"/>
</g>
<g>
<path d="M874.9 189.2 L875.9 188.6 L876.8 188.1 L877.8 187.3 L878.2 186.3 L878.6 185.2 L879.0 184.1 L879.4 183.8 L879.8 182.5 L879.9 181.3 L880.1 180.8 L880.3 180.0 L880.5 179.4 L880.7 177.6 L880.8 176.8 L881.0 175.7 L881.2 175.5 L881.4 175.3 L881.5 174.0 L881.7 172.4 L881.8 171.4 L881.9 169.8 L882.1 169.0 L882.2 169.0 L882.3 167.1 L882.4 166.5 L882.5 165.4 L882.6 165.1 L882.8 165.5 L882.9 162.6 L883.0 162.9 L883.1 161.3 L883.2 160.0 L883.3 159.1 L883.4 159.8 L883.6 159.0 L883.7 157.2 L883.7 157.3 L883.8 155.9 L883.9 153.6 L884.0 152.5 L884.0 152.6 L884.1 151.8 L884.2 151.5 L884.2 150.9 L884.3 149.7 L884.4 149.3 L884.5 147.4 L884.5 146.5 L884.6 146.0 L884.7 144.1 L884.7 144.1 L884.8 143.4 L884.9 141.3 L885.0 139.9 L885.0 139.3 L885.1 138.9 L885.2 137.8 L885.3 136.7 L885.4 135.4 L885.4 135.6 L885.5 134.5 L885.6 134.4 L885.7 133.5 L885.8 129.6 L885.9 129.9 L885.9 130.0 L886.0 128.5 L886.1 127.8 L886.2 125.7 L886.3 125.2 L886.4 125.8 L886.4 124.3 L886.5 124.0 L886.6 122.3 L886.6 122.3 L886.6 121.2 L886.6 120.5 L886.7 119.5 L886.7 118.7 L886.7 116.2 L886.7 115.3 L886.7 114.5 L886.7 114.6 L886.8 114.4 L886.8 112.5 L886.8 110.8 L886.8 108.8 L886.8 108.1 L886.8 107.0 L886.9 106.3 L886.9 105.0 L886.9 105.3 L886.9 104.1 L886.9 105.3 L886.9 101.9 L886.9 100.8 L887.0 102.4 L887.0 101.6 L887.0 99.4 L887.0 98.6 L887.1 97.0 L887.1 96.3 L887.1 95.0 L887.2 93.5 L887.2 95.4 L887.3 94.2 L887.3 93.2 L887.3 90.0 L887.4 90.7 L887.4 87.9 L887.5 89.1 L887.5 86.1 L887.5 87.0 L887.6 84.6 L887.6 86.3 L887.7 85.2 L887.7 82.7 L887.7 83.4 L887.8 82.0 L887.8 79.2 L887.9 80.5 L887.9 79.6 L887.9 76.7 L888.0 77.1 L888.0 75.0 L888.0 73.2 L888.1 73.7 L888.1 71.8 L888.2 72.3 L888.2 71.7 L888.2 69.2 L888.3 68.8 L888.3 66.7 L888.4 66.7 L888.4 66.5 L888.4 66.2 L888.5 65.7 L888.5 63.6 L888.6 62.2 L888.7 64.4 L888.9 64.5 L889.1 66.2 L889.3 65.7 L889.5 67.5 L889.6 65.2 L889.7 65.0 L889.7 63.5 L889.8 63.0 L889.9 62.9 L889.9 63.0 L890.0 59.2 L890.1 60.0 L890.1 57.9 L890.2 58.9 L890.3 57.7 L890.4 57.5 L890.4 56.6 L890.5 54.6 L890.6 52.5 L890.6 53.0 L890.7 51.2 L890.8 49.7 L890.8 48.3 L890.9 49.0 L891.0 47.4 L891.1 45.5 L891.2 44.8 L891.4 43.5 L891.5 42.3 L891.6 43.5 L891.7 41.7 L891.8 40.1 L892.0 39.2 L892.1 38.6 L892.2 39.8 L892.3 41.0 L892.5 40.4 L892.6 42.5 L892.8 44.9 L892.9 45.4 L893.0 45.7 L893.2 46.3 L893.3 47.0 L893.4 48.2 L893.6 48.9 L893.7 49.3 L893.8 50.0 L894.0 51.3 L894.1 55.0 L894.3 55.9 L894.4 54.0 L894.5 55.9 L894.7 56.1 L894.8 58.2 L895.3 59.7 L895.8 59.5 L896.4 61.2 L896.5 61.2 L896.6 63.2 L896.7 62.9 L896.8 64.4 L896.9 65.6 L897.0 66.1 L897.0 67.7 L897.1 69.5 L897.2 69.3 L897.3 71.6 L897.4 70.3 L897.5 72.9 L897.6 74.2 L897.7 75.5 L897.8 75.6 L897.9 75.8 L898.6 77.5 L899.3 78.0 L899.5 78.4 L899.7 80.0 L899.8 79.1 L900.0 79.9 L900.2 81.3 L900.4 84.5 L900.5 82.6 L900.7 84.2 L900.9 86.7 L901.1 88.0 L901.2 87.6 L901.4 88.6 L901.6 90.9 L901.7 89.9 L901.9 90.3 L902.1 91.8 L902.2 93.7 L902.4 93.9 L902.5 95.6 L902.6 94.9 L902.7 98.2 L902.9 99.5 L903.0 100.3 L903.1 98.8 L903.3 102.3 L903.4 103.0 L903.5 101.7 L903.7 103.3 L903.8 103.4 L903.9 104.9 L904.0 107.1 L904.2 106.8 L904.2 108.6 L904.3 109.9 L904.4 108.5 L904.5 109.7 L904.5 112.6 L904.6 113.7 L904.7 112.9 L904.7 115.7 L904.8 115.8 L904.9 114.7 L904.9 117.9 L905.0 117.1 L905.1 118.5 L905.2 120.2 L905.3 119.3 L905.5 122.7 L905.7 122.1 L905.9 123.8 L906.0 123.7 L906.2 125.5 L906.4 125.3 L906.6 127.3 L906.8 127.7 L906.9 129.2 L907.1 129.2 L907.3 131.3 L907.4 130.6 L907.6 133.4 L907.7 133.2 L907.9 134.7 L908.0 134.9 L908.2 134.8 L908.3 138.4 L908.5 138.5 L908.6 140.2 L908.8 140.1 L908.9 140.2 L909.1 141.3 L909.2 143.3 L909.3 144.4 L909.5 145.2 L909.6 144.4 L909.8 145.5 L909.9 146.9 L910.0 147.8 L911.0 146.8 L912.0 147.1 L912.1 147.1 L912.2 148.3 L912.3 150.4 L912.4 151.8 L912.5 151.6 L912.6 154.2 L912.7 152.6 L912.8 153.6 L912.9 155.0 L913.0 157.3 L913.1 157.0 L913.3 159.6 L913.4 159.1 L913.6 161.6 L913.7 161.5 L913.9 161.5 L914.0 164.7 L914.2 165.8 L914.3 166.4 L914.5 165.9 L914.6 167.2 L914.8 167.2 L914.9 169.0 L915.2 169.4 L915.5 170.8 L915.8 171.9 L916.0 173.6 L916.3 173.5 L916.6 174.4 L916.9 175.8 L917.4 175.9 L917.9 176.8 L918.3 178.2 L918.8 179.3 L919.6 180.7 L920.3 180.9 L921.0 182.0 L921.8 182.3 L922.7 183.0 L923.7 184.0 L924.7 184.3 L925.3 185.5 L926.0 186.5 L926.6 187.3 L927.6 187.2 L928.6 187.3 L929.6 187.3 L930.5 187.3 L931.5 187.7 L932.5 187.9 L933.5 188.3 L934.5 188.6 L935.4 188.8 L936.4 189.0 L937.4 189.3 L937.4 189.8 L874.9 189.8 Z" fill="#6d6d6d" stroke="#6d6d6d" stroke-width="0.5"/>
<path d="M859.10 34.80 H1014.55" fill="none" stroke="#bcbcbc" stroke-width="1.3"/>
<path d="M1013.95 34.80 V190.00" fill="none" stroke="#999999" stroke-width="1.3"/>
<path d="M859.10 34.20 V190.00 H1014.55" fill="none" stroke="#3c3c3c" stroke-width="1.3"/>
<line x1="854.70" y1="44.35" x2="859.10" y2="44.35" stroke="#3c3c3c" stroke-width="0.9"/>
<text transform="translate(852.70 47.10) scale(0.900 1)" text-anchor="end" class="tk">300</text>
<line x1="854.70" y1="92.90" x2="859.10" y2="92.90" stroke="#3c3c3c" stroke-width="0.9"/>
<text transform="translate(852.70 95.65) scale(0.900 1)" text-anchor="end" class="tk">200</text>
<line x1="854.70" y1="141.45" x2="859.10" y2="141.45" stroke="#3c3c3c" stroke-width="0.9"/>
<text transform="translate(852.70 144.20) scale(0.900 1)" text-anchor="end" class="tk">100</text>
<line x1="854.70" y1="190.00" x2="859.10" y2="190.00" stroke="#3c3c3c" stroke-width="0.9"/>
<text transform="translate(852.70 192.75) scale(0.900 1)" text-anchor="end" class="tk">0</text>
<line x1="857.10" y1="177.86" x2="859.10" y2="177.86" stroke="#444" stroke-width="0.8"/>
<line x1="857.10" y1="165.73" x2="859.10" y2="165.73" stroke="#444" stroke-width="0.8"/>
<line x1="857.10" y1="153.59" x2="859.10" y2="153.59" stroke="#444" stroke-width="0.8"/>
<line x1="857.10" y1="141.45" x2="859.10" y2="141.45" stroke="#444" stroke-width="0.8"/>
<line x1="857.10" y1="129.31" x2="859.10" y2="129.31" stroke="#444" stroke-width="0.8"/>
<line x1="857.10" y1="117.18" x2="859.10" y2="117.18" stroke="#444" stroke-width="0.8"/>
<line x1="857.10" y1="105.04" x2="859.10" y2="105.04" stroke="#444" stroke-width="0.8"/>
<line x1="857.10" y1="92.90" x2="859.10" y2="92.90" stroke="#444" stroke-width="0.8"/>
<line x1="857.10" y1="80.76" x2="859.10" y2="80.76" stroke="#444" stroke-width="0.8"/>
<line x1="857.10" y1="68.63" x2="859.10" y2="68.63" stroke="#444" stroke-width="0.8"/>
<line x1="857.10" y1="56.49" x2="859.10" y2="56.49" stroke="#444" stroke-width="0.8"/>
<line x1="857.10" y1="44.35" x2="859.10" y2="44.35" stroke="#444" stroke-width="0.8"/>
<line x1="870.54" y1="190.00" x2="870.54" y2="192.50" stroke="#4a4a4a" stroke-width="0.75"/>
<line x1="877.23" y1="190.00" x2="877.23" y2="192.50" stroke="#4a4a4a" stroke-width="0.75"/>
<line x1="881.98" y1="190.00" x2="881.98" y2="192.50" stroke="#4a4a4a" stroke-width="0.75"/>
<line x1="885.66" y1="190.00" x2="885.66" y2="192.50" stroke="#4a4a4a" stroke-width="0.75"/>
<line x1="888.67" y1="190.00" x2="888.67" y2="192.50" stroke="#4a4a4a" stroke-width="0.75"/>
<line x1="891.21" y1="190.00" x2="891.21" y2="192.50" stroke="#4a4a4a" stroke-width="0.75"/>
<line x1="893.42" y1="190.00" x2="893.42" y2="192.50" stroke="#4a4a4a" stroke-width="0.75"/>
<line x1="895.36" y1="190.00" x2="895.36" y2="192.50" stroke="#4a4a4a" stroke-width="0.75"/>
<line x1="908.87" y1="190.00" x2="908.87" y2="192.50" stroke="#4a4a4a" stroke-width="0.75"/>
<line x1="915.76" y1="190.00" x2="915.76" y2="192.50" stroke="#4a4a4a" stroke-width="0.75"/>
<line x1="920.64" y1="190.00" x2="920.64" y2="192.50" stroke="#4a4a4a" stroke-width="0.75"/>
<line x1="924.43" y1="190.00" x2="924.43" y2="192.50" stroke="#4a4a4a" stroke-width="0.75"/>
<line x1="927.53" y1="190.00" x2="927.53" y2="192.50" stroke="#4a4a4a" stroke-width="0.75"/>
<line x1="930.14" y1="190.00" x2="930.14" y2="192.50" stroke="#4a4a4a" stroke-width="0.75"/>
<line x1="932.41" y1="190.00" x2="932.41" y2="192.50" stroke="#4a4a4a" stroke-width="0.75"/>
<line x1="934.41" y1="190.00" x2="934.41" y2="192.50" stroke="#4a4a4a" stroke-width="0.75"/>
<line x1="947.94" y1="190.00" x2="947.94" y2="192.50" stroke="#4a4a4a" stroke-width="0.75"/>
<line x1="954.81" y1="190.00" x2="954.81" y2="192.50" stroke="#4a4a4a" stroke-width="0.75"/>
<line x1="959.68" y1="190.00" x2="959.68" y2="192.50" stroke="#4a4a4a" stroke-width="0.75"/>
<line x1="963.46" y1="190.00" x2="963.46" y2="192.50" stroke="#4a4a4a" stroke-width="0.75"/>
<line x1="966.55" y1="190.00" x2="966.55" y2="192.50" stroke="#4a4a4a" stroke-width="0.75"/>
<line x1="969.16" y1="190.00" x2="969.16" y2="192.50" stroke="#4a4a4a" stroke-width="0.75"/>
<line x1="971.42" y1="190.00" x2="971.42" y2="192.50" stroke="#4a4a4a" stroke-width="0.75"/>
<line x1="973.42" y1="190.00" x2="973.42" y2="192.50" stroke="#4a4a4a" stroke-width="0.75"/>
<line x1="986.91" y1="190.00" x2="986.91" y2="192.50" stroke="#4a4a4a" stroke-width="0.75"/>
<line x1="993.76" y1="190.00" x2="993.76" y2="192.50" stroke="#4a4a4a" stroke-width="0.75"/>
<line x1="998.62" y1="190.00" x2="998.62" y2="192.50" stroke="#4a4a4a" stroke-width="0.75"/>
<line x1="1002.39" y1="190.00" x2="1002.39" y2="192.50" stroke="#4a4a4a" stroke-width="0.75"/>
<line x1="1005.47" y1="190.00" x2="1005.47" y2="192.50" stroke="#4a4a4a" stroke-width="0.75"/>
<line x1="1008.07" y1="190.00" x2="1008.07" y2="192.50" stroke="#4a4a4a" stroke-width="0.75"/>
<line x1="1010.33" y1="190.00" x2="1010.33" y2="192.50" stroke="#4a4a4a" stroke-width="0.75"/>
<line x1="1012.32" y1="190.00" x2="1012.32" y2="192.50" stroke="#4a4a4a" stroke-width="0.75"/>
<line x1="897.10" y1="190.00" x2="897.10" y2="194.40" stroke="#3c3c3c" stroke-width="0.9"/>
<line x1="936.20" y1="190.00" x2="936.20" y2="194.40" stroke="#3c3c3c" stroke-width="0.9"/>
<line x1="975.20" y1="190.00" x2="975.20" y2="194.40" stroke="#3c3c3c" stroke-width="0.9"/>
<line x1="1014.10" y1="190.00" x2="1014.10" y2="194.40" stroke="#3c3c3c" stroke-width="0.9"/>
<text transform="translate(899.30 205.20) scale(0.840 1)" text-anchor="end" class="tk">10</text>
<text transform="translate(899.40 200.50) scale(0.780 1)" text-anchor="start" class="sup">0</text>
<text transform="translate(938.40 205.20) scale(0.840 1)" text-anchor="end" class="tk">10</text>
<text transform="translate(938.50 200.50) scale(0.780 1)" text-anchor="start" class="sup">1</text>
<text transform="translate(977.40 205.20) scale(0.840 1)" text-anchor="end" class="tk">10</text>
<text transform="translate(977.50 200.50) scale(0.780 1)" text-anchor="start" class="sup">2</text>
<text transform="translate(1016.30 205.20) scale(0.840 1)" text-anchor="end" class="tk">10</text>
<text transform="translate(1016.40 200.50) scale(0.780 1)" text-anchor="start" class="sup">3</text>
<text transform="translate(936.60 212.70) scale(0.870 1)" text-anchor="middle" class="ax">FL1: FL1 Log</text>
<text transform="translate(838.70 112.40) rotate(-90) scale(0.87 1)" text-anchor="middle" class="ax"># Cells</text>
<path d="M859.3 189.6 L860.5 189.6 L861.8 189.6 L863.0 189.6 L864.3 189.6 L865.5 189.6 L866.8 189.6 L868.0 189.5 L869.3 189.5 L870.6 189.5 L871.8 189.5 L873.1 189.5 L874.3 189.5 L875.6 189.5 L876.8 189.4 L878.1 189.1 L879.4 188.6 L880.7 188.3 L881.7 186.7 L882.7 185.3 L883.0 184.1 L883.3 182.7 L883.6 181.2 L883.9 180.0 L884.3 178.6 L884.4 177.0 L884.6 176.0 L884.7 174.3 L884.9 173.1 L885.0 171.9 L885.2 170.7 L885.3 169.5 L885.5 167.9 L885.6 166.7 L885.7 165.9 L885.9 164.1 L886.0 163.3 L886.1 162.2 L886.2 161.1 L886.4 159.0 L886.5 157.7 L886.6 157.2 L886.7 155.3 L886.9 154.4 L887.0 153.0 L887.1 152.5 L887.2 150.7 L887.3 149.1 L887.4 148.9 L887.4 146.4 L887.5 145.6 L887.6 144.9 L887.7 143.3 L887.8 142.7 L887.9 141.8 L888.0 140.0 L888.1 138.7 L888.2 137.7 L888.3 136.4 L888.4 135.2 L888.5 133.8 L888.6 132.9 L888.7 131.7 L888.7 129.4 L888.8 128.3 L888.9 126.8 L889.0 125.8 L889.1 124.7 L889.2 123.5 L889.3 122.3 L889.4 121.2 L889.5 120.0 L889.6 118.0 L889.7 117.0 L889.7 116.7 L889.8 115.7 L889.9 113.2 L889.9 112.3 L890.0 111.5 L890.1 110.1 L890.1 108.4 L890.2 108.2 L890.3 106.6 L890.4 105.1 L890.4 103.8 L890.5 102.3 L890.6 101.2 L890.6 101.0 L890.7 99.8 L890.8 97.7 L890.8 96.8 L890.9 95.3 L891.0 94.8 L891.1 92.5 L891.2 92.0 L891.3 90.9 L891.5 89.2 L891.6 88.5 L891.7 86.3 L891.8 84.8 L891.9 83.5 L892.0 82.3 L892.1 81.2 L892.2 80.3 L892.3 78.6 L892.5 77.7 L892.6 76.1 L892.8 76.0 L893.0 74.9 L893.2 73.8 L893.3 72.5 L893.5 71.2 L893.7 69.3 L893.8 68.7 L894.0 67.2 L894.5 65.5 L894.9 65.2 L895.4 63.3 L896.8 62.3 L897.0 63.0 L897.1 65.1 L897.3 66.6 L897.5 67.6 L897.7 68.7 L897.9 70.3 L898.1 68.6 L898.3 67.9 L898.5 66.0 L898.7 64.0 L898.9 63.1 L899.9 61.5 L900.0 62.2 L900.1 63.3 L900.2 65.4 L900.3 66.4 L900.4 67.8 L900.5 69.0 L900.6 70.0 L900.7 71.9 L901.2 72.9 L901.8 74.8 L902.1 75.6 L902.4 77.2 L902.7 78.4 L902.9 80.7 L903.2 81.8 L903.7 82.4 L904.1 84.5 L904.6 85.8 L904.7 87.5 L904.9 87.8 L905.1 89.1 L905.3 90.6 L905.4 92.5 L905.6 93.7 L905.8 95.3 L906.0 95.8 L906.1 97.2 L906.3 99.0 L906.6 99.9 L906.8 101.6 L907.0 103.1 L907.2 103.8 L907.4 105.6 L907.7 107.1 L907.9 108.0 L908.1 109.1 L908.3 110.8 L908.5 111.9 L908.8 113.3 L909.0 114.4 L909.2 115.0 L909.4 116.8 L909.6 118.0 L909.9 119.8 L910.1 120.4 L910.3 121.6 L910.6 122.9 L910.8 124.0 L911.0 125.9 L911.4 127.3 L911.7 128.4 L912.0 129.7 L912.4 130.4 L912.8 131.7 L913.2 133.2 L913.6 134.3 L913.9 135.5 L914.3 136.6 L914.6 138.2 L914.9 139.6 L915.2 140.5 L915.5 142.4 L915.8 143.9 L916.1 145.7 L916.3 146.2 L916.6 148.2 L916.9 149.4 L917.2 150.0 L917.5 152.5 L917.8 152.6 L918.1 154.0 L918.4 156.0 L918.6 157.0 L918.8 158.6 L918.9 160.3 L919.1 161.3 L919.3 162.8 L919.5 163.2 L919.6 164.8 L919.8 165.8 L920.8 166.8 L921.8 167.6 L923.7 168.7 L924.7 170.3 L925.7 170.8 L926.2 172.2 L926.7 172.9 L927.2 174.6 L927.9 175.9 L928.5 177.4 L929.2 178.6 L930.5 176.5 L931.5 178.1 L932.5 179.5 L934.5 180.5 L936.4 179.4 L937.4 180.6 L938.4 181.4 L939.8 182.5 L941.3 183.3 L942.6 183.4 L943.9 183.7 L945.2 184.0 L946.5 184.4 L947.8 184.9 L949.1 185.3 L950.4 185.3 L951.7 185.3 L953.0 185.3 L954.3 185.9 L955.6 186.4 L956.9 186.9 L958.2 187.0 L959.5 187.1 L960.8 187.2 L962.1 187.3 L963.4 187.4 L964.7 187.5 L966.0 187.6 L967.3 187.7 L968.6 187.9 L969.9 188.0 L971.2 188.1 L972.5 188.3 L973.8 188.3 L975.1 188.4 L976.4 188.5 L977.7 188.5 L979.0 188.6 L980.4 188.7 L981.8 188.3 L983.3 187.9 L984.7 188.8 L986.2 189.6 L987.4 189.6 L988.7 189.6 L989.9 189.6 L991.1 189.6 L992.4 189.6 L993.6 189.6 L994.8 189.6 L996.1 189.6 L997.3 189.6 L998.5 189.6 L999.8 189.6 L1001.0 189.6 L1002.2 189.6 L1003.4 189.6 L1004.7 189.6 L1005.9 189.6 L1007.1 189.6 L1008.4 189.6 L1009.6 189.6 L1010.8 189.6 L1012.1 189.6 L1013.3 189.6 L1014.5 189.6" fill="none" stroke="#000" stroke-opacity="0.22" stroke-width="2.7" stroke-linejoin="round" stroke-linecap="round"/>
<path d="M859.3 189.6 L860.5 189.6 L861.8 189.6 L863.0 189.6 L864.3 189.6 L865.5 189.6 L866.8 189.6 L868.0 189.5 L869.3 189.5 L870.6 189.5 L871.8 189.5 L873.1 189.5 L874.3 189.5 L875.6 189.5 L876.8 189.4 L878.1 189.1 L879.4 188.6 L880.7 188.3 L881.7 186.7 L882.7 185.3 L883.0 184.1 L883.3 182.7 L883.6 181.2 L883.9 180.0 L884.3 178.6 L884.4 177.0 L884.6 176.0 L884.7 174.3 L884.9 173.1 L885.0 171.9 L885.2 170.7 L885.3 169.5 L885.5 167.9 L885.6 166.7 L885.7 165.9 L885.9 164.1 L886.0 163.3 L886.1 162.2 L886.2 161.1 L886.4 159.0 L886.5 157.7 L886.6 157.2 L886.7 155.3 L886.9 154.4 L887.0 153.0 L887.1 152.5 L887.2 150.7 L887.3 149.1 L887.4 148.9 L887.4 146.4 L887.5 145.6 L887.6 144.9 L887.7 143.3 L887.8 142.7 L887.9 141.8 L888.0 140.0 L888.1 138.7 L888.2 137.7 L888.3 136.4 L888.4 135.2 L888.5 133.8 L888.6 132.9 L888.7 131.7 L888.7 129.4 L888.8 128.3 L888.9 126.8 L889.0 125.8 L889.1 124.7 L889.2 123.5 L889.3 122.3 L889.4 121.2 L889.5 120.0 L889.6 118.0 L889.7 117.0 L889.7 116.7 L889.8 115.7 L889.9 113.2 L889.9 112.3 L890.0 111.5 L890.1 110.1 L890.1 108.4 L890.2 108.2 L890.3 106.6 L890.4 105.1 L890.4 103.8 L890.5 102.3 L890.6 101.2 L890.6 101.0 L890.7 99.8 L890.8 97.7 L890.8 96.8 L890.9 95.3 L891.0 94.8 L891.1 92.5 L891.2 92.0 L891.3 90.9 L891.5 89.2 L891.6 88.5 L891.7 86.3 L891.8 84.8 L891.9 83.5 L892.0 82.3 L892.1 81.2 L892.2 80.3 L892.3 78.6 L892.5 77.7 L892.6 76.1 L892.8 76.0 L893.0 74.9 L893.2 73.8 L893.3 72.5 L893.5 71.2 L893.7 69.3 L893.8 68.7 L894.0 67.2 L894.5 65.5 L894.9 65.2 L895.4 63.3 L896.8 62.3 L897.0 63.0 L897.1 65.1 L897.3 66.6 L897.5 67.6 L897.7 68.7 L897.9 70.3 L898.1 68.6 L898.3 67.9 L898.5 66.0 L898.7 64.0 L898.9 63.1 L899.9 61.5 L900.0 62.2 L900.1 63.3 L900.2 65.4 L900.3 66.4 L900.4 67.8 L900.5 69.0 L900.6 70.0 L900.7 71.9 L901.2 72.9 L901.8 74.8 L902.1 75.6 L902.4 77.2 L902.7 78.4 L902.9 80.7 L903.2 81.8 L903.7 82.4 L904.1 84.5 L904.6 85.8 L904.7 87.5 L904.9 87.8 L905.1 89.1 L905.3 90.6 L905.4 92.5 L905.6 93.7 L905.8 95.3 L906.0 95.8 L906.1 97.2 L906.3 99.0 L906.6 99.9 L906.8 101.6 L907.0 103.1 L907.2 103.8 L907.4 105.6 L907.7 107.1 L907.9 108.0 L908.1 109.1 L908.3 110.8 L908.5 111.9 L908.8 113.3 L909.0 114.4 L909.2 115.0 L909.4 116.8 L909.6 118.0 L909.9 119.8 L910.1 120.4 L910.3 121.6 L910.6 122.9 L910.8 124.0 L911.0 125.9 L911.4 127.3 L911.7 128.4 L912.0 129.7 L912.4 130.4 L912.8 131.7 L913.2 133.2 L913.6 134.3 L913.9 135.5 L914.3 136.6 L914.6 138.2 L914.9 139.6 L915.2 140.5 L915.5 142.4 L915.8 143.9 L916.1 145.7 L916.3 146.2 L916.6 148.2 L916.9 149.4 L917.2 150.0 L917.5 152.5 L917.8 152.6 L918.1 154.0 L918.4 156.0 L918.6 157.0 L918.8 158.6 L918.9 160.3 L919.1 161.3 L919.3 162.8 L919.5 163.2 L919.6 164.8 L919.8 165.8 L920.8 166.8 L921.8 167.6 L923.7 168.7 L924.7 170.3 L925.7 170.8 L926.2 172.2 L926.7 172.9 L927.2 174.6 L927.9 175.9 L928.5 177.4 L929.2 178.6 L930.5 176.5 L931.5 178.1 L932.5 179.5 L934.5 180.5 L936.4 179.4 L937.4 180.6 L938.4 181.4 L939.8 182.5 L941.3 183.3 L942.6 183.4 L943.9 183.7 L945.2 184.0 L946.5 184.4 L947.8 184.9 L949.1 185.3 L950.4 185.3 L951.7 185.3 L953.0 185.3 L954.3 185.9 L955.6 186.4 L956.9 186.9 L958.2 187.0 L959.5 187.1 L960.8 187.2 L962.1 187.3 L963.4 187.4 L964.7 187.5 L966.0 187.6 L967.3 187.7 L968.6 187.9 L969.9 188.0 L971.2 188.1 L972.5 188.3 L973.8 188.3 L975.1 188.4 L976.4 188.5 L977.7 188.5 L979.0 188.6 L980.4 188.7 L981.8 188.3 L983.3 187.9 L984.7 188.8 L986.2 189.6 L987.4 189.6 L988.7 189.6 L989.9 189.6 L991.1 189.6 L992.4 189.6 L993.6 189.6 L994.8 189.6 L996.1 189.6 L997.3 189.6 L998.5 189.6 L999.8 189.6 L1001.0 189.6 L1002.2 189.6 L1003.4 189.6 L1004.7 189.6 L1005.9 189.6 L1007.1 189.6 L1008.4 189.6 L1009.6 189.6 L1010.8 189.6 L1012.1 189.6 L1013.3 189.6 L1014.5 189.6" fill="none" stroke="#141414" stroke-width="1.65" stroke-linejoin="round" stroke-linecap="round"/>
</g>
<g>
<path d="M649.4 385.6 L649.4 384.7 L649.4 383.9 L649.4 382.8 L649.5 381.8 L649.5 380.8 L649.5 379.7 L649.5 378.9 L649.5 377.9 L649.5 377.7 L649.6 376.0 L649.6 375.0 L649.6 374.7 L649.7 376.0 L649.8 376.0 L649.9 377.2 L649.9 378.9 L650.0 379.3 L650.1 380.4 L650.2 381.4 L650.3 382.4 L650.4 383.1 L650.5 384.3 L650.6 385.2 L651.5 385.2 L652.5 385.2 L653.4 385.2 L654.4 385.3 L655.3 385.3 L656.3 385.2 L657.2 385.3 L658.2 385.2 L659.2 384.8 L660.1 384.4 L661.1 383.8 L662.1 383.3 L662.7 382.8 L663.4 381.8 L664.0 381.3 L664.7 381.0 L665.3 379.8 L666.0 379.4 L666.2 378.5 L666.5 377.3 L666.7 376.8 L667.0 375.0 L667.2 374.6 L667.5 373.6 L667.7 371.7 L668.0 371.7 L668.1 371.2 L668.3 370.5 L668.5 368.2 L668.7 368.1 L668.8 366.3 L669.0 366.8 L669.2 365.6 L669.4 365.5 L669.5 362.5 L669.7 361.9 L669.9 361.4 L670.0 362.2 L670.2 360.4 L670.3 357.9 L670.4 358.9 L670.6 357.1 L670.7 356.0 L670.8 356.3 L670.9 355.2 L671.1 353.5 L671.2 352.0 L671.3 351.4 L671.5 350.5 L671.6 348.9 L671.7 348.0 L671.9 348.2 L672.0 348.7 L672.0 346.5 L672.1 345.0 L672.2 342.9 L672.3 344.8 L672.4 342.0 L672.5 341.0 L672.6 341.4 L672.7 341.0 L672.8 337.6 L672.9 336.5 L673.0 336.0 L673.1 337.6 L673.2 335.1 L673.3 332.9 L673.3 333.7 L673.4 332.3 L673.5 330.1 L673.6 329.1 L673.7 329.1 L673.8 329.0 L673.9 327.4 L674.0 328.3 L674.2 325.4 L674.3 324.3 L674.4 322.7 L674.5 323.4 L674.6 321.1 L674.7 322.7 L674.8 320.7 L675.0 317.9 L675.1 318.9 L675.2 317.5 L675.3 317.1 L675.4 316.1 L675.5 313.6 L675.6 313.8 L675.8 313.1 L675.9 310.7 L676.0 312.2 L676.2 310.7 L676.3 308.1 L676.5 306.7 L676.6 306.8 L676.7 306.3 L676.8 305.6 L676.9 303.1 L677.0 303.7 L677.1 302.6 L677.2 300.5 L677.3 300.7 L677.4 300.1 L677.5 299.5 L677.6 296.7 L677.7 295.6 L677.8 296.7 L677.9 296.7 L678.0 294.4 L678.1 294.6 L678.2 292.0 L678.3 291.2 L679.0 291.0 L679.7 289.3 L679.8 289.7 L680.0 288.4 L680.1 285.2 L680.3 285.0 L680.4 285.6 L680.6 282.2 L680.7 281.8 L680.9 280.2 L681.0 280.9 L681.3 281.3 L681.5 279.5 L681.7 279.1 L681.9 275.9 L682.2 276.8 L682.4 276.5 L682.6 274.2 L682.8 272.0 L683.1 271.3 L683.3 272.4 L683.6 270.2 L683.8 270.7 L684.1 271.2 L684.3 271.5 L684.6 274.2 L684.8 275.2 L685.0 274.7 L685.3 275.6 L685.5 278.3 L685.8 278.2 L686.1 274.3 L686.4 273.8 L686.6 275.1 L686.9 272.9 L687.9 274.3 L687.9 274.8 L688.0 275.3 L688.0 278.1 L688.0 276.9 L688.1 279.9 L688.1 280.2 L688.2 279.1 L688.2 282.5 L688.3 283.5 L688.3 281.8 L688.3 284.0 L688.4 284.8 L688.4 284.9 L688.5 286.8 L689.0 288.9 L689.5 289.8 L690.0 289.8 L690.1 290.2 L690.2 291.8 L690.4 293.4 L690.5 292.6 L690.6 294.8 L690.7 294.7 L690.8 297.1 L690.9 296.2 L691.0 297.7 L691.2 298.3 L691.3 298.2 L691.4 300.3 L691.5 301.9 L691.6 302.5 L691.8 304.4 L691.9 304.9 L692.0 303.6 L692.2 305.7 L692.3 306.5 L692.4 306.0 L692.6 309.9 L692.7 309.8 L692.8 309.7 L693.0 311.6 L693.1 312.6 L693.2 313.9 L693.3 314.3 L693.5 315.1 L693.6 315.8 L693.8 316.9 L693.9 316.7 L694.0 317.0 L694.2 320.2 L694.3 321.0 L694.5 319.9 L694.6 321.6 L694.7 322.2 L694.9 322.7 L695.0 325.5 L695.2 325.4 L695.3 326.5 L695.4 328.3 L695.6 329.4 L695.7 328.7 L695.8 330.5 L695.9 330.4 L696.1 331.3 L696.2 332.3 L696.3 333.3 L696.5 333.8 L696.6 334.2 L696.7 337.9 L696.9 337.6 L697.0 337.8 L697.1 339.4 L697.2 340.7 L697.4 339.9 L697.5 343.3 L697.6 342.4 L697.8 342.4 L697.9 346.4 L698.0 345.1 L698.2 348.1 L698.3 346.3 L698.4 347.3 L698.6 350.0 L698.7 349.3 L698.8 352.2 L698.9 351.9 L699.1 354.5 L699.2 353.9 L699.4 355.4 L699.6 355.2 L699.7 356.2 L699.9 357.7 L700.1 357.7 L700.3 359.6 L700.4 359.6 L700.6 361.2 L700.8 360.9 L701.0 362.3 L701.2 363.6 L701.4 364.7 L701.6 367.0 L701.9 367.9 L702.1 367.6 L702.4 369.0 L702.6 370.2 L702.9 371.3 L703.1 371.6 L703.6 372.0 L704.1 373.7 L704.6 374.3 L705.1 375.3 L705.8 375.8 L706.5 377.2 L707.3 377.4 L708.0 378.3 L708.8 378.9 L709.6 379.4 L710.3 380.2 L711.1 380.6 L711.9 381.3 L712.9 381.8 L713.9 381.9 L714.8 382.7 L715.8 383.1 L716.8 383.2 L717.8 383.5 L718.7 383.8 L719.7 383.8 L720.7 384.2 L721.7 384.2 L722.6 384.3 L723.6 384.5 L724.6 384.7 L725.6 384.9 L726.5 385.1 L727.5 385.2 L727.5 385.9 L649.4 385.9 Z" fill="#6d6d6d" stroke="#6d6d6d" stroke-width="0.5"/>
<path d="M648.45 231.20 H803.80" fill="none" stroke="#7a7a7a" stroke-width="1.3"/>
<path d="M803.20 231.20 V386.20" fill="none" stroke="#8c8c8c" stroke-width="1.3"/>
<path d="M648.45 230.60 V386.20 H803.80" fill="none" stroke="#3c3c3c" stroke-width="1.3"/>
<line x1="644.05" y1="238.50" x2="648.45" y2="238.50" stroke="#3c3c3c" stroke-width="0.9"/>
<text transform="translate(642.05 241.25) scale(0.900 1)" text-anchor="end" class="tk">400</text>
<line x1="644.05" y1="275.43" x2="648.45" y2="275.43" stroke="#3c3c3c" stroke-width="0.9"/>
<text transform="translate(642.05 278.18) scale(0.900 1)" text-anchor="end" class="tk">300</text>
<line x1="644.05" y1="312.35" x2="648.45" y2="312.35" stroke="#3c3c3c" stroke-width="0.9"/>
<text transform="translate(642.05 315.10) scale(0.900 1)" text-anchor="end" class="tk">200</text>
<line x1="644.05" y1="349.27" x2="648.45" y2="349.27" stroke="#3c3c3c" stroke-width="0.9"/>
<text transform="translate(642.05 352.02) scale(0.900 1)" text-anchor="end" class="tk">100</text>
<line x1="644.05" y1="386.20" x2="648.45" y2="386.20" stroke="#3c3c3c" stroke-width="0.9"/>
<text transform="translate(642.05 388.95) scale(0.900 1)" text-anchor="end" class="tk">0</text>
<line x1="646.45" y1="376.97" x2="648.45" y2="376.97" stroke="#444" stroke-width="0.8"/>
<line x1="646.45" y1="367.74" x2="648.45" y2="367.74" stroke="#444" stroke-width="0.8"/>
<line x1="646.45" y1="358.51" x2="648.45" y2="358.51" stroke="#444" stroke-width="0.8"/>
<line x1="646.45" y1="349.28" x2="648.45" y2="349.28" stroke="#444" stroke-width="0.8"/>
<line x1="646.45" y1="340.04" x2="648.45" y2="340.04" stroke="#444" stroke-width="0.8"/>
<line x1="646.45" y1="330.81" x2="648.45" y2="330.81" stroke="#444" stroke-width="0.8"/>
<line x1="646.45" y1="321.58" x2="648.45" y2="321.58" stroke="#444" stroke-width="0.8"/>
<line x1="646.45" y1="312.35" x2="648.45" y2="312.35" stroke="#444" stroke-width="0.8"/>
<line x1="646.45" y1="303.12" x2="648.45" y2="303.12" stroke="#444" stroke-width="0.8"/>
<line x1="646.45" y1="293.89" x2="648.45" y2="293.89" stroke="#444" stroke-width="0.8"/>
<line x1="646.45" y1="284.66" x2="648.45" y2="284.66" stroke="#444" stroke-width="0.8"/>
<line x1="646.45" y1="275.43" x2="648.45" y2="275.43" stroke="#444" stroke-width="0.8"/>
<line x1="646.45" y1="266.19" x2="648.45" y2="266.19" stroke="#444" stroke-width="0.8"/>
<line x1="646.45" y1="256.96" x2="648.45" y2="256.96" stroke="#444" stroke-width="0.8"/>
<line x1="646.45" y1="247.73" x2="648.45" y2="247.73" stroke="#444" stroke-width="0.8"/>
<line x1="646.45" y1="238.50" x2="648.45" y2="238.50" stroke="#444" stroke-width="0.8"/>
<line x1="659.89" y1="386.20" x2="659.89" y2="388.70" stroke="#4a4a4a" stroke-width="0.75"/>
<line x1="666.58" y1="386.20" x2="666.58" y2="388.70" stroke="#4a4a4a" stroke-width="0.75"/>
<line x1="671.33" y1="386.20" x2="671.33" y2="388.70" stroke="#4a4a4a" stroke-width="0.75"/>
<line x1="675.01" y1="386.20" x2="675.01" y2="388.70" stroke="#4a4a4a" stroke-width="0.75"/>
<line x1="678.02" y1="386.20" x2="678.02" y2="388.70" stroke="#4a4a4a" stroke-width="0.75"/>
<line x1="680.56" y1="386.20" x2="680.56" y2="388.70" stroke="#4a4a4a" stroke-width="0.75"/>
<line x1="682.77" y1="386.20" x2="682.77" y2="388.70" stroke="#4a4a4a" stroke-width="0.75"/>
<line x1="684.71" y1="386.20" x2="684.71" y2="388.70" stroke="#4a4a4a" stroke-width="0.75"/>
<line x1="698.22" y1="386.20" x2="698.22" y2="388.70" stroke="#4a4a4a" stroke-width="0.75"/>
<line x1="705.11" y1="386.20" x2="705.11" y2="388.70" stroke="#4a4a4a" stroke-width="0.75"/>
<line x1="709.99" y1="386.20" x2="709.99" y2="388.70" stroke="#4a4a4a" stroke-width="0.75"/>
<line x1="713.78" y1="386.20" x2="713.78" y2="388.70" stroke="#4a4a4a" stroke-width="0.75"/>
<line x1="716.88" y1="386.20" x2="716.88" y2="388.70" stroke="#4a4a4a" stroke-width="0.75"/>
<line x1="719.49" y1="386.20" x2="719.49" y2="388.70" stroke="#4a4a4a" stroke-width="0.75"/>
<line x1="721.76" y1="386.20" x2="721.76" y2="388.70" stroke="#4a4a4a" stroke-width="0.75"/>
<line x1="723.76" y1="386.20" x2="723.76" y2="388.70" stroke="#4a4a4a" stroke-width="0.75"/>
<line x1="737.29" y1="386.20" x2="737.29" y2="388.70" stroke="#4a4a4a" stroke-width="0.75"/>
<line x1="744.16" y1="386.20" x2="744.16" y2="388.70" stroke="#4a4a4a" stroke-width="0.75"/>
<line x1="749.03" y1="386.20" x2="749.03" y2="388.70" stroke="#4a4a4a" stroke-width="0.75"/>
<line x1="752.81" y1="386.20" x2="752.81" y2="388.70" stroke="#4a4a4a" stroke-width="0.75"/>
<line x1="755.90" y1="386.20" x2="755.90" y2="388.70" stroke="#4a4a4a" stroke-width="0.75"/>
<line x1="758.51" y1="386.20" x2="758.51" y2="388.70" stroke="#4a4a4a" stroke-width="0.75"/>
<line x1="760.77" y1="386.20" x2="760.77" y2="388.70" stroke="#4a4a4a" stroke-width="0.75"/>
<line x1="762.77" y1="386.20" x2="762.77" y2="388.70" stroke="#4a4a4a" stroke-width="0.75"/>
<line x1="776.26" y1="386.20" x2="776.26" y2="388.70" stroke="#4a4a4a" stroke-width="0.75"/>
<line x1="783.11" y1="386.20" x2="783.11" y2="388.70" stroke="#4a4a4a" stroke-width="0.75"/>
<line x1="787.97" y1="386.20" x2="787.97" y2="388.70" stroke="#4a4a4a" stroke-width="0.75"/>
<line x1="791.74" y1="386.20" x2="791.74" y2="388.70" stroke="#4a4a4a" stroke-width="0.75"/>
<line x1="794.82" y1="386.20" x2="794.82" y2="388.70" stroke="#4a4a4a" stroke-width="0.75"/>
<line x1="797.42" y1="386.20" x2="797.42" y2="388.70" stroke="#4a4a4a" stroke-width="0.75"/>
<line x1="799.68" y1="386.20" x2="799.68" y2="388.70" stroke="#4a4a4a" stroke-width="0.75"/>
<line x1="801.67" y1="386.20" x2="801.67" y2="388.70" stroke="#4a4a4a" stroke-width="0.75"/>
<line x1="686.45" y1="386.20" x2="686.45" y2="390.60" stroke="#3c3c3c" stroke-width="0.9"/>
<line x1="725.55" y1="386.20" x2="725.55" y2="390.60" stroke="#3c3c3c" stroke-width="0.9"/>
<line x1="764.55" y1="386.20" x2="764.55" y2="390.60" stroke="#3c3c3c" stroke-width="0.9"/>
<line x1="803.45" y1="386.20" x2="803.45" y2="390.60" stroke="#3c3c3c" stroke-width="0.9"/>
<text transform="translate(688.65 401.40) scale(0.840 1)" text-anchor="end" class="tk">10</text>
<text transform="translate(688.75 396.70) scale(0.780 1)" text-anchor="start" class="sup">0</text>
<text transform="translate(727.75 401.40) scale(0.840 1)" text-anchor="end" class="tk">10</text>
<text transform="translate(727.85 396.70) scale(0.780 1)" text-anchor="start" class="sup">1</text>
<text transform="translate(766.75 401.40) scale(0.840 1)" text-anchor="end" class="tk">10</text>
<text transform="translate(766.85 396.70) scale(0.780 1)" text-anchor="start" class="sup">2</text>
<text transform="translate(805.65 401.40) scale(0.840 1)" text-anchor="end" class="tk">10</text>
<text transform="translate(805.75 396.70) scale(0.780 1)" text-anchor="start" class="sup">3</text>
<text transform="translate(725.95 408.90) scale(0.870 1)" text-anchor="middle" class="ax">FL2: FL2 Log</text>
<text transform="translate(628.05 308.70) rotate(-90) scale(0.87 1)" text-anchor="middle" class="ax"># Cells</text>
<path d="M649.2 375.4 L649.3 377.0 L649.4 378.0 L649.6 379.7 L649.7 380.9 L649.8 382.3 L650.2 384.0 L650.6 385.6 L651.8 385.6 L653.1 385.6 L654.4 385.5 L655.6 385.5 L656.9 385.5 L658.1 385.5 L659.4 385.4 L660.7 385.4 L661.9 385.4 L663.2 385.3 L664.5 385.3 L665.7 385.3 L667.0 385.2 L668.3 384.6 L669.6 383.9 L670.9 383.3 L671.9 382.5 L672.8 381.9 L673.8 381.1 L674.8 380.4 L675.3 379.4 L675.8 378.2 L676.3 377.0 L676.7 375.9 L677.2 374.4 L677.7 373.6 L678.0 372.6 L678.4 371.2 L678.7 370.0 L679.0 368.9 L679.3 367.5 L679.6 366.7 L679.9 365.4 L680.3 363.6 L680.5 362.8 L680.8 361.3 L681.1 360.3 L681.4 358.7 L681.7 358.3 L682.0 356.1 L682.3 355.3 L682.6 354.0 L682.8 352.6 L683.0 350.8 L683.2 349.6 L683.5 349.1 L683.7 348.1 L683.9 346.0 L684.1 345.6 L684.3 343.5 L684.5 342.8 L684.7 341.3 L684.9 340.2 L685.5 339.6 L686.0 337.8 L686.5 336.2 L686.7 335.0 L686.9 333.3 L687.0 332.8 L687.2 331.6 L687.4 329.8 L687.5 328.4 L687.7 326.7 L687.9 326.7 L688.1 324.6 L688.3 323.4 L688.6 322.6 L688.8 320.5 L689.0 319.7 L689.3 319.1 L689.5 317.7 L689.8 316.4 L690.0 314.7 L690.2 313.5 L690.5 312.1 L690.7 311.3 L690.9 310.6 L691.1 308.9 L691.3 308.3 L691.5 307.2 L691.8 305.3 L692.0 304.2 L692.3 303.5 L692.6 301.1 L693.0 299.9 L693.3 298.5 L693.6 297.9 L693.9 296.5 L694.1 294.8 L694.2 293.2 L694.4 292.2 L694.5 290.6 L694.7 290.3 L694.8 288.0 L695.0 286.7 L695.1 285.8 L695.3 284.6 L695.5 286.1 L695.8 288.0 L696.0 288.7 L696.3 290.6 L696.5 289.8 L696.8 288.5 L697.1 287.0 L697.4 286.3 L697.6 284.5 L698.0 283.4 L698.3 282.5 L698.6 281.2 L698.9 279.6 L699.2 278.9 L699.5 277.8 L699.9 276.5 L700.2 275.0 L700.5 276.4 L700.8 277.3 L701.2 278.6 L702.1 281.0 L703.1 279.6 L703.3 280.5 L703.4 282.8 L703.6 283.3 L703.7 283.9 L703.9 285.3 L704.0 286.6 L704.2 287.6 L704.3 289.4 L704.5 290.6 L704.5 291.7 L704.6 293.1 L704.7 293.7 L704.7 296.2 L704.8 296.4 L704.8 298.7 L704.9 299.3 L704.9 301.0 L705.0 302.0 L705.1 303.3 L705.2 302.2 L705.3 300.5 L705.4 298.7 L705.5 297.2 L705.7 297.1 L705.8 295.2 L705.9 293.7 L706.0 292.5 L706.3 293.8 L706.5 295.2 L706.8 297.3 L707.0 298.3 L707.2 299.2 L707.4 301.4 L707.5 302.5 L707.7 303.3 L707.9 305.0 L708.0 305.7 L708.2 306.7 L708.4 308.1 L709.0 310.1 L709.6 310.8 L709.9 309.0 L710.3 308.2 L710.5 309.1 L710.6 310.7 L710.8 311.5 L710.9 312.7 L711.1 313.8 L711.2 315.3 L711.4 316.9 L711.5 318.0 L711.6 319.4 L711.6 321.0 L711.7 321.7 L711.7 323.0 L711.8 323.5 L711.8 325.4 L711.9 326.8 L712.1 327.4 L712.4 328.7 L712.6 330.8 L712.9 331.4 L713.1 332.4 L713.4 333.4 L713.6 335.6 L713.9 336.2 L714.2 337.4 L714.5 338.7 L714.8 339.9 L715.2 342.1 L715.5 343.1 L715.8 344.2 L716.5 346.2 L717.2 347.2 L717.3 348.4 L717.5 349.8 L717.7 351.7 L717.9 352.2 L718.0 354.0 L718.2 354.3 L718.4 356.4 L718.6 357.7 L718.7 358.9 L719.0 359.8 L719.3 361.5 L719.6 363.1 L719.8 364.1 L720.1 364.7 L720.4 366.8 L720.7 367.8 L721.7 369.0 L722.6 370.6 L723.4 371.6 L724.1 373.2 L724.8 374.0 L725.6 375.4 L726.3 376.8 L727.0 378.0 L727.8 379.1 L728.5 380.4 L729.5 381.2 L730.5 381.7 L731.4 382.6 L732.4 383.3 L733.6 383.7 L734.8 384.2 L736.1 384.8 L737.3 385.2 L738.5 385.3 L739.7 385.4 L740.9 385.5 L742.2 385.6 L743.4 385.6 L744.6 385.6 L745.8 385.6 L747.0 385.6 L748.2 385.6 L749.4 385.6 L750.6 385.6 L751.8 385.6 L753.0 385.6 L754.2 385.6 L755.4 385.6 L756.6 385.6 L757.9 385.6 L759.1 385.6 L760.3 385.6 L761.5 385.6 L762.7 385.6 L763.9 385.6 L765.1 385.6 L766.3 385.6 L767.5 385.6 L768.7 385.6 L769.9 385.6 L771.1 385.6 L772.3 385.6 L773.5 385.6 L774.7 385.6 L775.9 385.6 L777.2 385.6 L778.4 385.6 L779.6 385.6 L780.8 385.6 L782.0 385.6 L783.2 385.6 L784.4 385.6 L785.6 385.6 L786.8 385.6 L788.0 385.6 L789.2 385.6 L790.4 385.6 L791.6 385.6 L792.8 385.6 L794.0 385.6 L795.2 385.6 L796.5 385.6 L797.7 385.6 L798.9 385.6 L800.1 385.6 L801.3 385.6 L802.5 385.6 L803.7 385.6" fill="none" stroke="#000" stroke-opacity="0.22" stroke-width="2.7" stroke-linejoin="round" stroke-linecap="round"/>
<path d="M649.2 375.4 L649.3 377.0 L649.4 378.0 L649.6 379.7 L649.7 380.9 L649.8 382.3 L650.2 384.0 L650.6 385.6 L651.8 385.6 L653.1 385.6 L654.4 385.5 L655.6 385.5 L656.9 385.5 L658.1 385.5 L659.4 385.4 L660.7 385.4 L661.9 385.4 L663.2 385.3 L664.5 385.3 L665.7 385.3 L667.0 385.2 L668.3 384.6 L669.6 383.9 L670.9 383.3 L671.9 382.5 L672.8 381.9 L673.8 381.1 L674.8 380.4 L675.3 379.4 L675.8 378.2 L676.3 377.0 L676.7 375.9 L677.2 374.4 L677.7 373.6 L678.0 372.6 L678.4 371.2 L678.7 370.0 L679.0 368.9 L679.3 367.5 L679.6 366.7 L679.9 365.4 L680.3 363.6 L680.5 362.8 L680.8 361.3 L681.1 360.3 L681.4 358.7 L681.7 358.3 L682.0 356.1 L682.3 355.3 L682.6 354.0 L682.8 352.6 L683.0 350.8 L683.2 349.6 L683.5 349.1 L683.7 348.1 L683.9 346.0 L684.1 345.6 L684.3 343.5 L684.5 342.8 L684.7 341.3 L684.9 340.2 L685.5 339.6 L686.0 337.8 L686.5 336.2 L686.7 335.0 L686.9 333.3 L687.0 332.8 L687.2 331.6 L687.4 329.8 L687.5 328.4 L687.7 326.7 L687.9 326.7 L688.1 324.6 L688.3 323.4 L688.6 322.6 L688.8 320.5 L689.0 319.7 L689.3 319.1 L689.5 317.7 L689.8 316.4 L690.0 314.7 L690.2 313.5 L690.5 312.1 L690.7 311.3 L690.9 310.6 L691.1 308.9 L691.3 308.3 L691.5 307.2 L691.8 305.3 L692.0 304.2 L692.3 303.5 L692.6 301.1 L693.0 299.9 L693.3 298.5 L693.6 297.9 L693.9 296.5 L694.1 294.8 L694.2 293.2 L694.4 292.2 L694.5 290.6 L694.7 290.3 L694.8 288.0 L695.0 286.7 L695.1 285.8 L695.3 284.6 L695.5 286.1 L695.8 288.0 L696.0 288.7 L696.3 290.6 L696.5 289.8 L696.8 288.5 L697.1 287.0 L697.4 286.3 L697.6 284.5 L698.0 283.4 L698.3 282.5 L698.6 281.2 L698.9 279.6 L699.2 278.9 L699.5 277.8 L699.9 276.5 L700.2 275.0 L700.5 276.4 L700.8 277.3 L701.2 278.6 L702.1 281.0 L703.1 279.6 L703.3 280.5 L703.4 282.8 L703.6 283.3 L703.7 283.9 L703.9 285.3 L704.0 286.6 L704.2 287.6 L704.3 289.4 L704.5 290.6 L704.5 291.7 L704.6 293.1 L704.7 293.7 L704.7 296.2 L704.8 296.4 L704.8 298.7 L704.9 299.3 L704.9 301.0 L705.0 302.0 L705.1 303.3 L705.2 302.2 L705.3 300.5 L705.4 298.7 L705.5 297.2 L705.7 297.1 L705.8 295.2 L705.9 293.7 L706.0 292.5 L706.3 293.8 L706.5 295.2 L706.8 297.3 L707.0 298.3 L707.2 299.2 L707.4 301.4 L707.5 302.5 L707.7 303.3 L707.9 305.0 L708.0 305.7 L708.2 306.7 L708.4 308.1 L709.0 310.1 L709.6 310.8 L709.9 309.0 L710.3 308.2 L710.5 309.1 L710.6 310.7 L710.8 311.5 L710.9 312.7 L711.1 313.8 L711.2 315.3 L711.4 316.9 L711.5 318.0 L711.6 319.4 L711.6 321.0 L711.7 321.7 L711.7 323.0 L711.8 323.5 L711.8 325.4 L711.9 326.8 L712.1 327.4 L712.4 328.7 L712.6 330.8 L712.9 331.4 L713.1 332.4 L713.4 333.4 L713.6 335.6 L713.9 336.2 L714.2 337.4 L714.5 338.7 L714.8 339.9 L715.2 342.1 L715.5 343.1 L715.8 344.2 L716.5 346.2 L717.2 347.2 L717.3 348.4 L717.5 349.8 L717.7 351.7 L717.9 352.2 L718.0 354.0 L718.2 354.3 L718.4 356.4 L718.6 357.7 L718.7 358.9 L719.0 359.8 L719.3 361.5 L719.6 363.1 L719.8 364.1 L720.1 364.7 L720.4 366.8 L720.7 367.8 L721.7 369.0 L722.6 370.6 L723.4 371.6 L724.1 373.2 L724.8 374.0 L725.6 375.4 L726.3 376.8 L727.0 378.0 L727.8 379.1 L728.5 380.4 L729.5 381.2 L730.5 381.7 L731.4 382.6 L732.4 383.3 L733.6 383.7 L734.8 384.2 L736.1 384.8 L737.3 385.2 L738.5 385.3 L739.7 385.4 L740.9 385.5 L742.2 385.6 L743.4 385.6 L744.6 385.6 L745.8 385.6 L747.0 385.6 L748.2 385.6 L749.4 385.6 L750.6 385.6 L751.8 385.6 L753.0 385.6 L754.2 385.6 L755.4 385.6 L756.6 385.6 L757.9 385.6 L759.1 385.6 L760.3 385.6 L761.5 385.6 L762.7 385.6 L763.9 385.6 L765.1 385.6 L766.3 385.6 L767.5 385.6 L768.7 385.6 L769.9 385.6 L771.1 385.6 L772.3 385.6 L773.5 385.6 L774.7 385.6 L775.9 385.6 L777.2 385.6 L778.4 385.6 L779.6 385.6 L780.8 385.6 L782.0 385.6 L783.2 385.6 L784.4 385.6 L785.6 385.6 L786.8 385.6 L788.0 385.6 L789.2 385.6 L790.4 385.6 L791.6 385.6 L792.8 385.6 L794.0 385.6 L795.2 385.6 L796.5 385.6 L797.7 385.6 L798.9 385.6 L800.1 385.6 L801.3 385.6 L802.5 385.6 L803.7 385.6" fill="none" stroke="#141414" stroke-width="1.65" stroke-linejoin="round" stroke-linecap="round"/>
</g>
<g>
<path d="M859.3 385.6 L860.2 385.5 L861.1 385.4 L862.0 385.3 L862.9 385.2 L863.8 385.1 L864.7 385.0 L865.6 384.9 L866.5 384.8 L867.4 384.7 L868.3 384.5 L869.2 384.5 L870.1 384.3 L871.0 384.3 L872.0 384.1 L872.9 383.7 L873.9 383.4 L874.9 383.0 L875.9 382.8 L876.6 382.3 L877.4 381.6 L878.2 380.9 L879.0 379.8 L879.8 379.4 L880.0 378.9 L880.3 377.8 L880.5 376.6 L880.7 375.4 L881.0 374.4 L881.2 373.0 L881.5 371.7 L881.7 371.8 L881.8 370.4 L881.9 369.5 L882.1 368.8 L882.2 369.0 L882.3 368.0 L882.4 366.5 L882.5 365.9 L882.6 364.3 L882.8 363.7 L882.9 363.3 L883.0 362.0 L883.1 359.1 L883.2 359.5 L883.3 359.0 L883.4 358.3 L883.6 358.2 L883.7 356.2 L883.8 354.7 L883.8 354.0 L883.9 354.0 L884.0 353.0 L884.1 350.8 L884.2 350.0 L884.3 349.7 L884.3 348.4 L884.4 348.1 L884.5 347.7 L884.6 345.4 L884.7 345.0 L884.8 342.8 L884.9 343.9 L884.9 342.6 L885.0 341.3 L885.1 339.5 L885.2 337.8 L885.3 337.4 L885.4 336.5 L885.5 337.2 L885.5 335.6 L885.6 334.8 L885.7 334.9 L885.8 331.8 L885.9 330.5 L886.0 331.4 L886.1 329.6 L886.2 329.9 L886.3 327.8 L886.4 326.1 L886.5 327.5 L886.6 325.9 L886.6 325.2 L886.7 323.9 L886.8 323.8 L886.9 322.6 L887.0 319.1 L887.1 318.2 L887.2 317.2 L887.3 318.5 L887.4 316.8 L887.5 316.5 L887.6 314.5 L887.7 313.0 L887.8 314.3 L887.9 312.6 L888.0 310.2 L888.1 309.2 L888.3 310.5 L888.4 309.7 L888.5 306.5 L888.6 308.4 L888.7 304.8 L888.8 304.7 L888.9 304.3 L889.0 304.3 L889.1 303.6 L889.1 299.9 L889.2 299.8 L889.2 298.5 L889.3 297.4 L889.4 298.4 L889.4 295.8 L889.5 295.8 L889.5 295.7 L889.6 295.2 L889.7 293.5 L889.7 293.1 L889.8 292.0 L889.8 289.8 L889.9 288.9 L890.0 290.3 L890.0 287.2 L890.1 288.4 L890.1 284.7 L890.2 284.7 L890.3 284.9 L890.3 282.6 L890.4 284.1 L890.4 282.1 L890.5 281.1 L890.6 280.4 L890.7 280.0 L890.7 276.8 L890.8 276.6 L890.9 275.3 L891.0 274.8 L891.0 273.0 L891.1 272.1 L891.2 272.4 L891.3 272.9 L891.3 271.0 L891.4 270.0 L891.5 270.0 L891.5 268.0 L891.6 267.0 L891.7 266.2 L891.8 265.0 L891.8 262.9 L891.9 261.8 L892.0 263.3 L892.1 261.2 L892.3 261.2 L892.5 257.8 L892.7 258.3 L892.9 258.6 L893.0 254.8 L893.2 256.9 L893.4 254.2 L894.1 253.8 L894.7 253.5 L895.4 252.5 L896.8 251.3 L897.5 253.3 L898.3 252.2 L898.5 251.8 L898.6 252.8 L898.7 256.9 L898.9 255.5 L899.0 256.8 L899.2 258.6 L899.3 259.3 L900.7 258.1 L900.9 260.0 L901.2 260.5 L901.4 260.0 L901.7 262.8 L902.0 263.8 L902.2 264.4 L902.3 265.8 L902.4 264.6 L902.5 265.7 L902.6 269.3 L902.7 268.2 L902.8 271.6 L902.8 272.6 L902.9 273.1 L903.0 273.6 L903.1 272.4 L903.2 275.2 L903.5 275.5 L903.9 278.0 L904.2 279.2 L904.6 278.4 L904.7 279.4 L904.9 280.0 L905.0 280.7 L905.2 284.1 L905.4 284.3 L905.5 284.9 L905.7 286.5 L905.8 286.8 L906.0 286.1 L906.1 288.6 L906.4 290.1 L906.6 291.2 L906.9 292.5 L907.1 291.8 L907.4 293.8 L907.6 295.2 L907.8 295.2 L908.1 296.8 L908.3 296.8 L908.5 298.4 L908.8 299.0 L909.0 301.6 L909.2 302.4 L909.5 302.5 L909.5 303.8 L909.6 304.3 L909.7 305.7 L909.8 305.3 L909.9 305.5 L910.0 307.5 L910.1 310.1 L910.2 308.2 L910.3 310.7 L910.4 310.2 L910.5 310.8 L910.6 313.9 L910.7 314.7 L910.8 314.3 L910.9 316.2 L911.0 316.9 L911.1 317.7 L911.2 319.4 L911.4 320.6 L911.5 321.5 L911.6 321.7 L911.7 323.8 L911.8 324.8 L911.9 325.0 L912.0 324.4 L912.2 325.0 L912.3 327.6 L912.4 328.8 L912.5 330.4 L912.6 331.1 L912.7 330.3 L912.9 330.2 L913.0 332.6 L913.1 333.5 L913.2 334.8 L913.3 334.2 L913.4 336.4 L913.5 337.4 L913.6 336.3 L913.7 337.5 L913.8 339.5 L913.9 341.1 L914.0 342.5 L914.1 341.4 L914.2 344.8 L914.3 343.9 L914.5 346.6 L914.6 345.1 L914.7 347.4 L914.8 349.0 L914.9 347.8 L915.1 349.2 L915.2 351.9 L915.3 352.3 L915.4 353.2 L915.5 351.9 L915.7 355.4 L915.8 354.8 L915.9 355.6 L916.1 357.9 L916.3 357.6 L916.4 359.6 L916.6 360.6 L916.8 358.9 L917.0 360.5 L917.1 362.6 L917.3 361.9 L917.5 363.0 L917.7 365.1 L917.9 366.0 L918.1 365.9 L918.4 366.8 L918.7 369.2 L919.0 369.4 L919.2 370.3 L919.5 371.7 L919.8 372.8 L920.3 373.6 L920.8 374.0 L921.3 374.9 L921.8 376.3 L922.2 376.8 L922.7 377.4 L923.3 378.0 L923.9 379.3 L924.5 379.5 L925.1 380.5 L925.7 381.3 L926.5 381.6 L927.3 382.0 L928.1 382.5 L928.9 383.1 L929.7 383.3 L930.5 383.9 L931.5 383.9 L932.5 384.2 L933.5 384.4 L934.5 384.6 L935.4 384.9 L936.4 385.0 L937.4 385.1 L938.4 385.3 L939.3 385.4 L940.3 385.5 L941.3 385.6 L941.3 385.9 L859.3 385.9 Z" fill="#6d6d6d" stroke="#6d6d6d" stroke-width="0.5"/>
<path d="M859.10 231.20 H1014.55" fill="none" stroke="#7a7a7a" stroke-width="1.3"/>
<path d="M1013.95 231.20 V386.20" fill="none" stroke="#8c8c8c" stroke-width="1.3"/>
<path d="M859.10 230.60 V386.20 H1014.55" fill="none" stroke="#3c3c3c" stroke-width="1.3"/>
<line x1="854.70" y1="238.50" x2="859.10" y2="238.50" stroke="#3c3c3c" stroke-width="0.9"/>
<text transform="translate(852.70 241.25) scale(0.900 1)" text-anchor="end" class="tk">400</text>
<line x1="854.70" y1="275.43" x2="859.10" y2="275.43" stroke="#3c3c3c" stroke-width="0.9"/>
<text transform="translate(852.70 278.18) scale(0.900 1)" text-anchor="end" class="tk">300</text>
<line x1="854.70" y1="312.35" x2="859.10" y2="312.35" stroke="#3c3c3c" stroke-width="0.9"/>
<text transform="translate(852.70 315.10) scale(0.900 1)" text-anchor="end" class="tk">200</text>
<line x1="854.70" y1="349.27" x2="859.10" y2="349.27" stroke="#3c3c3c" stroke-width="0.9"/>
<text transform="translate(852.70 352.02) scale(0.900 1)" text-anchor="end" class="tk">100</text>
<line x1="854.70" y1="386.20" x2="859.10" y2="386.20" stroke="#3c3c3c" stroke-width="0.9"/>
<text transform="translate(852.70 388.95) scale(0.900 1)" text-anchor="end" class="tk">0</text>
<line x1="857.10" y1="376.97" x2="859.10" y2="376.97" stroke="#444" stroke-width="0.8"/>
<line x1="857.10" y1="367.74" x2="859.10" y2="367.74" stroke="#444" stroke-width="0.8"/>
<line x1="857.10" y1="358.51" x2="859.10" y2="358.51" stroke="#444" stroke-width="0.8"/>
<line x1="857.10" y1="349.28" x2="859.10" y2="349.28" stroke="#444" stroke-width="0.8"/>
<line x1="857.10" y1="340.04" x2="859.10" y2="340.04" stroke="#444" stroke-width="0.8"/>
<line x1="857.10" y1="330.81" x2="859.10" y2="330.81" stroke="#444" stroke-width="0.8"/>
<line x1="857.10" y1="321.58" x2="859.10" y2="321.58" stroke="#444" stroke-width="0.8"/>
<line x1="857.10" y1="312.35" x2="859.10" y2="312.35" stroke="#444" stroke-width="0.8"/>
<line x1="857.10" y1="303.12" x2="859.10" y2="303.12" stroke="#444" stroke-width="0.8"/>
<line x1="857.10" y1="293.89" x2="859.10" y2="293.89" stroke="#444" stroke-width="0.8"/>
<line x1="857.10" y1="284.66" x2="859.10" y2="284.66" stroke="#444" stroke-width="0.8"/>
<line x1="857.10" y1="275.43" x2="859.10" y2="275.43" stroke="#444" stroke-width="0.8"/>
<line x1="857.10" y1="266.19" x2="859.10" y2="266.19" stroke="#444" stroke-width="0.8"/>
<line x1="857.10" y1="256.96" x2="859.10" y2="256.96" stroke="#444" stroke-width="0.8"/>
<line x1="857.10" y1="247.73" x2="859.10" y2="247.73" stroke="#444" stroke-width="0.8"/>
<line x1="857.10" y1="238.50" x2="859.10" y2="238.50" stroke="#444" stroke-width="0.8"/>
<line x1="870.54" y1="386.20" x2="870.54" y2="388.70" stroke="#4a4a4a" stroke-width="0.75"/>
<line x1="877.23" y1="386.20" x2="877.23" y2="388.70" stroke="#4a4a4a" stroke-width="0.75"/>
<line x1="881.98" y1="386.20" x2="881.98" y2="388.70" stroke="#4a4a4a" stroke-width="0.75"/>
<line x1="885.66" y1="386.20" x2="885.66" y2="388.70" stroke="#4a4a4a" stroke-width="0.75"/>
<line x1="888.67" y1="386.20" x2="888.67" y2="388.70" stroke="#4a4a4a" stroke-width="0.75"/>
<line x1="891.21" y1="386.20" x2="891.21" y2="388.70" stroke="#4a4a4a" stroke-width="0.75"/>
<line x1="893.42" y1="386.20" x2="893.42" y2="388.70" stroke="#4a4a4a" stroke-width="0.75"/>
<line x1="895.36" y1="386.20" x2="895.36" y2="388.70" stroke="#4a4a4a" stroke-width="0.75"/>
<line x1="908.87" y1="386.20" x2="908.87" y2="388.70" stroke="#4a4a4a" stroke-width="0.75"/>
<line x1="915.76" y1="386.20" x2="915.76" y2="388.70" stroke="#4a4a4a" stroke-width="0.75"/>
<line x1="920.64" y1="386.20" x2="920.64" y2="388.70" stroke="#4a4a4a" stroke-width="0.75"/>
<line x1="924.43" y1="386.20" x2="924.43" y2="388.70" stroke="#4a4a4a" stroke-width="0.75"/>
<line x1="927.53" y1="386.20" x2="927.53" y2="388.70" stroke="#4a4a4a" stroke-width="0.75"/>
<line x1="930.14" y1="386.20" x2="930.14" y2="388.70" stroke="#4a4a4a" stroke-width="0.75"/>
<line x1="932.41" y1="386.20" x2="932.41" y2="388.70" stroke="#4a4a4a" stroke-width="0.75"/>
<line x1="934.41" y1="386.20" x2="934.41" y2="388.70" stroke="#4a4a4a" stroke-width="0.75"/>
<line x1="947.94" y1="386.20" x2="947.94" y2="388.70" stroke="#4a4a4a" stroke-width="0.75"/>
<line x1="954.81" y1="386.20" x2="954.81" y2="388.70" stroke="#4a4a4a" stroke-width="0.75"/>
<line x1="959.68" y1="386.20" x2="959.68" y2="388.70" stroke="#4a4a4a" stroke-width="0.75"/>
<line x1="963.46" y1="386.20" x2="963.46" y2="388.70" stroke="#4a4a4a" stroke-width="0.75"/>
<line x1="966.55" y1="386.20" x2="966.55" y2="388.70" stroke="#4a4a4a" stroke-width="0.75"/>
<line x1="969.16" y1="386.20" x2="969.16" y2="388.70" stroke="#4a4a4a" stroke-width="0.75"/>
<line x1="971.42" y1="386.20" x2="971.42" y2="388.70" stroke="#4a4a4a" stroke-width="0.75"/>
<line x1="973.42" y1="386.20" x2="973.42" y2="388.70" stroke="#4a4a4a" stroke-width="0.75"/>
<line x1="986.91" y1="386.20" x2="986.91" y2="388.70" stroke="#4a4a4a" stroke-width="0.75"/>
<line x1="993.76" y1="386.20" x2="993.76" y2="388.70" stroke="#4a4a4a" stroke-width="0.75"/>
<line x1="998.62" y1="386.20" x2="998.62" y2="388.70" stroke="#4a4a4a" stroke-width="0.75"/>
<line x1="1002.39" y1="386.20" x2="1002.39" y2="388.70" stroke="#4a4a4a" stroke-width="0.75"/>
<line x1="1005.47" y1="386.20" x2="1005.47" y2="388.70" stroke="#4a4a4a" stroke-width="0.75"/>
<line x1="1008.07" y1="386.20" x2="1008.07" y2="388.70" stroke="#4a4a4a" stroke-width="0.75"/>
<line x1="1010.33" y1="386.20" x2="1010.33" y2="388.70" stroke="#4a4a4a" stroke-width="0.75"/>
<line x1="1012.32" y1="386.20" x2="1012.32" y2="388.70" stroke="#4a4a4a" stroke-width="0.75"/>
<line x1="897.10" y1="386.20" x2="897.10" y2="390.60" stroke="#3c3c3c" stroke-width="0.9"/>
<line x1="936.20" y1="386.20" x2="936.20" y2="390.60" stroke="#3c3c3c" stroke-width="0.9"/>
<line x1="975.20" y1="386.20" x2="975.20" y2="390.60" stroke="#3c3c3c" stroke-width="0.9"/>
<line x1="1014.10" y1="386.20" x2="1014.10" y2="390.60" stroke="#3c3c3c" stroke-width="0.9"/>
<text transform="translate(899.30 401.40) scale(0.840 1)" text-anchor="end" class="tk">10</text>
<text transform="translate(899.40 396.70) scale(0.780 1)" text-anchor="start" class="sup">0</text>
<text transform="translate(938.40 401.40) scale(0.840 1)" text-anchor="end" class="tk">10</text>
<text transform="translate(938.50 396.70) scale(0.780 1)" text-anchor="start" class="sup">1</text>
<text transform="translate(977.40 401.40) scale(0.840 1)" text-anchor="end" class="tk">10</text>
<text transform="translate(977.50 396.70) scale(0.780 1)" text-anchor="start" class="sup">2</text>
<text transform="translate(1016.30 401.40) scale(0.840 1)" text-anchor="end" class="tk">10</text>
<text transform="translate(1016.40 396.70) scale(0.780 1)" text-anchor="start" class="sup">3</text>
<text transform="translate(936.60 408.90) scale(0.870 1)" text-anchor="middle" class="ax">FL1: FL1 Log</text>
<text transform="translate(838.70 308.70) rotate(-90) scale(0.87 1)" text-anchor="middle" class="ax"># Cells</text>
<path d="M859.3 385.6 L860.6 385.6 L861.9 385.5 L863.2 385.5 L864.5 385.4 L865.8 385.4 L867.1 385.4 L868.4 385.3 L869.7 385.3 L871.0 385.2 L872.2 385.0 L873.4 384.7 L874.6 384.5 L875.9 384.2 L877.2 383.9 L878.5 383.6 L879.8 383.3 L880.6 382.0 L881.5 380.7 L882.3 379.4 L882.5 378.1 L882.8 376.7 L883.0 375.8 L883.3 374.6 L883.5 373.3 L883.8 371.7 L884.0 370.5 L884.3 369.7 L884.4 368.0 L884.5 367.0 L884.7 366.1 L884.8 364.7 L885.0 363.6 L885.1 361.4 L885.2 360.9 L885.4 359.2 L885.5 358.6 L885.7 356.7 L885.8 356.3 L885.9 354.3 L886.1 352.9 L886.2 352.0 L886.3 350.2 L886.4 349.9 L886.6 347.6 L886.7 347.1 L886.8 346.0 L886.9 344.2 L887.0 342.9 L887.1 342.3 L887.2 340.7 L887.4 339.0 L887.5 338.7 L887.6 336.7 L887.7 335.5 L887.8 334.1 L887.9 333.5 L888.0 331.8 L888.2 330.6 L888.2 328.9 L888.3 327.5 L888.4 327.4 L888.5 325.3 L888.6 324.0 L888.7 322.9 L888.8 321.7 L888.8 320.7 L888.9 320.1 L889.0 318.5 L889.1 316.7 L889.2 315.4 L889.3 315.3 L889.4 312.9 L889.4 312.2 L889.5 310.9 L889.5 309.2 L889.5 308.1 L889.5 306.8 L889.5 306.1 L889.5 304.1 L889.8 303.0 L890.1 301.5 L890.4 301.2 L890.6 299.6 L890.9 298.4 L891.0 297.6 L891.1 295.6 L891.1 294.6 L891.2 293.1 L891.3 292.4 L891.4 291.4 L891.5 289.0 L891.6 288.0 L891.7 286.7 L891.7 285.7 L891.8 283.9 L891.9 282.7 L892.0 281.7 L892.1 280.8 L892.2 279.6 L892.4 277.8 L892.5 276.3 L892.7 275.9 L892.8 273.7 L893.0 273.2 L893.1 271.7 L893.3 271.0 L893.4 268.8 L894.8 267.9 L895.6 268.8 L896.4 271.1 L897.9 271.0 L898.1 271.7 L898.3 272.9 L898.5 274.7 L898.7 276.1 L898.9 276.8 L899.1 278.6 L899.3 279.6 L900.7 277.9 L901.4 276.6 L902.2 274.8 L902.7 276.3 L903.3 277.8 L903.8 278.7 L904.1 279.3 L904.3 281.2 L904.6 282.6 L904.9 283.4 L905.2 284.7 L905.5 285.3 L905.8 287.0 L906.2 288.0 L906.5 289.6 L907.7 288.8 L907.8 289.5 L907.9 291.2 L908.0 292.7 L908.0 294.1 L908.1 294.6 L908.2 296.9 L908.3 297.5 L908.4 299.4 L908.5 300.1 L909.3 301.6 L910.0 303.4 L910.1 304.7 L910.2 306.3 L910.3 307.1 L910.3 308.3 L910.4 309.5 L910.5 309.9 L910.6 311.9 L910.6 313.4 L910.7 314.5 L910.8 315.7 L910.9 317.0 L910.9 317.0 L911.0 319.0 L911.1 319.6 L911.3 321.2 L911.4 322.3 L911.5 324.4 L911.6 324.8 L911.8 326.5 L911.9 327.6 L912.0 329.4 L912.1 330.2 L912.3 330.7 L912.4 332.3 L912.6 333.6 L912.7 334.8 L912.9 336.0 L913.1 336.7 L913.2 338.4 L913.4 339.1 L913.6 340.4 L913.8 342.3 L913.9 343.1 L914.3 344.1 L914.6 346.0 L914.9 346.1 L915.2 347.8 L915.5 349.2 L915.8 350.0 L916.2 351.5 L916.5 353.5 L916.8 353.7 L917.1 355.3 L917.5 357.0 L917.7 358.8 L918.0 359.8 L918.3 361.3 L918.6 362.1 L918.9 363.5 L919.1 364.5 L919.4 365.7 L920.2 366.7 L921.0 368.1 L921.8 369.5 L922.7 370.7 L923.7 372.4 L924.7 373.3 L925.7 374.5 L926.6 375.9 L927.6 377.4 L929.1 377.2 L930.5 377.4 L932.0 376.8 L933.5 376.5 L934.6 375.2 L935.8 373.8 L936.6 374.7 L937.4 375.9 L938.8 375.0 L940.3 374.5 L941.8 375.0 L943.2 375.1 L944.7 376.0 L946.2 376.5 L947.1 377.3 L948.1 378.0 L949.1 379.0 L950.1 379.7 L951.1 380.7 L952.0 381.3 L953.0 382.1 L954.0 382.8 L955.0 383.7 L956.4 383.9 L957.9 384.3 L959.8 385.2 L961.1 385.4 L962.3 385.5 L963.5 385.7 L964.7 385.8 L965.9 385.8 L967.2 385.8 L968.4 385.8 L969.6 385.8 L970.8 385.8 L972.0 385.8 L973.2 385.8 L974.4 385.8 L975.7 385.8 L976.9 385.8 L978.1 385.8 L979.3 385.8 L980.5 385.8 L981.7 385.8 L982.9 385.8 L984.2 385.8 L985.4 385.8 L986.6 385.8 L987.8 385.8 L989.0 385.8 L990.2 385.8 L991.4 385.8 L992.7 385.8 L993.9 385.8 L995.1 385.8 L996.3 385.8 L997.5 385.8 L998.7 385.8 L1000.0 385.8 L1001.2 385.8 L1002.4 385.8 L1003.6 385.8 L1004.8 385.8 L1006.0 385.8 L1007.2 385.8 L1008.5 385.8 L1009.7 385.8 L1010.9 385.8 L1012.1 385.8 L1013.3 385.8 L1014.5 385.8" fill="none" stroke="#000" stroke-opacity="0.22" stroke-width="2.7" stroke-linejoin="round" stroke-linecap="round"/>
<path d="M859.3 385.6 L860.6 385.6 L861.9 385.5 L863.2 385.5 L864.5 385.4 L865.8 385.4 L867.1 385.4 L868.4 385.3 L869.7 385.3 L871.0 385.2 L872.2 385.0 L873.4 384.7 L874.6 384.5 L875.9 384.2 L877.2 383.9 L878.5 383.6 L879.8 383.3 L880.6 382.0 L881.5 380.7 L882.3 379.4 L882.5 378.1 L882.8 376.7 L883.0 375.8 L883.3 374.6 L883.5 373.3 L883.8 371.7 L884.0 370.5 L884.3 369.7 L884.4 368.0 L884.5 367.0 L884.7 366.1 L884.8 364.7 L885.0 363.6 L885.1 361.4 L885.2 360.9 L885.4 359.2 L885.5 358.6 L885.7 356.7 L885.8 356.3 L885.9 354.3 L886.1 352.9 L886.2 352.0 L886.3 350.2 L886.4 349.9 L886.6 347.6 L886.7 347.1 L886.8 346.0 L886.9 344.2 L887.0 342.9 L887.1 342.3 L887.2 340.7 L887.4 339.0 L887.5 338.7 L887.6 336.7 L887.7 335.5 L887.8 334.1 L887.9 333.5 L888.0 331.8 L888.2 330.6 L888.2 328.9 L888.3 327.5 L888.4 327.4 L888.5 325.3 L888.6 324.0 L888.7 322.9 L888.8 321.7 L888.8 320.7 L888.9 320.1 L889.0 318.5 L889.1 316.7 L889.2 315.4 L889.3 315.3 L889.4 312.9 L889.4 312.2 L889.5 310.9 L889.5 309.2 L889.5 308.1 L889.5 306.8 L889.5 306.1 L889.5 304.1 L889.8 303.0 L890.1 301.5 L890.4 301.2 L890.6 299.6 L890.9 298.4 L891.0 297.6 L891.1 295.6 L891.1 294.6 L891.2 293.1 L891.3 292.4 L891.4 291.4 L891.5 289.0 L891.6 288.0 L891.7 286.7 L891.7 285.7 L891.8 283.9 L891.9 282.7 L892.0 281.7 L892.1 280.8 L892.2 279.6 L892.4 277.8 L892.5 276.3 L892.7 275.9 L892.8 273.7 L893.0 273.2 L893.1 271.7 L893.3 271.0 L893.4 268.8 L894.8 267.9 L895.6 268.8 L896.4 271.1 L897.9 271.0 L898.1 271.7 L898.3 272.9 L898.5 274.7 L898.7 276.1 L898.9 276.8 L899.1 278.6 L899.3 279.6 L900.7 277.9 L901.4 276.6 L902.2 274.8 L902.7 276.3 L903.3 277.8 L903.8 278.7 L904.1 279.3 L904.3 281.2 L904.6 282.6 L904.9 283.4 L905.2 284.7 L905.5 285.3 L905.8 287.0 L906.2 288.0 L906.5 289.6 L907.7 288.8 L907.8 289.5 L907.9 291.2 L908.0 292.7 L908.0 294.1 L908.1 294.6 L908.2 296.9 L908.3 297.5 L908.4 299.4 L908.5 300.1 L909.3 301.6 L910.0 303.4 L910.1 304.7 L910.2 306.3 L910.3 307.1 L910.3 308.3 L910.4 309.5 L910.5 309.9 L910.6 311.9 L910.6 313.4 L910.7 314.5 L910.8 315.7 L910.9 317.0 L910.9 317.0 L911.0 319.0 L911.1 319.6 L911.3 321.2 L911.4 322.3 L911.5 324.4 L911.6 324.8 L911.8 326.5 L911.9 327.6 L912.0 329.4 L912.1 330.2 L912.3 330.7 L912.4 332.3 L912.6 333.6 L912.7 334.8 L912.9 336.0 L913.1 336.7 L913.2 338.4 L913.4 339.1 L913.6 340.4 L913.8 342.3 L913.9 343.1 L914.3 344.1 L914.6 346.0 L914.9 346.1 L915.2 347.8 L915.5 349.2 L915.8 350.0 L916.2 351.5 L916.5 353.5 L916.8 353.7 L917.1 355.3 L917.5 357.0 L917.7 358.8 L918.0 359.8 L918.3 361.3 L918.6 362.1 L918.9 363.5 L919.1 364.5 L919.4 365.7 L920.2 366.7 L921.0 368.1 L921.8 369.5 L922.7 370.7 L923.7 372.4 L924.7 373.3 L925.7 374.5 L926.6 375.9 L927.6 377.4 L929.1 377.2 L930.5 377.4 L932.0 376.8 L933.5 376.5 L934.6 375.2 L935.8 373.8 L936.6 374.7 L937.4 375.9 L938.8 375.0 L940.3 374.5 L941.8 375.0 L943.2 375.1 L944.7 376.0 L946.2 376.5 L947.1 377.3 L948.1 378.0 L949.1 379.0 L950.1 379.7 L951.1 380.7 L952.0 381.3 L953.0 382.1 L954.0 382.8 L955.0 383.7 L956.4 383.9 L957.9 384.3 L959.8 385.2 L961.1 385.4 L962.3 385.5 L963.5 385.7 L964.7 385.8 L965.9 385.8 L967.2 385.8 L968.4 385.8 L969.6 385.8 L970.8 385.8 L972.0 385.8 L973.2 385.8 L974.4 385.8 L975.7 385.8 L976.9 385.8 L978.1 385.8 L979.3 385.8 L980.5 385.8 L981.7 385.8 L982.9 385.8 L984.2 385.8 L985.4 385.8 L986.6 385.8 L987.8 385.8 L989.0 385.8 L990.2 385.8 L991.4 385.8 L992.7 385.8 L993.9 385.8 L995.1 385.8 L996.3 385.8 L997.5 385.8 L998.7 385.8 L1000.0 385.8 L1001.2 385.8 L1002.4 385.8 L1003.6 385.8 L1004.8 385.8 L1006.0 385.8 L1007.2 385.8 L1008.5 385.8 L1009.7 385.8 L1010.9 385.8 L1012.1 385.8 L1013.3 385.8 L1014.5 385.8" fill="none" stroke="#141414" stroke-width="1.65" stroke-linejoin="round" stroke-linecap="round"/>
</g>
<g>
<path d="M649.0 585.0 L649.9 585.0 L650.9 585.0 L651.8 585.0 L652.7 585.0 L653.7 585.0 L654.6 585.0 L655.5 585.0 L656.5 584.9 L657.4 584.9 L658.3 584.8 L659.3 584.8 L660.2 584.7 L661.1 584.6 L661.9 584.2 L662.7 583.8 L663.6 583.4 L664.4 583.0 L665.2 582.6 L666.0 582.1 L666.5 581.2 L667.0 580.5 L667.5 580.0 L668.0 579.2 L668.4 578.3 L668.9 577.2 L669.2 576.8 L669.4 576.1 L669.7 575.1 L670.0 573.3 L670.2 572.7 L670.5 571.6 L670.8 571.1 L671.0 571.0 L671.3 569.4 L671.4 568.2 L671.6 566.9 L671.7 565.9 L671.9 566.6 L672.0 566.1 L672.2 565.1 L672.3 561.7 L672.5 561.5 L672.6 560.2 L672.8 560.3 L672.9 558.5 L673.1 558.6 L673.2 557.6 L673.3 557.2 L673.4 555.9 L673.5 554.9 L673.6 552.5 L673.7 554.5 L673.8 551.9 L673.9 552.4 L674.0 549.7 L674.2 548.1 L674.3 550.0 L674.4 547.5 L674.5 545.5 L674.6 547.2 L674.7 546.1 L674.8 542.6 L674.9 544.3 L675.0 540.8 L675.1 539.9 L675.2 539.8 L675.3 540.4 L675.4 538.6 L675.5 537.5 L675.6 537.0 L675.6 534.8 L675.7 533.1 L675.8 532.3 L675.9 531.8 L676.0 532.0 L676.1 529.5 L676.2 528.4 L676.3 528.0 L676.4 526.5 L676.5 525.7 L676.6 525.0 L676.7 524.0 L676.8 523.8 L676.9 524.5 L676.9 523.0 L677.0 519.9 L677.1 520.2 L677.4 521.1 L677.6 522.5 L677.8 523.5 L678.1 524.7 L678.3 525.8 L678.4 525.1 L678.5 523.0 L678.6 522.2 L678.7 523.6 L678.8 521.1 L678.9 521.5 L678.9 520.6 L679.0 519.3 L679.1 517.8 L679.2 517.3 L679.3 514.9 L679.4 513.7 L679.5 513.4 L679.6 511.9 L679.7 511.6 L679.7 509.8 L679.8 509.1 L679.8 507.6 L679.9 507.1 L679.9 508.1 L680.0 505.0 L680.1 506.2 L680.1 505.2 L680.2 502.6 L680.2 502.7 L680.3 502.1 L680.3 502.3 L680.4 500.3 L680.4 497.9 L680.5 496.7 L680.5 496.1 L680.6 495.1 L680.6 495.6 L681.4 496.0 L682.2 494.0 L682.3 494.3 L682.3 493.8 L682.4 490.7 L682.4 490.6 L682.5 488.8 L682.6 488.5 L682.6 488.7 L682.7 485.9 L682.7 486.0 L682.8 485.4 L682.9 485.3 L682.9 484.6 L683.0 483.5 L683.0 481.0 L683.1 479.9 L683.2 480.7 L683.2 479.6 L683.3 478.5 L683.3 477.0 L683.4 477.1 L683.5 473.6 L683.5 472.8 L683.6 473.1 L683.6 471.2 L683.7 471.5 L683.8 470.4 L683.9 469.5 L683.9 467.5 L684.0 468.8 L684.1 466.6 L684.1 463.9 L684.2 464.0 L684.3 463.7 L684.3 463.9 L684.4 462.1 L684.5 462.3 L684.5 459.3 L684.6 457.5 L684.7 457.9 L684.7 458.4 L684.8 456.3 L684.9 456.4 L684.9 454.7 L685.3 454.6 L685.6 452.4 L685.9 449.9 L686.2 450.7 L686.5 449.1 L686.7 448.1 L687.0 446.6 L687.2 446.1 L687.4 445.5 L687.6 445.2 L687.8 445.0 L688.1 442.9 L688.5 442.7 L688.9 440.3 L688.9 441.8 L689.0 442.1 L689.1 443.2 L689.1 443.0 L689.2 445.1 L689.3 447.6 L689.3 448.2 L689.4 449.0 L689.5 447.5 L689.5 450.8 L689.6 450.3 L689.7 451.0 L689.8 452.4 L689.8 453.2 L689.9 453.5 L690.0 456.5 L690.0 456.4 L690.1 456.9 L690.2 458.0 L690.2 457.4 L690.3 458.4 L690.3 459.2 L690.4 461.1 L690.5 463.7 L690.5 461.9 L690.6 463.6 L690.7 466.4 L690.7 465.1 L690.8 467.0 L690.9 469.2 L690.9 469.7 L691.0 469.5 L691.0 470.1 L691.1 470.9 L691.2 472.0 L691.2 475.1 L691.3 474.7 L691.4 475.2 L691.4 477.7 L691.5 476.9 L691.5 477.3 L691.6 479.1 L691.7 478.7 L691.7 482.3 L691.8 480.2 L691.9 482.4 L691.9 482.2 L692.0 484.3 L692.0 486.7 L692.1 485.3 L692.2 488.2 L692.2 488.7 L692.3 487.7 L692.3 491.5 L692.4 489.5 L692.5 492.9 L692.5 494.2 L692.6 493.3 L692.6 494.1 L692.7 495.0 L692.8 496.5 L693.9 497.4 L694.0 497.1 L694.0 498.0 L694.0 499.0 L694.1 499.7 L694.1 500.7 L694.1 502.9 L694.2 502.7 L694.2 505.4 L694.2 505.1 L694.3 508.1 L694.3 506.2 L694.3 508.9 L694.4 509.3 L694.4 511.2 L694.4 509.8 L694.4 511.3 L694.5 514.6 L694.5 514.0 L694.5 514.6 L694.6 514.7 L694.6 517.2 L694.6 519.4 L694.7 519.2 L694.7 520.2 L694.9 521.1 L695.1 520.1 L695.3 522.7 L695.3 523.6 L695.4 525.9 L695.4 526.2 L695.5 526.8 L695.5 525.9 L695.6 527.8 L695.6 529.7 L695.7 529.9 L695.7 531.0 L695.8 530.3 L695.8 532.6 L695.9 532.1 L695.9 532.8 L696.0 536.0 L696.0 535.9 L696.1 536.1 L696.1 537.8 L696.2 537.5 L696.2 540.2 L696.3 542.2 L696.3 542.5 L696.4 543.7 L696.4 544.0 L696.5 545.8 L696.5 545.0 L696.6 544.9 L696.6 546.0 L696.7 547.5 L696.7 547.9 L696.8 548.6 L696.9 549.6 L697.0 552.5 L697.1 552.2 L697.2 552.9 L697.2 553.2 L697.3 556.2 L697.4 555.5 L697.5 558.4 L697.6 556.8 L697.6 557.5 L697.7 561.0 L697.8 560.8 L697.9 562.8 L698.0 563.3 L698.1 564.2 L698.1 564.0 L698.2 565.6 L698.4 565.4 L698.6 568.2 L698.8 568.9 L698.9 569.3 L699.1 569.2 L699.3 570.3 L699.5 571.7 L699.6 572.0 L699.8 574.2 L700.0 575.0 L700.2 575.3 L700.7 575.8 L701.2 576.9 L701.6 578.2 L702.1 578.5 L702.6 579.5 L703.1 580.1 L703.9 580.5 L704.7 581.1 L705.5 581.6 L706.2 582.3 L707.0 582.7 L708.0 582.9 L709.0 583.1 L709.9 583.6 L710.9 583.8 L711.9 584.1 L712.9 584.3 L713.9 584.4 L714.8 584.5 L715.8 584.7 L716.8 584.9 L717.8 585.0 L717.8 585.0 L649.0 585.0 Z" fill="#6d6d6d" stroke="#6d6d6d" stroke-width="0.5"/>
<path d="M648.45 430.30 H803.80" fill="none" stroke="#8c8c8c" stroke-width="1.3"/>
<path d="M803.20 430.30 V585.30" fill="none" stroke="#8c8c8c" stroke-width="1.3"/>
<path d="M648.45 429.70 V585.30 H803.80" fill="none" stroke="#3c3c3c" stroke-width="1.3"/>
<line x1="644.05" y1="437.50" x2="648.45" y2="437.50" stroke="#3c3c3c" stroke-width="0.9"/>
<text transform="translate(642.05 440.25) scale(0.900 1)" text-anchor="end" class="tk">400</text>
<line x1="644.05" y1="474.45" x2="648.45" y2="474.45" stroke="#3c3c3c" stroke-width="0.9"/>
<text transform="translate(642.05 477.20) scale(0.900 1)" text-anchor="end" class="tk">300</text>
<line x1="644.05" y1="511.40" x2="648.45" y2="511.40" stroke="#3c3c3c" stroke-width="0.9"/>
<text transform="translate(642.05 514.15) scale(0.900 1)" text-anchor="end" class="tk">200</text>
<line x1="644.05" y1="548.35" x2="648.45" y2="548.35" stroke="#3c3c3c" stroke-width="0.9"/>
<text transform="translate(642.05 551.10) scale(0.900 1)" text-anchor="end" class="tk">100</text>
<line x1="644.05" y1="585.30" x2="648.45" y2="585.30" stroke="#3c3c3c" stroke-width="0.9"/>
<text transform="translate(642.05 588.05) scale(0.900 1)" text-anchor="end" class="tk">0</text>
<line x1="646.45" y1="576.06" x2="648.45" y2="576.06" stroke="#444" stroke-width="0.8"/>
<line x1="646.45" y1="566.83" x2="648.45" y2="566.83" stroke="#444" stroke-width="0.8"/>
<line x1="646.45" y1="557.59" x2="648.45" y2="557.59" stroke="#444" stroke-width="0.8"/>
<line x1="646.45" y1="548.35" x2="648.45" y2="548.35" stroke="#444" stroke-width="0.8"/>
<line x1="646.45" y1="539.11" x2="648.45" y2="539.11" stroke="#444" stroke-width="0.8"/>
<line x1="646.45" y1="529.88" x2="648.45" y2="529.88" stroke="#444" stroke-width="0.8"/>
<line x1="646.45" y1="520.64" x2="648.45" y2="520.64" stroke="#444" stroke-width="0.8"/>
<line x1="646.45" y1="511.40" x2="648.45" y2="511.40" stroke="#444" stroke-width="0.8"/>
<line x1="646.45" y1="502.16" x2="648.45" y2="502.16" stroke="#444" stroke-width="0.8"/>
<line x1="646.45" y1="492.93" x2="648.45" y2="492.93" stroke="#444" stroke-width="0.8"/>
<line x1="646.45" y1="483.69" x2="648.45" y2="483.69" stroke="#444" stroke-width="0.8"/>
<line x1="646.45" y1="474.45" x2="648.45" y2="474.45" stroke="#444" stroke-width="0.8"/>
<line x1="646.45" y1="465.21" x2="648.45" y2="465.21" stroke="#444" stroke-width="0.8"/>
<line x1="646.45" y1="455.98" x2="648.45" y2="455.98" stroke="#444" stroke-width="0.8"/>
<line x1="646.45" y1="446.74" x2="648.45" y2="446.74" stroke="#444" stroke-width="0.8"/>
<line x1="646.45" y1="437.50" x2="648.45" y2="437.50" stroke="#444" stroke-width="0.8"/>
<line x1="659.89" y1="585.30" x2="659.89" y2="587.80" stroke="#4a4a4a" stroke-width="0.75"/>
<line x1="666.58" y1="585.30" x2="666.58" y2="587.80" stroke="#4a4a4a" stroke-width="0.75"/>
<line x1="671.33" y1="585.30" x2="671.33" y2="587.80" stroke="#4a4a4a" stroke-width="0.75"/>
<line x1="675.01" y1="585.30" x2="675.01" y2="587.80" stroke="#4a4a4a" stroke-width="0.75"/>
<line x1="678.02" y1="585.30" x2="678.02" y2="587.80" stroke="#4a4a4a" stroke-width="0.75"/>
<line x1="680.56" y1="585.30" x2="680.56" y2="587.80" stroke="#4a4a4a" stroke-width="0.75"/>
<line x1="682.77" y1="585.30" x2="682.77" y2="587.80" stroke="#4a4a4a" stroke-width="0.75"/>
<line x1="684.71" y1="585.30" x2="684.71" y2="587.80" stroke="#4a4a4a" stroke-width="0.75"/>
<line x1="698.22" y1="585.30" x2="698.22" y2="587.80" stroke="#4a4a4a" stroke-width="0.75"/>
<line x1="705.11" y1="585.30" x2="705.11" y2="587.80" stroke="#4a4a4a" stroke-width="0.75"/>
<line x1="709.99" y1="585.30" x2="709.99" y2="587.80" stroke="#4a4a4a" stroke-width="0.75"/>
<line x1="713.78" y1="585.30" x2="713.78" y2="587.80" stroke="#4a4a4a" stroke-width="0.75"/>
<line x1="716.88" y1="585.30" x2="716.88" y2="587.80" stroke="#4a4a4a" stroke-width="0.75"/>
<line x1="719.49" y1="585.30" x2="719.49" y2="587.80" stroke="#4a4a4a" stroke-width="0.75"/>
<line x1="721.76" y1="585.30" x2="721.76" y2="587.80" stroke="#4a4a4a" stroke-width="0.75"/>
<line x1="723.76" y1="585.30" x2="723.76" y2="587.80" stroke="#4a4a4a" stroke-width="0.75"/>
<line x1="737.29" y1="585.30" x2="737.29" y2="587.80" stroke="#4a4a4a" stroke-width="0.75"/>
<line x1="744.16" y1="585.30" x2="744.16" y2="587.80" stroke="#4a4a4a" stroke-width="0.75"/>
<line x1="749.03" y1="585.30" x2="749.03" y2="587.80" stroke="#4a4a4a" stroke-width="0.75"/>
<line x1="752.81" y1="585.30" x2="752.81" y2="587.80" stroke="#4a4a4a" stroke-width="0.75"/>
<line x1="755.90" y1="585.30" x2="755.90" y2="587.80" stroke="#4a4a4a" stroke-width="0.75"/>
<line x1="758.51" y1="585.30" x2="758.51" y2="587.80" stroke="#4a4a4a" stroke-width="0.75"/>
<line x1="760.77" y1="585.30" x2="760.77" y2="587.80" stroke="#4a4a4a" stroke-width="0.75"/>
<line x1="762.77" y1="585.30" x2="762.77" y2="587.80" stroke="#4a4a4a" stroke-width="0.75"/>
<line x1="776.26" y1="585.30" x2="776.26" y2="587.80" stroke="#4a4a4a" stroke-width="0.75"/>
<line x1="783.11" y1="585.30" x2="783.11" y2="587.80" stroke="#4a4a4a" stroke-width="0.75"/>
<line x1="787.97" y1="585.30" x2="787.97" y2="587.80" stroke="#4a4a4a" stroke-width="0.75"/>
<line x1="791.74" y1="585.30" x2="791.74" y2="587.80" stroke="#4a4a4a" stroke-width="0.75"/>
<line x1="794.82" y1="585.30" x2="794.82" y2="587.80" stroke="#4a4a4a" stroke-width="0.75"/>
<line x1="797.42" y1="585.30" x2="797.42" y2="587.80" stroke="#4a4a4a" stroke-width="0.75"/>
<line x1="799.68" y1="585.30" x2="799.68" y2="587.80" stroke="#4a4a4a" stroke-width="0.75"/>
<line x1="801.67" y1="585.30" x2="801.67" y2="587.80" stroke="#4a4a4a" stroke-width="0.75"/>
<line x1="686.45" y1="585.30" x2="686.45" y2="589.70" stroke="#3c3c3c" stroke-width="0.9"/>
<line x1="725.55" y1="585.30" x2="725.55" y2="589.70" stroke="#3c3c3c" stroke-width="0.9"/>
<line x1="764.55" y1="585.30" x2="764.55" y2="589.70" stroke="#3c3c3c" stroke-width="0.9"/>
<line x1="803.45" y1="585.30" x2="803.45" y2="589.70" stroke="#3c3c3c" stroke-width="0.9"/>
<text transform="translate(688.65 600.50) scale(0.840 1)" text-anchor="end" class="tk">10</text>
<text transform="translate(688.75 595.80) scale(0.780 1)" text-anchor="start" class="sup">0</text>
<text transform="translate(727.75 600.50) scale(0.840 1)" text-anchor="end" class="tk">10</text>
<text transform="translate(727.85 595.80) scale(0.780 1)" text-anchor="start" class="sup">1</text>
<text transform="translate(766.75 600.50) scale(0.840 1)" text-anchor="end" class="tk">10</text>
<text transform="translate(766.85 595.80) scale(0.780 1)" text-anchor="start" class="sup">2</text>
<text transform="translate(805.65 600.50) scale(0.840 1)" text-anchor="end" class="tk">10</text>
<text transform="translate(805.75 595.80) scale(0.780 1)" text-anchor="start" class="sup">3</text>
<text transform="translate(725.95 608.00) scale(0.870 1)" text-anchor="middle" class="ax">FL2: FL2 Log</text>
<text transform="translate(628.05 507.80) rotate(-90) scale(0.87 1)" text-anchor="middle" class="ax"># Cells</text>
<path d="M649.0 585.0 L650.2 585.0 L651.5 585.0 L652.7 585.0 L653.9 585.0 L655.2 585.0 L656.4 585.0 L657.6 585.0 L658.9 585.0 L660.1 585.0 L661.3 585.0 L662.6 585.0 L663.8 585.0 L665.0 585.0 L666.3 585.0 L667.5 585.0 L668.7 585.0 L670.0 585.0 L671.2 585.0 L672.4 585.0 L673.7 585.0 L674.9 585.0 L676.1 585.0 L677.4 585.0 L678.6 585.0 L679.8 585.0 L681.1 585.0 L682.3 585.0 L683.5 585.0 L684.8 585.0 L686.0 585.0 L687.2 585.0 L688.5 585.0 L689.8 584.8 L691.1 584.6 L692.4 584.5 L693.8 584.7 L695.3 584.9 L696.8 585.0 L698.2 585.0 L699.4 585.0 L700.6 585.0 L701.8 585.0 L703.0 585.0 L704.2 585.0 L705.4 585.0 L706.6 585.0 L707.8 585.0 L709.0 585.0 L710.2 585.0 L711.4 585.0 L712.6 585.0 L713.9 585.0 L715.1 585.0 L716.3 584.9 L717.5 584.7 L718.7 584.5 L720.0 583.8 L721.3 583.3 L722.6 582.7 L723.6 581.9 L724.6 581.0 L725.6 580.2 L726.5 579.2 L727.3 578.0 L728.0 576.7 L728.7 575.7 L729.5 574.3 L729.9 572.7 L730.3 571.6 L730.6 570.5 L731.0 569.4 L731.4 567.8 L731.8 566.4 L732.1 565.6 L732.4 563.7 L732.7 562.3 L732.9 562.1 L733.2 560.0 L733.5 558.8 L733.8 557.7 L734.1 557.1 L734.4 555.7 L734.6 554.6 L734.9 553.6 L735.2 551.2 L735.5 549.8 L735.8 549.5 L736.1 548.3 L736.3 547.2 L736.6 544.6 L736.9 544.1 L737.2 543.2 L737.4 542.1 L737.7 539.9 L737.9 538.1 L738.2 537.6 L738.5 536.6 L738.7 534.4 L739.0 534.1 L739.2 532.1 L739.5 531.7 L739.8 530.0 L740.0 529.0 L740.3 527.0 L740.5 525.2 L740.8 525.0 L741.1 522.9 L741.3 522.1 L741.6 520.7 L742.0 518.9 L742.4 518.9 L742.8 517.0 L743.1 515.8 L743.5 514.9 L743.8 513.2 L744.1 512.2 L744.3 510.7 L744.6 509.4 L744.8 508.1 L745.1 506.7 L745.3 505.0 L745.6 504.1 L745.8 503.5 L746.1 502.5 L746.3 501.5 L746.6 499.9 L746.8 498.4 L747.1 497.4 L747.2 495.7 L747.4 494.8 L747.6 493.3 L747.7 492.8 L747.9 491.9 L748.1 490.3 L748.3 488.9 L748.4 488.4 L748.6 486.4 L748.8 488.1 L748.9 489.8 L749.1 490.8 L749.2 491.7 L749.4 493.4 L749.6 491.8 L749.9 491.3 L750.1 488.6 L750.3 487.4 L750.6 486.5 L750.7 484.8 L750.8 484.0 L750.9 483.3 L751.0 481.3 L751.1 480.9 L751.2 478.5 L751.3 477.8 L751.4 476.9 L751.4 478.4 L751.5 479.2 L751.6 480.4 L751.6 481.9 L751.7 483.7 L751.8 484.3 L751.8 485.2 L751.9 486.6 L752.0 487.6 L752.1 489.8 L752.1 490.3 L752.7 488.9 L753.3 487.6 L753.4 486.4 L753.5 484.9 L753.6 484.1 L753.7 481.9 L753.8 481.1 L753.9 480.0 L754.0 477.6 L754.1 476.7 L754.2 478.3 L754.3 478.8 L754.4 480.2 L754.6 481.9 L754.7 483.7 L754.8 484.9 L754.9 485.0 L755.0 486.4 L755.1 488.3 L755.3 489.3 L755.4 490.2 L755.5 492.2 L755.6 493.2 L755.7 494.9 L755.8 495.1 L755.9 497.6 L756.0 498.5 L756.1 497.0 L756.2 495.7 L756.3 493.8 L756.4 493.0 L756.5 492.1 L756.6 490.1 L756.6 488.6 L756.7 487.7 L756.8 486.4 L756.9 487.5 L757.0 489.0 L757.1 489.8 L757.3 492.1 L757.4 493.5 L757.5 494.7 L757.6 496.2 L757.7 497.6 L757.8 498.4 L758.5 499.6 L759.2 501.2 L759.4 501.8 L759.6 503.5 L759.7 504.9 L760.0 505.6 L760.2 506.9 L760.4 508.9 L760.7 510.5 L760.9 511.9 L761.1 512.9 L761.3 513.6 L761.5 515.9 L761.6 516.7 L761.8 517.9 L762.0 518.6 L762.2 521.1 L762.3 521.9 L762.5 522.6 L762.7 524.4 L762.9 525.2 L763.0 526.7 L763.2 528.2 L763.4 529.0 L763.6 530.7 L763.7 532.5 L763.9 532.8 L764.1 534.7 L764.3 535.2 L764.5 537.1 L764.6 538.2 L764.8 539.1 L765.0 540.9 L765.2 541.2 L765.3 542.9 L765.5 544.6 L765.7 545.7 L765.9 547.4 L766.1 548.0 L766.2 548.8 L766.4 549.9 L766.6 551.7 L766.8 553.1 L767.1 554.2 L767.3 555.8 L767.6 556.8 L767.8 557.3 L768.0 559.7 L768.3 560.9 L768.5 561.5 L768.9 563.3 L769.2 564.0 L769.5 565.6 L769.8 566.7 L770.2 568.2 L770.5 569.3 L770.9 570.9 L771.3 572.4 L771.7 573.4 L772.1 574.8 L772.4 575.9 L772.8 577.2 L773.5 578.2 L774.1 579.4 L774.7 580.5 L775.4 581.6 L776.4 582.3 L777.3 583.3 L778.3 584.1 L779.6 584.5 L780.9 585.0 L782.2 585.0 L783.5 585.0 L784.7 585.0 L786.0 585.0 L787.3 585.0 L788.5 585.0 L789.8 585.0 L791.1 585.0 L792.3 585.0 L793.6 585.0 L794.8 585.0 L796.1 585.0 L797.4 585.0 L798.6 585.0 L799.9 585.0 L801.2 585.0 L802.4 585.0 L803.7 585.4" fill="none" stroke="#000" stroke-opacity="0.22" stroke-width="2.7" stroke-linejoin="round" stroke-linecap="round"/>
<path d="M649.0 585.0 L650.2 585.0 L651.5 585.0 L652.7 585.0 L653.9 585.0 L655.2 585.0 L656.4 585.0 L657.6 585.0 L658.9 585.0 L660.1 585.0 L661.3 585.0 L662.6 585.0 L663.8 585.0 L665.0 585.0 L666.3 585.0 L667.5 585.0 L668.7 585.0 L670.0 585.0 L671.2 585.0 L672.4 585.0 L673.7 585.0 L674.9 585.0 L676.1 585.0 L677.4 585.0 L678.6 585.0 L679.8 585.0 L681.1 585.0 L682.3 585.0 L683.5 585.0 L684.8 585.0 L686.0 585.0 L687.2 585.0 L688.5 585.0 L689.8 584.8 L691.1 584.6 L692.4 584.5 L693.8 584.7 L695.3 584.9 L696.8 585.0 L698.2 585.0 L699.4 585.0 L700.6 585.0 L701.8 585.0 L703.0 585.0 L704.2 585.0 L705.4 585.0 L706.6 585.0 L707.8 585.0 L709.0 585.0 L710.2 585.0 L711.4 585.0 L712.6 585.0 L713.9 585.0 L715.1 585.0 L716.3 584.9 L717.5 584.7 L718.7 584.5 L720.0 583.8 L721.3 583.3 L722.6 582.7 L723.6 581.9 L724.6 581.0 L725.6 580.2 L726.5 579.2 L727.3 578.0 L728.0 576.7 L728.7 575.7 L729.5 574.3 L729.9 572.7 L730.3 571.6 L730.6 570.5 L731.0 569.4 L731.4 567.8 L731.8 566.4 L732.1 565.6 L732.4 563.7 L732.7 562.3 L732.9 562.1 L733.2 560.0 L733.5 558.8 L733.8 557.7 L734.1 557.1 L734.4 555.7 L734.6 554.6 L734.9 553.6 L735.2 551.2 L735.5 549.8 L735.8 549.5 L736.1 548.3 L736.3 547.2 L736.6 544.6 L736.9 544.1 L737.2 543.2 L737.4 542.1 L737.7 539.9 L737.9 538.1 L738.2 537.6 L738.5 536.6 L738.7 534.4 L739.0 534.1 L739.2 532.1 L739.5 531.7 L739.8 530.0 L740.0 529.0 L740.3 527.0 L740.5 525.2 L740.8 525.0 L741.1 522.9 L741.3 522.1 L741.6 520.7 L742.0 518.9 L742.4 518.9 L742.8 517.0 L743.1 515.8 L743.5 514.9 L743.8 513.2 L744.1 512.2 L744.3 510.7 L744.6 509.4 L744.8 508.1 L745.1 506.7 L745.3 505.0 L745.6 504.1 L745.8 503.5 L746.1 502.5 L746.3 501.5 L746.6 499.9 L746.8 498.4 L747.1 497.4 L747.2 495.7 L747.4 494.8 L747.6 493.3 L747.7 492.8 L747.9 491.9 L748.1 490.3 L748.3 488.9 L748.4 488.4 L748.6 486.4 L748.8 488.1 L748.9 489.8 L749.1 490.8 L749.2 491.7 L749.4 493.4 L749.6 491.8 L749.9 491.3 L750.1 488.6 L750.3 487.4 L750.6 486.5 L750.7 484.8 L750.8 484.0 L750.9 483.3 L751.0 481.3 L751.1 480.9 L751.2 478.5 L751.3 477.8 L751.4 476.9 L751.4 478.4 L751.5 479.2 L751.6 480.4 L751.6 481.9 L751.7 483.7 L751.8 484.3 L751.8 485.2 L751.9 486.6 L752.0 487.6 L752.1 489.8 L752.1 490.3 L752.7 488.9 L753.3 487.6 L753.4 486.4 L753.5 484.9 L753.6 484.1 L753.7 481.9 L753.8 481.1 L753.9 480.0 L754.0 477.6 L754.1 476.7 L754.2 478.3 L754.3 478.8 L754.4 480.2 L754.6 481.9 L754.7 483.7 L754.8 484.9 L754.9 485.0 L755.0 486.4 L755.1 488.3 L755.3 489.3 L755.4 490.2 L755.5 492.2 L755.6 493.2 L755.7 494.9 L755.8 495.1 L755.9 497.6 L756.0 498.5 L756.1 497.0 L756.2 495.7 L756.3 493.8 L756.4 493.0 L756.5 492.1 L756.6 490.1 L756.6 488.6 L756.7 487.7 L756.8 486.4 L756.9 487.5 L757.0 489.0 L757.1 489.8 L757.3 492.1 L757.4 493.5 L757.5 494.7 L757.6 496.2 L757.7 497.6 L757.8 498.4 L758.5 499.6 L759.2 501.2 L759.4 501.8 L759.6 503.5 L759.7 504.9 L760.0 505.6 L760.2 506.9 L760.4 508.9 L760.7 510.5 L760.9 511.9 L761.1 512.9 L761.3 513.6 L761.5 515.9 L761.6 516.7 L761.8 517.9 L762.0 518.6 L762.2 521.1 L762.3 521.9 L762.5 522.6 L762.7 524.4 L762.9 525.2 L763.0 526.7 L763.2 528.2 L763.4 529.0 L763.6 530.7 L763.7 532.5 L763.9 532.8 L764.1 534.7 L764.3 535.2 L764.5 537.1 L764.6 538.2 L764.8 539.1 L765.0 540.9 L765.2 541.2 L765.3 542.9 L765.5 544.6 L765.7 545.7 L765.9 547.4 L766.1 548.0 L766.2 548.8 L766.4 549.9 L766.6 551.7 L766.8 553.1 L767.1 554.2 L767.3 555.8 L767.6 556.8 L767.8 557.3 L768.0 559.7 L768.3 560.9 L768.5 561.5 L768.9 563.3 L769.2 564.0 L769.5 565.6 L769.8 566.7 L770.2 568.2 L770.5 569.3 L770.9 570.9 L771.3 572.4 L771.7 573.4 L772.1 574.8 L772.4 575.9 L772.8 577.2 L773.5 578.2 L774.1 579.4 L774.7 580.5 L775.4 581.6 L776.4 582.3 L777.3 583.3 L778.3 584.1 L779.6 584.5 L780.9 585.0 L782.2 585.0 L783.5 585.0 L784.7 585.0 L786.0 585.0 L787.3 585.0 L788.5 585.0 L789.8 585.0 L791.1 585.0 L792.3 585.0 L793.6 585.0 L794.8 585.0 L796.1 585.0 L797.4 585.0 L798.6 585.0 L799.9 585.0 L801.2 585.0 L802.4 585.0 L803.7 585.4" fill="none" stroke="#141414" stroke-width="1.65" stroke-linejoin="round" stroke-linecap="round"/>
</g>
<g>
<path d="M882.7 587.1 L883.4 586.8 L884.2 586.3 L884.9 585.6 L885.6 585.0 L885.9 584.1 L886.3 582.9 L886.6 581.9 L886.9 581.1 L887.3 579.9 L887.6 579.2 L887.7 578.2 L887.9 577.2 L888.0 576.2 L888.2 575.2 L888.3 575.0 L888.5 574.5 L888.6 572.6 L888.8 572.6 L888.9 570.7 L889.1 570.7 L889.2 568.7 L889.4 568.5 L889.5 567.4 L889.6 567.5 L889.7 566.3 L889.8 563.5 L889.9 562.5 L890.0 562.7 L890.1 561.0 L890.2 560.1 L890.3 561.5 L890.4 560.5 L890.5 556.6 L890.6 555.7 L890.6 556.7 L890.7 556.8 L890.8 555.7 L890.9 554.1 L891.0 553.3 L891.1 551.6 L891.2 550.7 L891.3 550.9 L891.4 547.6 L891.5 548.1 L891.5 547.7 L891.6 545.0 L891.7 546.0 L891.7 543.2 L891.8 544.8 L891.9 543.2 L891.9 541.3 L892.0 540.8 L892.1 541.1 L892.1 538.2 L892.2 536.8 L892.3 537.4 L892.3 537.1 L892.4 533.8 L892.5 534.8 L892.5 532.7 L892.6 532.7 L892.7 531.1 L892.7 531.7 L892.8 529.6 L892.9 528.8 L892.9 529.0 L893.0 525.4 L893.0 527.0 L893.1 525.5 L893.1 522.6 L893.2 523.1 L893.2 521.2 L893.3 519.5 L893.4 518.6 L893.4 518.7 L893.5 519.4 L893.5 515.9 L893.6 516.6 L893.6 516.6 L893.7 514.0 L893.7 514.2 L893.8 512.9 L893.9 512.5 L893.9 510.7 L894.0 511.3 L894.0 508.8 L894.0 507.0 L894.0 505.7 L894.0 505.2 L894.0 503.8 L894.0 505.5 L894.0 502.0 L894.0 502.5 L894.1 502.1 L894.2 500.2 L894.2 498.0 L894.3 497.5 L894.3 498.9 L894.4 496.3 L894.5 496.6 L894.5 493.5 L894.6 492.4 L894.7 492.4 L894.7 491.5 L894.8 490.1 L894.9 490.5 L894.9 489.4 L895.0 488.4 L895.1 486.7 L895.1 486.1 L895.2 484.7 L895.3 484.7 L895.3 483.2 L895.4 482.8 L895.5 483.2 L895.5 480.2 L895.6 480.2 L895.7 477.7 L895.8 479.1 L895.9 477.2 L896.0 476.5 L896.0 475.5 L896.1 473.1 L896.2 474.7 L896.3 471.0 L896.4 470.6 L896.4 470.7 L896.5 471.1 L896.6 469.5 L896.7 469.2 L896.8 466.9 L896.9 466.2 L897.1 465.4 L897.2 463.2 L897.4 461.8 L897.5 461.6 L897.7 459.8 L897.9 458.6 L898.0 458.2 L898.2 459.4 L898.3 457.4 L898.6 457.1 L899.0 455.5 L899.3 454.3 L900.0 456.6 L900.7 456.1 L900.7 456.4 L900.8 457.4 L900.9 457.7 L901.0 458.4 L901.0 460.1 L901.1 462.2 L901.2 461.7 L901.2 463.5 L901.3 463.8 L901.4 466.2 L901.5 465.5 L901.5 467.1 L901.6 469.0 L901.7 469.8 L901.8 471.3 L901.8 470.5 L901.9 471.7 L901.9 471.7 L902.0 474.9 L902.0 473.7 L902.1 476.4 L902.1 476.4 L902.2 478.1 L902.3 479.1 L902.3 480.2 L902.4 481.2 L902.4 480.5 L902.5 482.3 L902.5 484.0 L902.6 484.5 L902.6 484.3 L902.7 486.4 L902.7 487.2 L902.8 487.0 L902.8 487.9 L902.9 488.8 L902.9 491.3 L903.0 489.9 L903.0 493.1 L903.1 491.4 L903.1 492.7 L903.2 494.6 L903.3 496.0 L903.3 495.6 L903.3 496.5 L903.4 498.3 L903.4 499.8 L903.5 499.5 L903.5 500.7 L903.6 501.5 L903.6 503.7 L903.7 504.9 L903.7 504.9 L903.8 504.6 L903.8 506.1 L903.9 507.0 L903.9 508.6 L904.0 508.5 L904.0 510.4 L904.1 511.0 L904.1 512.0 L904.2 513.2 L904.2 513.4 L904.3 513.8 L904.3 513.9 L904.3 514.8 L904.4 517.9 L904.4 519.4 L904.4 519.6 L904.5 519.1 L904.5 519.4 L904.6 521.6 L904.6 521.3 L904.6 522.2 L904.7 524.9 L904.7 524.3 L904.7 526.2 L904.8 528.3 L904.8 528.1 L904.9 528.6 L904.9 529.9 L904.9 532.1 L905.0 530.7 L905.0 533.3 L905.0 532.7 L905.1 534.8 L905.1 533.8 L905.2 535.8 L905.2 536.2 L905.3 538.7 L905.3 538.1 L905.4 540.5 L905.4 540.1 L905.5 542.7 L905.5 543.8 L905.6 544.2 L905.6 543.4 L905.7 543.8 L905.7 546.0 L905.8 546.3 L905.8 546.4 L905.9 549.6 L905.9 550.8 L906.0 551.8 L906.0 552.8 L906.1 552.7 L906.2 553.4 L906.2 555.8 L906.3 554.8 L906.3 556.9 L906.4 556.3 L906.4 559.3 L906.5 559.1 L906.5 560.1 L906.6 561.7 L906.7 561.9 L906.8 562.4 L906.9 562.3 L907.0 563.4 L907.1 564.0 L907.2 566.4 L907.3 566.3 L907.3 566.7 L907.4 569.1 L907.5 570.1 L907.6 569.8 L907.7 571.1 L907.8 573.2 L907.9 573.8 L908.0 574.8 L908.1 575.2 L908.4 575.6 L908.6 577.4 L908.9 578.3 L909.2 579.3 L909.5 579.8 L909.8 581.2 L910.0 582.2 L910.8 582.8 L911.6 583.4 L912.4 584.0 L913.2 584.7 L913.9 585.4 L914.9 585.6 L915.9 586.0 L916.9 586.2 L917.9 586.4 L918.8 586.7 L919.8 587.0 L919.8 587.1 L882.7 587.1 Z" fill="#6d6d6d" stroke="#6d6d6d" stroke-width="0.5"/>
<path d="M859.10 432.40 H1014.55" fill="none" stroke="#6a6a6a" stroke-width="1.3"/>
<path d="M1013.95 432.40 V587.40" fill="none" stroke="#8c8c8c" stroke-width="1.3"/>
<path d="M859.10 431.80 V587.40 H1014.55" fill="none" stroke="#3c3c3c" stroke-width="1.3"/>
<line x1="854.70" y1="437.30" x2="859.10" y2="437.30" stroke="#3c3c3c" stroke-width="0.9"/>
<text transform="translate(852.70 440.05) scale(0.900 1)" text-anchor="end" class="tk">600</text>
<line x1="854.70" y1="487.33" x2="859.10" y2="487.33" stroke="#3c3c3c" stroke-width="0.9"/>
<text transform="translate(852.70 490.08) scale(0.900 1)" text-anchor="end" class="tk">400</text>
<line x1="854.70" y1="537.37" x2="859.10" y2="537.37" stroke="#3c3c3c" stroke-width="0.9"/>
<text transform="translate(852.70 540.12) scale(0.900 1)" text-anchor="end" class="tk">200</text>
<line x1="854.70" y1="587.40" x2="859.10" y2="587.40" stroke="#3c3c3c" stroke-width="0.9"/>
<text transform="translate(852.70 590.15) scale(0.900 1)" text-anchor="end" class="tk">0</text>
<line x1="857.10" y1="574.89" x2="859.10" y2="574.89" stroke="#444" stroke-width="0.8"/>
<line x1="857.10" y1="562.38" x2="859.10" y2="562.38" stroke="#444" stroke-width="0.8"/>
<line x1="857.10" y1="549.88" x2="859.10" y2="549.88" stroke="#444" stroke-width="0.8"/>
<line x1="857.10" y1="537.37" x2="859.10" y2="537.37" stroke="#444" stroke-width="0.8"/>
<line x1="857.10" y1="524.86" x2="859.10" y2="524.86" stroke="#444" stroke-width="0.8"/>
<line x1="857.10" y1="512.35" x2="859.10" y2="512.35" stroke="#444" stroke-width="0.8"/>
<line x1="857.10" y1="499.84" x2="859.10" y2="499.84" stroke="#444" stroke-width="0.8"/>
<line x1="857.10" y1="487.33" x2="859.10" y2="487.33" stroke="#444" stroke-width="0.8"/>
<line x1="857.10" y1="474.83" x2="859.10" y2="474.83" stroke="#444" stroke-width="0.8"/>
<line x1="857.10" y1="462.32" x2="859.10" y2="462.32" stroke="#444" stroke-width="0.8"/>
<line x1="857.10" y1="449.81" x2="859.10" y2="449.81" stroke="#444" stroke-width="0.8"/>
<line x1="857.10" y1="437.30" x2="859.10" y2="437.30" stroke="#444" stroke-width="0.8"/>
<line x1="870.54" y1="587.40" x2="870.54" y2="589.90" stroke="#4a4a4a" stroke-width="0.75"/>
<line x1="877.23" y1="587.40" x2="877.23" y2="589.90" stroke="#4a4a4a" stroke-width="0.75"/>
<line x1="881.98" y1="587.40" x2="881.98" y2="589.90" stroke="#4a4a4a" stroke-width="0.75"/>
<line x1="885.66" y1="587.40" x2="885.66" y2="589.90" stroke="#4a4a4a" stroke-width="0.75"/>
<line x1="888.67" y1="587.40" x2="888.67" y2="589.90" stroke="#4a4a4a" stroke-width="0.75"/>
<line x1="891.21" y1="587.40" x2="891.21" y2="589.90" stroke="#4a4a4a" stroke-width="0.75"/>
<line x1="893.42" y1="587.40" x2="893.42" y2="589.90" stroke="#4a4a4a" stroke-width="0.75"/>
<line x1="895.36" y1="587.40" x2="895.36" y2="589.90" stroke="#4a4a4a" stroke-width="0.75"/>
<line x1="908.87" y1="587.40" x2="908.87" y2="589.90" stroke="#4a4a4a" stroke-width="0.75"/>
<line x1="915.76" y1="587.40" x2="915.76" y2="589.90" stroke="#4a4a4a" stroke-width="0.75"/>
<line x1="920.64" y1="587.40" x2="920.64" y2="589.90" stroke="#4a4a4a" stroke-width="0.75"/>
<line x1="924.43" y1="587.40" x2="924.43" y2="589.90" stroke="#4a4a4a" stroke-width="0.75"/>
<line x1="927.53" y1="587.40" x2="927.53" y2="589.90" stroke="#4a4a4a" stroke-width="0.75"/>
<line x1="930.14" y1="587.40" x2="930.14" y2="589.90" stroke="#4a4a4a" stroke-width="0.75"/>
<line x1="932.41" y1="587.40" x2="932.41" y2="589.90" stroke="#4a4a4a" stroke-width="0.75"/>
<line x1="934.41" y1="587.40" x2="934.41" y2="589.90" stroke="#4a4a4a" stroke-width="0.75"/>
<line x1="947.94" y1="587.40" x2="947.94" y2="589.90" stroke="#4a4a4a" stroke-width="0.75"/>
<line x1="954.81" y1="587.40" x2="954.81" y2="589.90" stroke="#4a4a4a" stroke-width="0.75"/>
<line x1="959.68" y1="587.40" x2="959.68" y2="589.90" stroke="#4a4a4a" stroke-width="0.75"/>
<line x1="963.46" y1="587.40" x2="963.46" y2="589.90" stroke="#4a4a4a" stroke-width="0.75"/>
<line x1="966.55" y1="587.40" x2="966.55" y2="589.90" stroke="#4a4a4a" stroke-width="0.75"/>
<line x1="969.16" y1="587.40" x2="969.16" y2="589.90" stroke="#4a4a4a" stroke-width="0.75"/>
<line x1="971.42" y1="587.40" x2="971.42" y2="589.90" stroke="#4a4a4a" stroke-width="0.75"/>
<line x1="973.42" y1="587.40" x2="973.42" y2="589.90" stroke="#4a4a4a" stroke-width="0.75"/>
<line x1="986.91" y1="587.40" x2="986.91" y2="589.90" stroke="#4a4a4a" stroke-width="0.75"/>
<line x1="993.76" y1="587.40" x2="993.76" y2="589.90" stroke="#4a4a4a" stroke-width="0.75"/>
<line x1="998.62" y1="587.40" x2="998.62" y2="589.90" stroke="#4a4a4a" stroke-width="0.75"/>
<line x1="1002.39" y1="587.40" x2="1002.39" y2="589.90" stroke="#4a4a4a" stroke-width="0.75"/>
<line x1="1005.47" y1="587.40" x2="1005.47" y2="589.90" stroke="#4a4a4a" stroke-width="0.75"/>
<line x1="1008.07" y1="587.40" x2="1008.07" y2="589.90" stroke="#4a4a4a" stroke-width="0.75"/>
<line x1="1010.33" y1="587.40" x2="1010.33" y2="589.90" stroke="#4a4a4a" stroke-width="0.75"/>
<line x1="1012.32" y1="587.40" x2="1012.32" y2="589.90" stroke="#4a4a4a" stroke-width="0.75"/>
<line x1="897.10" y1="587.40" x2="897.10" y2="591.80" stroke="#3c3c3c" stroke-width="0.9"/>
<line x1="936.20" y1="587.40" x2="936.20" y2="591.80" stroke="#3c3c3c" stroke-width="0.9"/>
<line x1="975.20" y1="587.40" x2="975.20" y2="591.80" stroke="#3c3c3c" stroke-width="0.9"/>
<line x1="1014.10" y1="587.40" x2="1014.10" y2="591.80" stroke="#3c3c3c" stroke-width="0.9"/>
<text transform="translate(899.30 602.60) scale(0.840 1)" text-anchor="end" class="tk">10</text>
<text transform="translate(899.40 597.90) scale(0.780 1)" text-anchor="start" class="sup">0</text>
<text transform="translate(938.40 602.60) scale(0.840 1)" text-anchor="end" class="tk">10</text>
<text transform="translate(938.50 597.90) scale(0.780 1)" text-anchor="start" class="sup">1</text>
<text transform="translate(977.40 602.60) scale(0.840 1)" text-anchor="end" class="tk">10</text>
<text transform="translate(977.50 597.90) scale(0.780 1)" text-anchor="start" class="sup">2</text>
<text transform="translate(1016.30 602.60) scale(0.840 1)" text-anchor="end" class="tk">10</text>
<text transform="translate(1016.40 597.90) scale(0.780 1)" text-anchor="start" class="sup">3</text>
<text transform="translate(936.60 610.10) scale(0.870 1)" text-anchor="middle" class="ax">FL1: FL1 Log</text>
<text transform="translate(838.70 509.90) rotate(-90) scale(0.87 1)" text-anchor="middle" class="ax"># Cells</text>
<path d="M859.3 587.1 L860.5 587.1 L861.8 587.1 L863.0 587.1 L864.3 587.1 L865.6 587.1 L866.8 587.1 L868.1 587.1 L869.4 587.1 L870.6 587.1 L871.9 587.1 L873.2 587.1 L874.4 587.1 L875.7 587.1 L876.9 587.1 L878.2 587.1 L879.5 587.1 L880.7 587.1 L882.2 586.7 L883.7 586.0 L884.3 584.8 L884.9 583.6 L885.6 582.5 L886.2 581.2 L886.5 579.8 L886.9 578.7 L887.2 577.0 L887.5 575.8 L887.8 575.0 L888.2 573.4 L888.3 572.2 L888.5 570.9 L888.6 569.3 L888.8 568.4 L888.9 567.0 L889.1 565.8 L889.2 564.9 L889.4 563.2 L889.5 562.9 L889.7 560.8 L889.8 559.4 L890.0 558.9 L890.1 557.6 L890.2 556.0 L890.3 555.5 L890.4 554.1 L890.5 553.2 L890.6 552.1 L890.7 549.8 L890.8 549.0 L890.9 547.4 L891.0 546.0 L891.1 544.8 L891.2 543.7 L891.3 542.6 L891.4 541.6 L891.5 540.3 L891.6 539.4 L891.7 537.0 L891.8 536.0 L891.9 535.7 L892.0 534.4 L892.1 532.6 L892.2 530.9 L892.3 529.5 L892.4 528.2 L892.5 528.2 L892.6 526.7 L892.7 525.1 L892.8 524.0 L892.9 522.5 L892.9 521.3 L893.0 519.6 L893.1 519.1 L893.2 517.7 L893.3 516.4 L893.4 514.5 L893.4 513.1 L893.5 511.8 L893.6 511.6 L893.7 510.6 L893.8 508.9 L893.9 507.8 L893.9 506.1 L894.0 505.0 L894.1 503.2 L894.2 502.8 L894.3 500.3 L894.3 500.0 L894.4 498.4 L894.5 496.6 L894.6 496.0 L894.7 494.5 L894.7 493.8 L894.8 491.7 L894.9 490.9 L895.0 489.7 L895.1 488.2 L895.2 487.0 L895.2 485.6 L895.3 484.8 L895.4 483.7 L895.5 482.4 L895.6 480.4 L895.6 480.4 L895.7 478.8 L895.8 477.2 L895.9 476.6 L896.0 475.0 L896.1 473.0 L896.2 472.3 L896.3 470.6 L896.5 470.2 L896.6 468.8 L896.7 466.9 L896.8 466.3 L897.0 465.4 L897.1 463.8 L897.2 462.2 L897.3 461.0 L897.6 459.3 L897.9 458.6 L898.2 458.1 L898.4 456.3 L898.7 455.1 L899.9 453.2 L900.2 455.3 L900.5 456.6 L900.9 457.1 L901.0 458.9 L901.1 459.2 L901.2 461.7 L901.3 462.4 L901.4 463.7 L901.5 465.5 L901.6 466.6 L901.7 467.8 L901.8 469.0 L901.9 470.6 L902.0 471.8 L902.0 472.8 L902.1 473.2 L902.1 475.1 L902.2 476.9 L902.3 477.4 L902.3 478.1 L902.4 480.2 L902.4 481.5 L902.5 482.4 L902.6 483.7 L902.6 484.2 L902.7 486.6 L902.7 487.2 L902.8 488.3 L902.9 489.1 L902.9 491.7 L903.0 491.9 L903.1 494.2 L903.1 494.9 L903.2 496.4 L903.2 496.8 L903.3 499.1 L903.4 500.1 L903.4 501.4 L903.5 502.3 L903.5 503.4 L903.6 505.4 L903.7 506.3 L903.7 507.9 L903.8 509.0 L903.8 510.0 L903.9 510.8 L904.0 512.4 L904.0 513.6 L904.1 514.8 L904.1 517.0 L904.2 517.6 L904.2 519.0 L904.3 519.5 L904.4 521.4 L904.4 522.5 L904.5 524.3 L904.5 525.6 L904.6 526.8 L904.6 528.2 L904.7 529.7 L904.8 530.3 L904.8 531.1 L904.9 532.4 L905.0 533.7 L905.0 535.7 L905.1 535.9 L905.2 537.8 L905.2 539.4 L905.3 540.1 L905.4 541.5 L905.4 541.8 L905.5 544.1 L905.5 545.6 L905.6 545.5 L905.7 546.9 L905.7 548.6 L905.8 549.4 L905.9 550.4 L905.9 551.7 L906.0 553.6 L906.1 554.6 L906.1 555.8 L906.2 556.5 L906.3 558.4 L906.4 559.4 L906.5 560.6 L906.6 562.3 L906.7 562.9 L906.8 564.1 L906.9 565.1 L907.0 566.7 L907.1 568.1 L907.2 569.1 L907.3 570.5 L907.4 571.2 L907.5 573.0 L907.6 574.3 L907.7 575.3 L908.1 576.5 L908.5 577.6 L908.9 578.8 L909.3 580.0 L909.6 581.2 L910.8 582.0 L911.9 583.2 L913.0 584.1 L914.2 584.4 L915.4 584.7 L916.6 585.1 L917.9 585.4 L919.0 585.7 L920.2 586.0 L921.4 586.4 L922.5 586.7 L923.7 587.0 L924.9 587.0 L926.1 587.0 L927.3 587.0 L928.6 587.0 L929.8 587.0 L931.0 587.0 L932.2 587.0 L933.4 587.0 L934.6 587.0 L935.8 587.0 L937.0 587.1 L938.2 587.1 L939.5 587.1 L940.7 587.1 L941.9 587.1 L943.1 587.1 L944.3 587.1 L945.5 587.1 L946.7 587.1 L947.9 587.1 L949.1 587.1 L950.4 587.1 L951.6 587.1 L952.8 587.1 L954.0 587.1 L955.2 587.1 L956.4 587.1 L957.6 587.1 L958.8 587.1 L960.0 587.1 L961.2 587.1 L962.5 587.1 L963.7 587.1 L964.9 587.1 L966.1 587.1 L967.3 587.1 L968.5 587.1 L969.7 587.1 L970.9 587.1 L972.1 587.1 L973.4 587.1 L974.6 587.1 L975.8 587.1 L977.0 587.1 L978.2 587.1 L979.4 587.1 L980.6 587.1 L981.8 587.1 L983.0 587.1 L984.3 587.1 L985.5 587.1 L986.7 587.1 L987.9 587.1 L989.1 587.1 L990.3 587.1 L991.5 587.1 L992.7 587.1 L993.9 587.1 L995.2 587.1 L996.4 587.1 L997.6 587.1 L998.8 587.1 L1000.0 587.1 L1001.2 587.1 L1002.4 587.1 L1003.6 587.1 L1004.8 587.1 L1006.1 587.1 L1007.3 587.1 L1008.5 587.1 L1009.7 587.1 L1010.9 587.1 L1012.1 587.1 L1013.3 587.1 L1014.5 587.4" fill="none" stroke="#000" stroke-opacity="0.22" stroke-width="2.7" stroke-linejoin="round" stroke-linecap="round"/>
<path d="M859.3 587.1 L860.5 587.1 L861.8 587.1 L863.0 587.1 L864.3 587.1 L865.6 587.1 L866.8 587.1 L868.1 587.1 L869.4 587.1 L870.6 587.1 L871.9 587.1 L873.2 587.1 L874.4 587.1 L875.7 587.1 L876.9 587.1 L878.2 587.1 L879.5 587.1 L880.7 587.1 L882.2 586.7 L883.7 586.0 L884.3 584.8 L884.9 583.6 L885.6 582.5 L886.2 581.2 L886.5 579.8 L886.9 578.7 L887.2 577.0 L887.5 575.8 L887.8 575.0 L888.2 573.4 L888.3 572.2 L888.5 570.9 L888.6 569.3 L888.8 568.4 L888.9 567.0 L889.1 565.8 L889.2 564.9 L889.4 563.2 L889.5 562.9 L889.7 560.8 L889.8 559.4 L890.0 558.9 L890.1 557.6 L890.2 556.0 L890.3 555.5 L890.4 554.1 L890.5 553.2 L890.6 552.1 L890.7 549.8 L890.8 549.0 L890.9 547.4 L891.0 546.0 L891.1 544.8 L891.2 543.7 L891.3 542.6 L891.4 541.6 L891.5 540.3 L891.6 539.4 L891.7 537.0 L891.8 536.0 L891.9 535.7 L892.0 534.4 L892.1 532.6 L892.2 530.9 L892.3 529.5 L892.4 528.2 L892.5 528.2 L892.6 526.7 L892.7 525.1 L892.8 524.0 L892.9 522.5 L892.9 521.3 L893.0 519.6 L893.1 519.1 L893.2 517.7 L893.3 516.4 L893.4 514.5 L893.4 513.1 L893.5 511.8 L893.6 511.6 L893.7 510.6 L893.8 508.9 L893.9 507.8 L893.9 506.1 L894.0 505.0 L894.1 503.2 L894.2 502.8 L894.3 500.3 L894.3 500.0 L894.4 498.4 L894.5 496.6 L894.6 496.0 L894.7 494.5 L894.7 493.8 L894.8 491.7 L894.9 490.9 L895.0 489.7 L895.1 488.2 L895.2 487.0 L895.2 485.6 L895.3 484.8 L895.4 483.7 L895.5 482.4 L895.6 480.4 L895.6 480.4 L895.7 478.8 L895.8 477.2 L895.9 476.6 L896.0 475.0 L896.1 473.0 L896.2 472.3 L896.3 470.6 L896.5 470.2 L896.6 468.8 L896.7 466.9 L896.8 466.3 L897.0 465.4 L897.1 463.8 L897.2 462.2 L897.3 461.0 L897.6 459.3 L897.9 458.6 L898.2 458.1 L898.4 456.3 L898.7 455.1 L899.9 453.2 L900.2 455.3 L900.5 456.6 L900.9 457.1 L901.0 458.9 L901.1 459.2 L901.2 461.7 L901.3 462.4 L901.4 463.7 L901.5 465.5 L901.6 466.6 L901.7 467.8 L901.8 469.0 L901.9 470.6 L902.0 471.8 L902.0 472.8 L902.1 473.2 L902.1 475.1 L902.2 476.9 L902.3 477.4 L902.3 478.1 L902.4 480.2 L902.4 481.5 L902.5 482.4 L902.6 483.7 L902.6 484.2 L902.7 486.6 L902.7 487.2 L902.8 488.3 L902.9 489.1 L902.9 491.7 L903.0 491.9 L903.1 494.2 L903.1 494.9 L903.2 496.4 L903.2 496.8 L903.3 499.1 L903.4 500.1 L903.4 501.4 L903.5 502.3 L903.5 503.4 L903.6 505.4 L903.7 506.3 L903.7 507.9 L903.8 509.0 L903.8 510.0 L903.9 510.8 L904.0 512.4 L904.0 513.6 L904.1 514.8 L904.1 517.0 L904.2 517.6 L904.2 519.0 L904.3 519.5 L904.4 521.4 L904.4 522.5 L904.5 524.3 L904.5 525.6 L904.6 526.8 L904.6 528.2 L904.7 529.7 L904.8 530.3 L904.8 531.1 L904.9 532.4 L905.0 533.7 L905.0 535.7 L905.1 535.9 L905.2 537.8 L905.2 539.4 L905.3 540.1 L905.4 541.5 L905.4 541.8 L905.5 544.1 L905.5 545.6 L905.6 545.5 L905.7 546.9 L905.7 548.6 L905.8 549.4 L905.9 550.4 L905.9 551.7 L906.0 553.6 L906.1 554.6 L906.1 555.8 L906.2 556.5 L906.3 558.4 L906.4 559.4 L906.5 560.6 L906.6 562.3 L906.7 562.9 L906.8 564.1 L906.9 565.1 L907.0 566.7 L907.1 568.1 L907.2 569.1 L907.3 570.5 L907.4 571.2 L907.5 573.0 L907.6 574.3 L907.7 575.3 L908.1 576.5 L908.5 577.6 L908.9 578.8 L909.3 580.0 L909.6 581.2 L910.8 582.0 L911.9 583.2 L913.0 584.1 L914.2 584.4 L915.4 584.7 L916.6 585.1 L917.9 585.4 L919.0 585.7 L920.2 586.0 L921.4 586.4 L922.5 586.7 L923.7 587.0 L924.9 587.0 L926.1 587.0 L927.3 587.0 L928.6 587.0 L929.8 587.0 L931.0 587.0 L932.2 587.0 L933.4 587.0 L934.6 587.0 L935.8 587.0 L937.0 587.1 L938.2 587.1 L939.5 587.1 L940.7 587.1 L941.9 587.1 L943.1 587.1 L944.3 587.1 L945.5 587.1 L946.7 587.1 L947.9 587.1 L949.1 587.1 L950.4 587.1 L951.6 587.1 L952.8 587.1 L954.0 587.1 L955.2 587.1 L956.4 587.1 L957.6 587.1 L958.8 587.1 L960.0 587.1 L961.2 587.1 L962.5 587.1 L963.7 587.1 L964.9 587.1 L966.1 587.1 L967.3 587.1 L968.5 587.1 L969.7 587.1 L970.9 587.1 L972.1 587.1 L973.4 587.1 L974.6 587.1 L975.8 587.1 L977.0 587.1 L978.2 587.1 L979.4 587.1 L980.6 587.1 L981.8 587.1 L983.0 587.1 L984.3 587.1 L985.5 587.1 L986.7 587.1 L987.9 587.1 L989.1 587.1 L990.3 587.1 L991.5 587.1 L992.7 587.1 L993.9 587.1 L995.2 587.1 L996.4 587.1 L997.6 587.1 L998.8 587.1 L1000.0 587.1 L1001.2 587.1 L1002.4 587.1 L1003.6 587.1 L1004.8 587.1 L1006.1 587.1 L1007.3 587.1 L1008.5 587.1 L1009.7 587.1 L1010.9 587.1 L1012.1 587.1 L1013.3 587.1 L1014.5 587.4" fill="none" stroke="#141414" stroke-width="1.65" stroke-linejoin="round" stroke-linecap="round"/>
</g>
</g>
</svg>
</body>
</html>
